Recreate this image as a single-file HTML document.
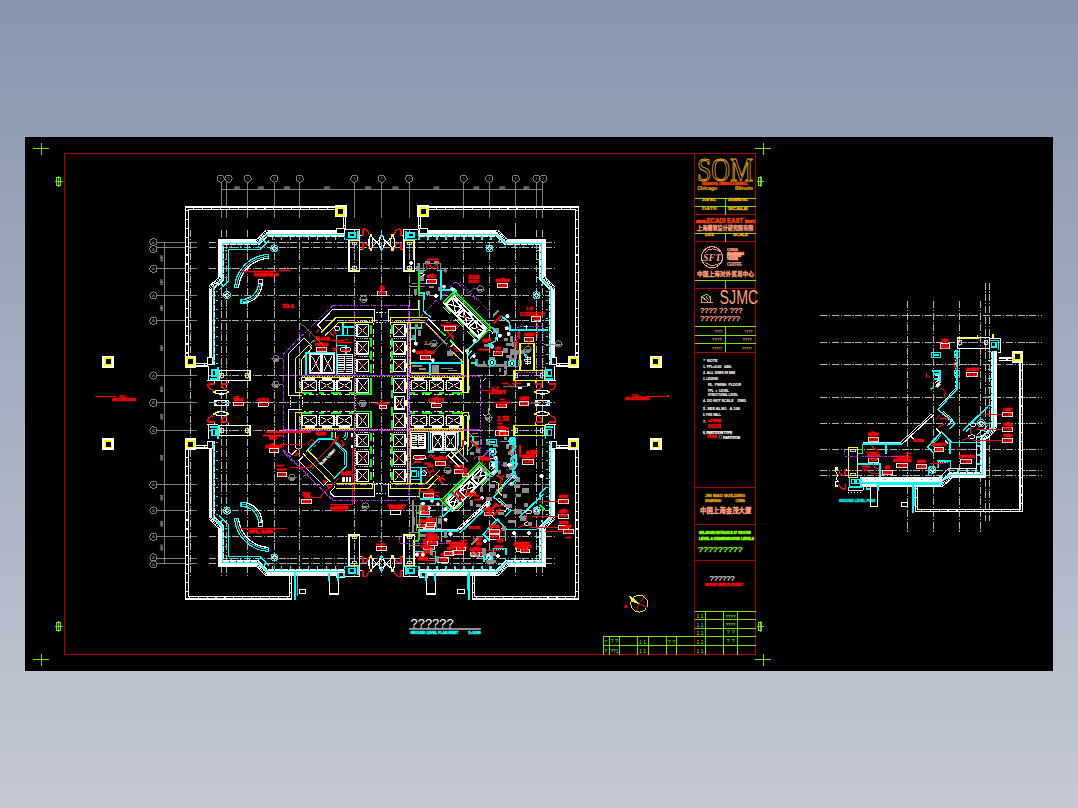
<!DOCTYPE html>
<html lang="zh"><head><meta charset="utf-8"><title>GROUND LEVEL PLAN - JIN MAO BUILDING</title>
<style>
html,body{margin:0;padding:0;width:1078px;height:808px;overflow:hidden}
body{background:linear-gradient(to bottom,#8696ad 0%,#c4c8d4 100%)}
svg{position:absolute;left:0;top:0;display:block}
text{white-space:pre}
</style></head><body>
<svg shape-rendering="crispEdges" width="1078" height="808" viewBox="0 0 1078 808">
<rect x="25" y="137" width="1028" height="534" fill="#000"/>
<polygon points="64.5,153.5 755.7,153.5 755.7,654.6 64.5,654.6" fill="none" stroke="#a80000" stroke-width="1.1"/>
<line x1="694.6" y1="153.5" x2="694.6" y2="654.6" stroke="#a80000" stroke-width="1.1"/>
<line x1="33.4" y1="148.5" x2="49.4" y2="148.5" stroke="#80ff00" stroke-width="0.9"/>
<line x1="41.4" y1="142.5" x2="41.4" y2="154.5" stroke="#80ff00" stroke-width="0.9"/>
<line x1="755.4" y1="148.5" x2="771.4" y2="148.5" stroke="#80ff00" stroke-width="0.9"/>
<line x1="763.4" y1="142.5" x2="763.4" y2="154.5" stroke="#80ff00" stroke-width="0.9"/>
<line x1="33.4" y1="659.5" x2="49.4" y2="659.5" stroke="#80ff00" stroke-width="0.9"/>
<line x1="41.4" y1="653.5" x2="41.4" y2="665.5" stroke="#80ff00" stroke-width="0.9"/>
<line x1="755.4" y1="659.5" x2="771.4" y2="659.5" stroke="#80ff00" stroke-width="0.9"/>
<line x1="763.4" y1="653.5" x2="763.4" y2="665.5" stroke="#80ff00" stroke-width="0.9"/>
<rect x="56.8" y="177.1" width="3.4" height="8.4" fill="none" stroke="#80ff00" stroke-width="0.9"/>
<line x1="58.5" y1="175.8" x2="58.5" y2="186.8" stroke="#80ff00" stroke-width="0.8"/>
<line x1="55.2" y1="181.3" x2="62.5" y2="181.3" stroke="#80ff00" stroke-width="0.8"/>
<rect x="758.5" y="177.1" width="3.4" height="8.4" fill="none" stroke="#80ff00" stroke-width="0.9"/>
<line x1="760.2" y1="175.8" x2="760.2" y2="186.8" stroke="#80ff00" stroke-width="0.8"/>
<line x1="756.9" y1="181.3" x2="764.2" y2="181.3" stroke="#80ff00" stroke-width="0.8"/>
<rect x="56.8" y="622.3" width="3.4" height="8.4" fill="none" stroke="#80ff00" stroke-width="0.9"/>
<line x1="58.5" y1="621" x2="58.5" y2="632" stroke="#80ff00" stroke-width="0.8"/>
<line x1="55.2" y1="626.5" x2="62.5" y2="626.5" stroke="#80ff00" stroke-width="0.8"/>
<rect x="758.5" y="622.3" width="3.4" height="8.4" fill="none" stroke="#80ff00" stroke-width="0.9"/>
<line x1="760.2" y1="621" x2="760.2" y2="632" stroke="#80ff00" stroke-width="0.8"/>
<line x1="756.9" y1="626.5" x2="764.2" y2="626.5" stroke="#80ff00" stroke-width="0.8"/>
<line x1="694.6" y1="214.5" x2="755.7" y2="214.5" stroke="#a80000" stroke-width="1.1"/>
<line x1="694.6" y1="241.6" x2="755.7" y2="241.6" stroke="#a80000" stroke-width="1.1"/>
<line x1="694.6" y1="288.6" x2="755.7" y2="288.6" stroke="#a80000" stroke-width="1.1"/>
<line x1="694.6" y1="352.3" x2="755.7" y2="352.3" stroke="#a80000" stroke-width="1.1"/>
<line x1="694.6" y1="487.3" x2="755.7" y2="487.3" stroke="#a80000" stroke-width="1.1"/>
<line x1="694.6" y1="524.5" x2="755.7" y2="524.5" stroke="#a80000" stroke-width="1.1"/>
<line x1="694.6" y1="560.4" x2="755.7" y2="560.4" stroke="#a80000" stroke-width="1.1"/>
<line x1="694.6" y1="198.6" x2="755.7" y2="198.6" stroke="#80ff00" stroke-width="0.9"/>
<line x1="694.6" y1="206.5" x2="755.7" y2="206.5" stroke="#80ff00" stroke-width="0.9"/>
<line x1="694.6" y1="233.6" x2="755.7" y2="233.6" stroke="#80ff00" stroke-width="0.9"/>
<line x1="694.6" y1="280.5" x2="755.7" y2="280.5" stroke="#80ff00" stroke-width="0.9"/>
<line x1="694.6" y1="326.4" x2="755.7" y2="326.4" stroke="#80ff00" stroke-width="0.9"/>
<line x1="694.6" y1="335.5" x2="755.7" y2="335.5" stroke="#80ff00" stroke-width="0.9"/>
<line x1="694.6" y1="343.6" x2="755.7" y2="343.6" stroke="#80ff00" stroke-width="0.9"/>
<line x1="725.5" y1="198.6" x2="725.5" y2="214.5" stroke="#80ff00" stroke-width="0.9"/>
<line x1="725.5" y1="233.6" x2="725.5" y2="241.6" stroke="#80ff00" stroke-width="0.9"/>
<line x1="725.5" y1="280.5" x2="725.5" y2="288.6" stroke="#80ff00" stroke-width="0.9"/>
<line x1="725.5" y1="326.4" x2="725.5" y2="352.3" stroke="#80ff00" stroke-width="0.9"/>
<text x="697" y="180.8" font-family="'Liberation Serif','Noto Serif CJK SC',serif" font-size="34.5" font-weight="normal" fill="#e8a800" text-anchor="start" textLength="56" lengthAdjust="spacingAndGlyphs" style="fill:none;stroke:#eaaa00;stroke-width:1px">SOM</text>
<text x="702" y="184.6" font-family="'Liberation Sans','Noto Sans CJK SC',sans-serif" font-size="3.1" font-weight="bold" fill="#ff4000" text-anchor="start" textLength="46" lengthAdjust="spacingAndGlyphs" stroke="#ff4000" stroke-width="0.35">SKIDMORE, OWINGS &amp; MERRILL</text>
<text x="697.2" y="190.2" font-family="'Liberation Sans','Noto Sans CJK SC',sans-serif" font-size="5" font-weight="bold" fill="#e8a800" text-anchor="start" textLength="20" lengthAdjust="spacingAndGlyphs" stroke="#e8a800" stroke-width="0.2">Chicago</text>
<text x="735" y="190.2" font-family="'Liberation Sans','Noto Sans CJK SC',sans-serif" font-size="5" font-weight="bold" fill="#e8a800" text-anchor="start" textLength="18" lengthAdjust="spacingAndGlyphs" stroke="#e8a800" stroke-width="0.2">Illinois</text>
<text x="702" y="201.2" font-family="'Liberation Sans','Noto Sans CJK SC',sans-serif" font-size="2.6" font-weight="bold" fill="#e8a800" text-anchor="start" textLength="14" lengthAdjust="spacingAndGlyphs" stroke="#e8a800" stroke-width="0.3">JOB NO.</text>
<text x="728" y="201.2" font-family="'Liberation Sans','Noto Sans CJK SC',sans-serif" font-size="2.6" font-weight="bold" fill="#e8a800" text-anchor="start" textLength="20" lengthAdjust="spacingAndGlyphs" stroke="#e8a800" stroke-width="0.3">DRAWING NO.</text>
<text x="702" y="209.6" font-family="'Liberation Sans','Noto Sans CJK SC',sans-serif" font-size="2.6" font-weight="bold" fill="#e8a800" text-anchor="start" textLength="15" lengthAdjust="spacingAndGlyphs" stroke="#e8a800" stroke-width="0.15">DATE</text>
<text x="728" y="209.6" font-family="'Liberation Sans','Noto Sans CJK SC',sans-serif" font-size="2.6" font-weight="bold" fill="#e8a800" text-anchor="start" textLength="20" lengthAdjust="spacingAndGlyphs" stroke="#e8a800" stroke-width="0.3">SCALE</text>
<text x="706.6" y="222.6" font-family="'Liberation Sans','Noto Sans CJK SC',sans-serif" font-size="7" font-weight="bold" fill="#ff4000" text-anchor="start" textLength="36.5" lengthAdjust="spacingAndGlyphs" stroke="#ff4000" stroke-width="0.5">ECADI EAST</text>
<text x="696" y="222.8" font-family="'Liberation Sans','Noto Sans CJK SC',sans-serif" font-size="2.6" font-weight="bold" fill="#ff4000" text-anchor="start" textLength="10.4" lengthAdjust="spacingAndGlyphs" stroke="#ff4000" stroke-width="0.6">ARCH.</text>
<text x="745" y="222.8" font-family="'Liberation Sans','Noto Sans CJK SC',sans-serif" font-size="3.4" font-weight="bold" fill="#ff4000" text-anchor="start" textLength="10.4" lengthAdjust="spacingAndGlyphs" stroke="#ff4000" stroke-width="0.6">INST.</text>
<text x="697" y="229.8" font-family="'Liberation Sans','Noto Sans CJK SC',sans-serif" font-size="5.4" font-weight="bold" fill="#ff9f80" text-anchor="start" textLength="56.5" lengthAdjust="spacingAndGlyphs" stroke="#ff9f80" stroke-width="0.3">上海建筑设计研究院有限</text>
<text x="705" y="236.4" font-family="'Liberation Sans','Noto Sans CJK SC',sans-serif" font-size="2.6" font-weight="bold" fill="#e8a800" text-anchor="start" textLength="9" lengthAdjust="spacingAndGlyphs" stroke="#e8a800" stroke-width="0.3">DATE</text>
<text x="733" y="236.4" font-family="'Liberation Sans','Noto Sans CJK SC',sans-serif" font-size="2.6" font-weight="bold" fill="#e8a800" text-anchor="start" textLength="15" lengthAdjust="spacingAndGlyphs" stroke="#e8a800" stroke-width="0.3">SCALE</text>
<circle cx="712" cy="257.2" r="10.6" fill="none" stroke="#ff9f80" stroke-width="1.1"/>
<text x="712" y="260.6" font-family="'Liberation Serif','Noto Serif CJK SC',serif" font-size="9.5" font-weight="bold" fill="#ff9f80" text-anchor="middle" textLength="18" lengthAdjust="spacingAndGlyphs" font-style="italic">SFT</text>
<path d="M704.5,252 Q712,246 720,251.5 M704.5,262.5 Q712,268.5 720.5,262.5" fill="none" stroke="#ff9f80" stroke-width="0.9"/>
<text x="727" y="250.6" font-family="'Liberation Sans','Noto Sans CJK SC',sans-serif" font-size="3.2" font-weight="bold" fill="#ff9f80" text-anchor="start" textLength="11" lengthAdjust="spacingAndGlyphs" stroke="#ff9f80" stroke-width="0.25">CHINA</text>
<text x="727" y="254.8" font-family="'Liberation Sans','Noto Sans CJK SC',sans-serif" font-size="3" font-weight="bold" fill="#ff9f80" text-anchor="start" textLength="17" lengthAdjust="spacingAndGlyphs" stroke="#ff9f80" stroke-width="0.5">SHANGHAI</text>
<text x="727" y="257.4" font-family="'Liberation Sans','Noto Sans CJK SC',sans-serif" font-size="3" font-weight="bold" fill="#ff9f80" text-anchor="start" textLength="14" lengthAdjust="spacingAndGlyphs" stroke="#ff9f80" stroke-width="0.5">FOREIGN</text>
<text x="727" y="260" font-family="'Liberation Sans','Noto Sans CJK SC',sans-serif" font-size="3" font-weight="bold" fill="#ff9f80" text-anchor="start" textLength="11" lengthAdjust="spacingAndGlyphs" stroke="#ff9f80" stroke-width="0.5">TRADE</text>
<text x="727" y="266.4" font-family="'Liberation Sans','Noto Sans CJK SC',sans-serif" font-size="4.6" font-weight="bold" fill="#ff9f80" text-anchor="start" textLength="14.5" lengthAdjust="spacingAndGlyphs" stroke="#ff9f80" stroke-width="0.2">CENTRE</text>
<text x="697" y="275.8" font-family="'Liberation Sans','Noto Sans CJK SC',sans-serif" font-size="6" font-weight="bold" fill="#ff9f80" text-anchor="start" textLength="57" lengthAdjust="spacingAndGlyphs" stroke="#ff9f80" stroke-width="0.3">中国上海对外贸易中心</text>
<text x="719.6" y="303.7" font-family="'Liberation Sans','Noto Sans CJK SC',sans-serif" font-size="19.6" font-weight="normal" fill="#ff9f80" text-anchor="start" textLength="38.6" lengthAdjust="spacingAndGlyphs">SJMC</text>
<polyline points="701.2,302.6 701.2,296.6 707,294.3 710,296.4 710,302.6 713,302.6 701.2,302.6" fill="none" stroke="#ff9f80" stroke-width="0.9"/>
<polyline points="703.5,296.5 708.5,302" fill="none" stroke="#ff9f80" stroke-width="0.9"/>
<polyline points="706,295.5 710,300" fill="none" stroke="#ff9f80" stroke-width="0.9"/>
<line x1="702.5" y1="297.3" x2="705" y2="299.8" stroke="#00ff00" stroke-width="1.1"/>
<line x1="708.6" y1="295.2" x2="709.6" y2="298" stroke="#00ff00" stroke-width="1"/>
<text x="700" y="313" font-family="'Liberation Sans','Noto Sans CJK SC',sans-serif" font-size="6.6" font-weight="normal" fill="#ff9f80" text-anchor="start" textLength="42.5" lengthAdjust="spacingAndGlyphs" stroke="#ff9f80" stroke-width="0.3">???? ?? ???</text>
<text x="700" y="320.8" font-family="'Liberation Sans','Noto Sans CJK SC',sans-serif" font-size="6.6" font-weight="normal" fill="#ff9f80" text-anchor="start" textLength="40" lengthAdjust="spacingAndGlyphs" stroke="#ff9f80" stroke-width="0.3">?????????</text>
<text x="714.5" y="333" font-family="'Liberation Sans','Noto Sans CJK SC',sans-serif" font-size="4.2" font-weight="bold" fill="#ff9f80" text-anchor="start" textLength="8" lengthAdjust="spacingAndGlyphs">????</text>
<text x="744.5" y="333" font-family="'Liberation Sans','Noto Sans CJK SC',sans-serif" font-size="4.2" font-weight="bold" fill="#ff9f80" text-anchor="start" textLength="8" lengthAdjust="spacingAndGlyphs">????</text>
<text x="712" y="341.2" font-family="'Liberation Sans','Noto Sans CJK SC',sans-serif" font-size="4.2" font-weight="bold" fill="#ff9f80" text-anchor="start" textLength="10" lengthAdjust="spacingAndGlyphs">????</text>
<text x="742.5" y="341.2" font-family="'Liberation Sans','Noto Sans CJK SC',sans-serif" font-size="4.2" font-weight="bold" fill="#ff9f80" text-anchor="start" textLength="9.5" lengthAdjust="spacingAndGlyphs">????</text>
<text x="712" y="349.8" font-family="'Liberation Sans','Noto Sans CJK SC',sans-serif" font-size="4.2" font-weight="bold" fill="#ff9f80" text-anchor="start" textLength="10" lengthAdjust="spacingAndGlyphs">?????</text>
<text x="742" y="349.8" font-family="'Liberation Sans','Noto Sans CJK SC',sans-serif" font-size="4.2" font-weight="bold" fill="#ff9f80" text-anchor="start" textLength="10" lengthAdjust="spacingAndGlyphs">?????</text>
<text x="703.5" y="361.6" font-family="'Liberation Sans','Noto Sans CJK SC',sans-serif" font-size="3.4" font-weight="bold" fill="#ffffff" text-anchor="start" textLength="14" lengthAdjust="spacingAndGlyphs" stroke="#ffffff" stroke-width="0.1">*  NOTE</text>
<text x="703" y="368" font-family="'Liberation Sans','Noto Sans CJK SC',sans-serif" font-size="3.2" font-weight="bold" fill="#ffffff" text-anchor="start" textLength="29" lengthAdjust="spacingAndGlyphs" stroke="#ffffff" stroke-width="0.1">1. FFL=0.00   ABS.</text>
<text x="703" y="374" font-family="'Liberation Sans','Noto Sans CJK SC',sans-serif" font-size="3.2" font-weight="bold" fill="#ffffff" text-anchor="start" textLength="32" lengthAdjust="spacingAndGlyphs" stroke="#ffffff" stroke-width="0.1">2. ALL DIMS IN MM</text>
<text x="703" y="380" font-family="'Liberation Sans','Noto Sans CJK SC',sans-serif" font-size="3.2" font-weight="bold" fill="#ffffff" text-anchor="start" textLength="15" lengthAdjust="spacingAndGlyphs" stroke="#ffffff" stroke-width="0.1">3. LEGEND</text>
<text x="708" y="386" font-family="'Liberation Sans','Noto Sans CJK SC',sans-serif" font-size="3.2" font-weight="bold" fill="#ffffff" text-anchor="start" textLength="33" lengthAdjust="spacingAndGlyphs" stroke="#ffffff" stroke-width="0.1">RL  FINISH  FLOOR</text>
<text x="708" y="392.2" font-family="'Liberation Sans','Noto Sans CJK SC',sans-serif" font-size="3.2" font-weight="bold" fill="#ffffff" text-anchor="start" textLength="21" lengthAdjust="spacingAndGlyphs" stroke="#ffffff" stroke-width="0.1">FFL  =  LEVEL</text>
<text x="708" y="396" font-family="'Liberation Sans','Noto Sans CJK SC',sans-serif" font-size="2.8" font-weight="bold" fill="#ffffff" text-anchor="start" textLength="30" lengthAdjust="spacingAndGlyphs" stroke="#ffffff" stroke-width="0.1">STRUCTURAL LEVEL</text>
<text x="703" y="402.4" font-family="'Liberation Sans','Noto Sans CJK SC',sans-serif" font-size="3.2" font-weight="bold" fill="#ffffff" text-anchor="start" textLength="43" lengthAdjust="spacingAndGlyphs" stroke="#ffffff" stroke-width="0.1">4. DO NOT SCALE    DWG</text>
<text x="703" y="409.8" font-family="'Liberation Sans','Noto Sans CJK SC',sans-serif" font-size="3.2" font-weight="bold" fill="#ffffff" text-anchor="start" textLength="37" lengthAdjust="spacingAndGlyphs" stroke="#ffffff" stroke-width="0.1">5. SEE ALSO   A-100</text>
<text x="703" y="416" font-family="'Liberation Sans','Noto Sans CJK SC',sans-serif" font-size="3.2" font-weight="bold" fill="#ffffff" text-anchor="start" textLength="18" lengthAdjust="spacingAndGlyphs" stroke="#ffffff" stroke-width="0.1">6. FIRE WALL</text>
<text x="703" y="422.6" font-family="'Liberation Sans','Noto Sans CJK SC',sans-serif" font-size="3.2" font-weight="bold" fill="#ffffff" text-anchor="start" textLength="3" lengthAdjust="spacingAndGlyphs" stroke="#ffffff" stroke-width="0.1">7.</text>
<text x="708" y="421.6" font-family="'Liberation Sans','Noto Sans CJK SC',sans-serif" font-size="3.2" font-weight="bold" fill="#ff0000" text-anchor="start" textLength="13" lengthAdjust="spacingAndGlyphs" stroke="#ff0000" stroke-width="0.4">=FIRE</text>
<text x="708" y="427.6" font-family="'Liberation Sans','Noto Sans CJK SC',sans-serif" font-size="4.6" font-weight="bold" fill="#ff0000" text-anchor="start" textLength="13" lengthAdjust="spacingAndGlyphs" stroke="#ff0000" stroke-width="0.4">DOOR</text>
<text x="703" y="433.6" font-family="'Liberation Sans','Noto Sans CJK SC',sans-serif" font-size="3.2" font-weight="bold" fill="#ffffff" text-anchor="start" textLength="29" lengthAdjust="spacingAndGlyphs" stroke="#ffffff" stroke-width="0.25">8. PARTITION TYPE</text>
<text x="707" y="438.4" font-family="'Liberation Sans','Noto Sans CJK SC',sans-serif" font-size="2.8" font-weight="bold" fill="#ff0000" text-anchor="start" textLength="10" lengthAdjust="spacingAndGlyphs" stroke="#ff0000" stroke-width="0.4">TYPE</text>
<rect x="719" y="435.3" width="2.4" height="3.2" fill="none" stroke="#8c8c8c" stroke-width="0.6"/>
<rect x="719.4" y="435.8" width="1" height="2.2" fill="#ff0000"/>
<text x="723" y="438.6" font-family="'Liberation Sans','Noto Sans CJK SC',sans-serif" font-size="3.4" font-weight="bold" fill="#ffffff" text-anchor="start" textLength="17" lengthAdjust="spacingAndGlyphs" stroke="#ffffff" stroke-width="0.2">PARTITION</text>
<text x="705" y="497.2" font-family="'Liberation Sans','Noto Sans CJK SC',sans-serif" font-size="3.8" font-weight="bold" fill="#e8a800" text-anchor="start" textLength="40" lengthAdjust="spacingAndGlyphs" stroke="#e8a800" stroke-width="0.3">JIN MAO BUILDING</text>
<text x="705" y="501.8" font-family="'Liberation Sans','Noto Sans CJK SC',sans-serif" font-size="3.2" font-weight="bold" fill="#e8a800" text-anchor="start" textLength="16" lengthAdjust="spacingAndGlyphs" stroke="#e8a800" stroke-width="0.3">SHANGHAI</text>
<text x="735.5" y="501.8" font-family="'Liberation Sans','Noto Sans CJK SC',sans-serif" font-size="3.2" font-weight="bold" fill="#e8a800" text-anchor="start" textLength="9.5" lengthAdjust="spacingAndGlyphs" stroke="#e8a800" stroke-width="0.3">CHINA</text>
<text x="700" y="513.4" font-family="'Liberation Sans','Noto Sans CJK SC',sans-serif" font-size="6.6" font-weight="bold" fill="#ff9f80" text-anchor="start" textLength="51.5" lengthAdjust="spacingAndGlyphs" stroke="#ff9f80" stroke-width="0.35">中国上海金茂大厦</text>
<text x="699" y="534.2" font-family="'Liberation Sans','Noto Sans CJK SC',sans-serif" font-size="3.4" font-weight="bold" fill="#80ff00" text-anchor="start" textLength="52" lengthAdjust="spacingAndGlyphs" stroke="#80ff00" stroke-width="0.45">ENLARGED ENTRANCE AT GROUND</text>
<text x="699" y="540.4" font-family="'Liberation Sans','Noto Sans CJK SC',sans-serif" font-size="3.4" font-weight="bold" fill="#80ff00" text-anchor="start" textLength="55" lengthAdjust="spacingAndGlyphs" stroke="#80ff00" stroke-width="0.55">LEVEL &amp; UNDERGROUND LEVELS</text>
<text x="698" y="551.8" font-family="'Liberation Sans','Noto Sans CJK SC',sans-serif" font-size="7.2" font-weight="normal" fill="#80ff00" text-anchor="start" textLength="44.5" lengthAdjust="spacingAndGlyphs" stroke="#80ff00" stroke-width="0.3">?????????</text>
<text x="709.6" y="581.2" font-family="'Liberation Sans','Noto Sans CJK SC',sans-serif" font-size="6.6" font-weight="normal" fill="#ffffff" text-anchor="start" textLength="25" lengthAdjust="spacingAndGlyphs" stroke="#ffffff" stroke-width="0.15">??????</text>
<text x="705" y="586.2" font-family="'Liberation Sans','Noto Sans CJK SC',sans-serif" font-size="2.9" font-weight="bold" fill="#ff0000" text-anchor="start" textLength="38" lengthAdjust="spacingAndGlyphs" stroke="#ff0000" stroke-width="0.45">GROUND LEVEL PLAN-WEST</text>
<line x1="694.6" y1="611.4" x2="755.7" y2="611.4" stroke="#80ff00" stroke-width="0.9"/>
<line x1="694.6" y1="619.4" x2="755.7" y2="619.4" stroke="#80ff00" stroke-width="0.9"/>
<line x1="694.6" y1="628.6" x2="755.7" y2="628.6" stroke="#80ff00" stroke-width="0.9"/>
<line x1="694.6" y1="636.4" x2="755.7" y2="636.4" stroke="#80ff00" stroke-width="0.9"/>
<line x1="694.6" y1="645.3" x2="755.7" y2="645.3" stroke="#80ff00" stroke-width="0.9"/>
<line x1="705.4" y1="611.4" x2="705.4" y2="654.6" stroke="#80ff00" stroke-width="0.9"/>
<line x1="723.2" y1="611.4" x2="723.2" y2="654.6" stroke="#80ff00" stroke-width="0.9"/>
<line x1="737.9" y1="611.4" x2="737.9" y2="654.6" stroke="#80ff00" stroke-width="0.9"/>
<line x1="603.4" y1="636.4" x2="694.6" y2="636.4" stroke="#80ff00" stroke-width="0.9"/>
<line x1="603.4" y1="645.3" x2="694.6" y2="645.3" stroke="#80ff00" stroke-width="0.9"/>
<line x1="603.4" y1="636.4" x2="603.4" y2="654.6" stroke="#80ff00" stroke-width="0.9"/>
<line x1="609.1" y1="636.4" x2="609.1" y2="654.6" stroke="#80ff00" stroke-width="0.9"/>
<line x1="619.3" y1="636.4" x2="619.3" y2="654.6" stroke="#80ff00" stroke-width="0.9"/>
<line x1="637.3" y1="636.4" x2="637.3" y2="654.6" stroke="#80ff00" stroke-width="0.9"/>
<line x1="648.4" y1="636.4" x2="648.4" y2="654.6" stroke="#80ff00" stroke-width="0.9"/>
<line x1="666.4" y1="636.4" x2="666.4" y2="654.6" stroke="#80ff00" stroke-width="0.9"/>
<line x1="676.6" y1="636.4" x2="676.6" y2="654.6" stroke="#80ff00" stroke-width="0.9"/>
<text x="696.6" y="618" font-family="'Liberation Sans','Noto Sans CJK SC',sans-serif" font-size="5" font-weight="normal" fill="#80ff00" text-anchor="start" textLength="7" lengthAdjust="spacingAndGlyphs">1 1</text>
<text x="696.6" y="626.6" font-family="'Liberation Sans','Noto Sans CJK SC',sans-serif" font-size="5" font-weight="normal" fill="#80ff00" text-anchor="start" textLength="7" lengthAdjust="spacingAndGlyphs">1 1</text>
<text x="696.6" y="635" font-family="'Liberation Sans','Noto Sans CJK SC',sans-serif" font-size="5" font-weight="normal" fill="#80ff00" text-anchor="start" textLength="7" lengthAdjust="spacingAndGlyphs">1 1</text>
<text x="696.6" y="643.6" font-family="'Liberation Sans','Noto Sans CJK SC',sans-serif" font-size="5" font-weight="normal" fill="#80ff00" text-anchor="start" textLength="7" lengthAdjust="spacingAndGlyphs">1 1</text>
<text x="696.6" y="652.8" font-family="'Liberation Sans','Noto Sans CJK SC',sans-serif" font-size="5" font-weight="normal" fill="#80ff00" text-anchor="start" textLength="7" lengthAdjust="spacingAndGlyphs">1 1</text>
<text x="725.6" y="617.6" font-family="'Liberation Sans','Noto Sans CJK SC',sans-serif" font-size="4.2" font-weight="bold" fill="#80ff00" text-anchor="start" textLength="10" lengthAdjust="spacingAndGlyphs">????</text>
<text x="725.6" y="626" font-family="'Liberation Sans','Noto Sans CJK SC',sans-serif" font-size="4.2" font-weight="bold" fill="#80ff00" text-anchor="start" textLength="10" lengthAdjust="spacingAndGlyphs">????</text>
<text x="726.6" y="634.2" font-family="'Liberation Sans','Noto Sans CJK SC',sans-serif" font-size="4.6" font-weight="normal" fill="#80ff00" text-anchor="start" textLength="8" lengthAdjust="spacingAndGlyphs">? ?</text>
<text x="726.6" y="642.6" font-family="'Liberation Sans','Noto Sans CJK SC',sans-serif" font-size="4.6" font-weight="normal" fill="#80ff00" text-anchor="start" textLength="8" lengthAdjust="spacingAndGlyphs">? ?</text>
<text x="604.6" y="643.8" font-family="'Liberation Sans','Noto Sans CJK SC',sans-serif" font-size="4.6" font-weight="normal" fill="#80ff00" text-anchor="start">?</text>
<text x="604.6" y="652.8" font-family="'Liberation Sans','Noto Sans CJK SC',sans-serif" font-size="4.6" font-weight="normal" fill="#80ff00" text-anchor="start">?</text>
<text x="610.6" y="643.4" font-family="'Liberation Sans','Noto Sans CJK SC',sans-serif" font-size="4.6" font-weight="normal" fill="#80ff00" text-anchor="start" textLength="7.5" lengthAdjust="spacingAndGlyphs">? ?</text>
<text x="610.4" y="652.8" font-family="'Liberation Sans','Noto Sans CJK SC',sans-serif" font-size="4.6" font-weight="normal" fill="#80ff00" text-anchor="start" textLength="8" lengthAdjust="spacingAndGlyphs">??1</text>
<text x="639" y="643.8" font-family="'Liberation Sans','Noto Sans CJK SC',sans-serif" font-size="5" font-weight="normal" fill="#80ff00" text-anchor="start" textLength="7" lengthAdjust="spacingAndGlyphs">1 1</text>
<text x="639" y="652.8" font-family="'Liberation Sans','Noto Sans CJK SC',sans-serif" font-size="5" font-weight="normal" fill="#80ff00" text-anchor="start" textLength="7" lengthAdjust="spacingAndGlyphs">1 1</text>
<text x="668" y="643.6" font-family="'Liberation Sans','Noto Sans CJK SC',sans-serif" font-size="4.6" font-weight="normal" fill="#80ff00" text-anchor="start" textLength="7" lengthAdjust="spacingAndGlyphs">? ?</text>
<circle cx="639.2" cy="603.6" r="8.5" fill="none" stroke="#ffff00" stroke-width="0.9"/>
<line x1="639.2" y1="603.6" x2="645" y2="595.4" stroke="#ff0000" stroke-width="0.9"/>
<line x1="639.2" y1="603.6" x2="646.5" y2="607.1" stroke="#ff0000" stroke-width="0.9"/>
<line x1="639.2" y1="603.6" x2="635.8" y2="611.4" stroke="#ff0000" stroke-width="0.9"/>
<polyline points="639.2,603.6 629.6,595.6 632,601.2 639.2,603.6" fill="#ffff00" stroke="#ffff00" stroke-width="0.9"/>
<text x="624" y="607.6" font-family="'Liberation Sans','Noto Sans CJK SC',sans-serif" font-size="4" font-weight="bold" fill="#ff0000" text-anchor="start" stroke="#ff0000" stroke-width="0.3">N</text>
<circle cx="220.7" cy="178.7" r="3.6" fill="none" stroke="#8c8c8c" stroke-width="0.9"/>
<text x="220.7" y="180.3" font-family="'Liberation Sans','Noto Sans CJK SC',sans-serif" font-size="4.2" font-weight="normal" fill="#8c8c8c" text-anchor="middle">1</text>
<line x1="221.4" y1="182.4" x2="221.4" y2="217.7" stroke="#8c8c8c" stroke-width="0.9"/>
<circle cx="228.5" cy="178.7" r="3.6" fill="none" stroke="#8c8c8c" stroke-width="0.9"/>
<text x="228.5" y="180.3" font-family="'Liberation Sans','Noto Sans CJK SC',sans-serif" font-size="4.2" font-weight="normal" fill="#8c8c8c" text-anchor="middle">1</text>
<line x1="226.5" y1="182.4" x2="226.5" y2="217.7" stroke="#8c8c8c" stroke-width="0.9"/>
<circle cx="247.7" cy="178.7" r="3.6" fill="none" stroke="#8c8c8c" stroke-width="0.9"/>
<text x="247.7" y="180.3" font-family="'Liberation Sans','Noto Sans CJK SC',sans-serif" font-size="4.2" font-weight="normal" fill="#8c8c8c" text-anchor="middle">1</text>
<line x1="247.7" y1="182.4" x2="247.7" y2="217.7" stroke="#8c8c8c" stroke-width="0.9"/>
<circle cx="274.2" cy="178.7" r="3.6" fill="none" stroke="#8c8c8c" stroke-width="0.9"/>
<text x="274.2" y="180.3" font-family="'Liberation Sans','Noto Sans CJK SC',sans-serif" font-size="4.2" font-weight="normal" fill="#8c8c8c" text-anchor="middle">1</text>
<line x1="274.2" y1="182.4" x2="274.2" y2="217.7" stroke="#8c8c8c" stroke-width="0.9"/>
<circle cx="299.7" cy="178.7" r="3.6" fill="none" stroke="#8c8c8c" stroke-width="0.9"/>
<text x="299.7" y="180.3" font-family="'Liberation Sans','Noto Sans CJK SC',sans-serif" font-size="4.2" font-weight="normal" fill="#8c8c8c" text-anchor="middle">1</text>
<line x1="299.7" y1="182.4" x2="299.7" y2="217.7" stroke="#8c8c8c" stroke-width="0.9"/>
<circle cx="354.3" cy="178.7" r="3.6" fill="none" stroke="#8c8c8c" stroke-width="0.9"/>
<text x="354.3" y="180.3" font-family="'Liberation Sans','Noto Sans CJK SC',sans-serif" font-size="4.2" font-weight="normal" fill="#8c8c8c" text-anchor="middle">1</text>
<line x1="354.3" y1="182.4" x2="354.3" y2="217.7" stroke="#8c8c8c" stroke-width="0.9"/>
<circle cx="381.7" cy="178.7" r="3.6" fill="none" stroke="#8c8c8c" stroke-width="0.9"/>
<text x="381.7" y="180.3" font-family="'Liberation Sans','Noto Sans CJK SC',sans-serif" font-size="4.2" font-weight="normal" fill="#8c8c8c" text-anchor="middle">1</text>
<line x1="381.7" y1="182.4" x2="381.7" y2="217.7" stroke="#8c8c8c" stroke-width="0.9"/>
<circle cx="409.1" cy="178.7" r="3.6" fill="none" stroke="#8c8c8c" stroke-width="0.9"/>
<text x="409.1" y="180.3" font-family="'Liberation Sans','Noto Sans CJK SC',sans-serif" font-size="4.2" font-weight="normal" fill="#8c8c8c" text-anchor="middle">1</text>
<line x1="409.1" y1="182.4" x2="409.1" y2="217.7" stroke="#8c8c8c" stroke-width="0.9"/>
<circle cx="463.7" cy="178.7" r="3.6" fill="none" stroke="#8c8c8c" stroke-width="0.9"/>
<text x="463.7" y="180.3" font-family="'Liberation Sans','Noto Sans CJK SC',sans-serif" font-size="4.2" font-weight="normal" fill="#8c8c8c" text-anchor="middle">1</text>
<line x1="463.7" y1="182.4" x2="463.7" y2="217.7" stroke="#8c8c8c" stroke-width="0.9"/>
<circle cx="489.2" cy="178.7" r="3.6" fill="none" stroke="#8c8c8c" stroke-width="0.9"/>
<text x="489.2" y="180.3" font-family="'Liberation Sans','Noto Sans CJK SC',sans-serif" font-size="4.2" font-weight="normal" fill="#8c8c8c" text-anchor="middle">1</text>
<line x1="489.2" y1="182.4" x2="489.2" y2="217.7" stroke="#8c8c8c" stroke-width="0.9"/>
<circle cx="515.7" cy="178.7" r="3.6" fill="none" stroke="#8c8c8c" stroke-width="0.9"/>
<text x="515.7" y="180.3" font-family="'Liberation Sans','Noto Sans CJK SC',sans-serif" font-size="4.2" font-weight="normal" fill="#8c8c8c" text-anchor="middle">1</text>
<line x1="515.7" y1="182.4" x2="515.7" y2="217.7" stroke="#8c8c8c" stroke-width="0.9"/>
<circle cx="536.5" cy="178.7" r="3.6" fill="none" stroke="#8c8c8c" stroke-width="0.9"/>
<text x="536.5" y="180.3" font-family="'Liberation Sans','Noto Sans CJK SC',sans-serif" font-size="4.2" font-weight="normal" fill="#8c8c8c" text-anchor="middle">1</text>
<line x1="536.9" y1="182.4" x2="536.9" y2="217.7" stroke="#8c8c8c" stroke-width="0.9"/>
<circle cx="543.2" cy="178.7" r="3.6" fill="none" stroke="#8c8c8c" stroke-width="0.9"/>
<text x="543.2" y="180.3" font-family="'Liberation Sans','Noto Sans CJK SC',sans-serif" font-size="4.2" font-weight="normal" fill="#8c8c8c" text-anchor="middle">1</text>
<line x1="542" y1="182.4" x2="542" y2="217.7" stroke="#8c8c8c" stroke-width="0.9"/>
<line x1="221.4" y1="189.2" x2="542" y2="189.2" stroke="#8c8c8c" stroke-width="0.9"/>
<text x="237.1" y="188.5" font-family="'Liberation Sans','Noto Sans CJK SC',sans-serif" font-size="2.6" font-weight="bold" fill="#9a9a9a" text-anchor="middle" stroke="#9a9a9a" stroke-width="0.1">8400</text>
<text x="260.95" y="188.5" font-family="'Liberation Sans','Noto Sans CJK SC',sans-serif" font-size="2.6" font-weight="bold" fill="#9a9a9a" text-anchor="middle" stroke="#9a9a9a" stroke-width="0.1">8400</text>
<text x="286.95" y="188.5" font-family="'Liberation Sans','Noto Sans CJK SC',sans-serif" font-size="2.6" font-weight="bold" fill="#9a9a9a" text-anchor="middle" stroke="#9a9a9a" stroke-width="0.1">8400</text>
<text x="327" y="188.5" font-family="'Liberation Sans','Noto Sans CJK SC',sans-serif" font-size="2.6" font-weight="bold" fill="#9a9a9a" text-anchor="middle" stroke="#9a9a9a" stroke-width="0.1">8400</text>
<text x="368" y="188.5" font-family="'Liberation Sans','Noto Sans CJK SC',sans-serif" font-size="2.6" font-weight="bold" fill="#9a9a9a" text-anchor="middle" stroke="#9a9a9a" stroke-width="0.1">8400</text>
<text x="395.4" y="188.5" font-family="'Liberation Sans','Noto Sans CJK SC',sans-serif" font-size="2.6" font-weight="bold" fill="#9a9a9a" text-anchor="middle" stroke="#9a9a9a" stroke-width="0.1">8400</text>
<text x="436.4" y="188.5" font-family="'Liberation Sans','Noto Sans CJK SC',sans-serif" font-size="2.6" font-weight="bold" fill="#9a9a9a" text-anchor="middle" stroke="#9a9a9a" stroke-width="0.1">8400</text>
<text x="476.45" y="188.5" font-family="'Liberation Sans','Noto Sans CJK SC',sans-serif" font-size="2.6" font-weight="bold" fill="#9a9a9a" text-anchor="middle" stroke="#9a9a9a" stroke-width="0.1">8400</text>
<text x="502.45" y="188.5" font-family="'Liberation Sans','Noto Sans CJK SC',sans-serif" font-size="2.6" font-weight="bold" fill="#9a9a9a" text-anchor="middle" stroke="#9a9a9a" stroke-width="0.1">8400</text>
<text x="526.3" y="188.5" font-family="'Liberation Sans','Noto Sans CJK SC',sans-serif" font-size="2.6" font-weight="bold" fill="#9a9a9a" text-anchor="middle" stroke="#9a9a9a" stroke-width="0.1">8400</text>
<circle cx="153.4" cy="242" r="3.6" fill="none" stroke="#8c8c8c" stroke-width="0.9"/>
<text x="153.4" y="243.5" font-family="'Liberation Sans','Noto Sans CJK SC',sans-serif" font-size="4" font-weight="normal" fill="#8c8c8c" text-anchor="middle">A</text>
<line x1="157.2" y1="242.6" x2="197" y2="242.6" stroke="#8c8c8c" stroke-width="0.9"/>
<circle cx="153.4" cy="249.1" r="3.6" fill="none" stroke="#8c8c8c" stroke-width="0.9"/>
<text x="153.4" y="250.6" font-family="'Liberation Sans','Noto Sans CJK SC',sans-serif" font-size="4" font-weight="normal" fill="#8c8c8c" text-anchor="middle">A</text>
<line x1="157.2" y1="247.7" x2="197" y2="247.7" stroke="#8c8c8c" stroke-width="0.9"/>
<circle cx="153.4" cy="268.9" r="3.6" fill="none" stroke="#8c8c8c" stroke-width="0.9"/>
<text x="153.4" y="270.4" font-family="'Liberation Sans','Noto Sans CJK SC',sans-serif" font-size="4" font-weight="normal" fill="#8c8c8c" text-anchor="middle">A</text>
<line x1="157.2" y1="268.9" x2="197" y2="268.9" stroke="#8c8c8c" stroke-width="0.9"/>
<circle cx="153.4" cy="295.4" r="3.6" fill="none" stroke="#8c8c8c" stroke-width="0.9"/>
<text x="153.4" y="296.9" font-family="'Liberation Sans','Noto Sans CJK SC',sans-serif" font-size="4" font-weight="normal" fill="#8c8c8c" text-anchor="middle">A</text>
<line x1="157.2" y1="295.4" x2="197" y2="295.4" stroke="#8c8c8c" stroke-width="0.9"/>
<circle cx="153.4" cy="320.9" r="3.6" fill="none" stroke="#8c8c8c" stroke-width="0.9"/>
<text x="153.4" y="322.4" font-family="'Liberation Sans','Noto Sans CJK SC',sans-serif" font-size="4" font-weight="normal" fill="#8c8c8c" text-anchor="middle">A</text>
<line x1="157.2" y1="320.9" x2="197" y2="320.9" stroke="#8c8c8c" stroke-width="0.9"/>
<circle cx="153.4" cy="375.5" r="3.6" fill="none" stroke="#8c8c8c" stroke-width="0.9"/>
<text x="153.4" y="377" font-family="'Liberation Sans','Noto Sans CJK SC',sans-serif" font-size="4" font-weight="normal" fill="#8c8c8c" text-anchor="middle">A</text>
<line x1="157.2" y1="375.5" x2="197" y2="375.5" stroke="#8c8c8c" stroke-width="0.9"/>
<circle cx="153.4" cy="402.9" r="3.6" fill="none" stroke="#8c8c8c" stroke-width="0.9"/>
<text x="153.4" y="404.4" font-family="'Liberation Sans','Noto Sans CJK SC',sans-serif" font-size="4" font-weight="normal" fill="#8c8c8c" text-anchor="middle">A</text>
<line x1="157.2" y1="402.9" x2="197" y2="402.9" stroke="#8c8c8c" stroke-width="0.9"/>
<circle cx="153.4" cy="430.3" r="3.6" fill="none" stroke="#8c8c8c" stroke-width="0.9"/>
<text x="153.4" y="431.8" font-family="'Liberation Sans','Noto Sans CJK SC',sans-serif" font-size="4" font-weight="normal" fill="#8c8c8c" text-anchor="middle">A</text>
<line x1="157.2" y1="430.3" x2="197" y2="430.3" stroke="#8c8c8c" stroke-width="0.9"/>
<circle cx="153.4" cy="484.9" r="3.6" fill="none" stroke="#8c8c8c" stroke-width="0.9"/>
<text x="153.4" y="486.4" font-family="'Liberation Sans','Noto Sans CJK SC',sans-serif" font-size="4" font-weight="normal" fill="#8c8c8c" text-anchor="middle">A</text>
<line x1="157.2" y1="484.9" x2="197" y2="484.9" stroke="#8c8c8c" stroke-width="0.9"/>
<circle cx="153.4" cy="510.4" r="3.6" fill="none" stroke="#8c8c8c" stroke-width="0.9"/>
<text x="153.4" y="511.9" font-family="'Liberation Sans','Noto Sans CJK SC',sans-serif" font-size="4" font-weight="normal" fill="#8c8c8c" text-anchor="middle">A</text>
<line x1="157.2" y1="510.4" x2="197" y2="510.4" stroke="#8c8c8c" stroke-width="0.9"/>
<circle cx="153.4" cy="536.9" r="3.6" fill="none" stroke="#8c8c8c" stroke-width="0.9"/>
<text x="153.4" y="538.4" font-family="'Liberation Sans','Noto Sans CJK SC',sans-serif" font-size="4" font-weight="normal" fill="#8c8c8c" text-anchor="middle">A</text>
<line x1="157.2" y1="536.9" x2="197" y2="536.9" stroke="#8c8c8c" stroke-width="0.9"/>
<circle cx="153.4" cy="557.3" r="3.6" fill="none" stroke="#8c8c8c" stroke-width="0.9"/>
<text x="153.4" y="558.8" font-family="'Liberation Sans','Noto Sans CJK SC',sans-serif" font-size="4" font-weight="normal" fill="#8c8c8c" text-anchor="middle">A</text>
<line x1="157.2" y1="558.1" x2="197" y2="558.1" stroke="#8c8c8c" stroke-width="0.9"/>
<circle cx="153.4" cy="564.4" r="3.6" fill="none" stroke="#8c8c8c" stroke-width="0.9"/>
<text x="153.4" y="565.9" font-family="'Liberation Sans','Noto Sans CJK SC',sans-serif" font-size="4" font-weight="normal" fill="#8c8c8c" text-anchor="middle">A</text>
<line x1="157.2" y1="563.2" x2="197" y2="563.2" stroke="#8c8c8c" stroke-width="0.9"/>
<line x1="164.2" y1="242.6" x2="164.2" y2="563.2" stroke="#8c8c8c" stroke-width="0.9"/>
<text x="163.4" y="258.3" font-family="'Liberation Sans','Noto Sans CJK SC',sans-serif" font-size="2.6" font-weight="bold" fill="#9a9a9a" text-anchor="middle" stroke="#9a9a9a" stroke-width="0.1" transform="rotate(-90 163.4 258.3)">8400</text>
<text x="163.4" y="282.15" font-family="'Liberation Sans','Noto Sans CJK SC',sans-serif" font-size="2.6" font-weight="bold" fill="#9a9a9a" text-anchor="middle" stroke="#9a9a9a" stroke-width="0.1" transform="rotate(-90 163.4 282.15)">8400</text>
<text x="163.4" y="308.15" font-family="'Liberation Sans','Noto Sans CJK SC',sans-serif" font-size="2.6" font-weight="bold" fill="#9a9a9a" text-anchor="middle" stroke="#9a9a9a" stroke-width="0.1" transform="rotate(-90 163.4 308.15)">8400</text>
<text x="163.4" y="348.2" font-family="'Liberation Sans','Noto Sans CJK SC',sans-serif" font-size="2.6" font-weight="bold" fill="#9a9a9a" text-anchor="middle" stroke="#9a9a9a" stroke-width="0.1" transform="rotate(-90 163.4 348.2)">8400</text>
<text x="163.4" y="389.2" font-family="'Liberation Sans','Noto Sans CJK SC',sans-serif" font-size="2.6" font-weight="bold" fill="#9a9a9a" text-anchor="middle" stroke="#9a9a9a" stroke-width="0.1" transform="rotate(-90 163.4 389.2)">8400</text>
<text x="163.4" y="416.6" font-family="'Liberation Sans','Noto Sans CJK SC',sans-serif" font-size="2.6" font-weight="bold" fill="#9a9a9a" text-anchor="middle" stroke="#9a9a9a" stroke-width="0.1" transform="rotate(-90 163.4 416.6)">8400</text>
<text x="163.4" y="457.6" font-family="'Liberation Sans','Noto Sans CJK SC',sans-serif" font-size="2.6" font-weight="bold" fill="#9a9a9a" text-anchor="middle" stroke="#9a9a9a" stroke-width="0.1" transform="rotate(-90 163.4 457.6)">8400</text>
<text x="163.4" y="497.65" font-family="'Liberation Sans','Noto Sans CJK SC',sans-serif" font-size="2.6" font-weight="bold" fill="#9a9a9a" text-anchor="middle" stroke="#9a9a9a" stroke-width="0.1" transform="rotate(-90 163.4 497.65)">8400</text>
<text x="163.4" y="523.65" font-family="'Liberation Sans','Noto Sans CJK SC',sans-serif" font-size="2.6" font-weight="bold" fill="#9a9a9a" text-anchor="middle" stroke="#9a9a9a" stroke-width="0.1" transform="rotate(-90 163.4 523.65)">8400</text>
<text x="163.4" y="547.5" font-family="'Liberation Sans','Noto Sans CJK SC',sans-serif" font-size="2.6" font-weight="bold" fill="#9a9a9a" text-anchor="middle" stroke="#9a9a9a" stroke-width="0.1" transform="rotate(-90 163.4 547.5)">8400</text>
<line x1="221.4" y1="230" x2="221.4" y2="575.5" stroke="#c4c4c4" stroke-width="0.9" stroke-dasharray="7 1.7 1.2 1.7"/>
<line x1="226.5" y1="230" x2="226.5" y2="575.5" stroke="#c4c4c4" stroke-width="0.9" stroke-dasharray="7 1.7 1.2 1.7"/>
<line x1="247.7" y1="230" x2="247.7" y2="575.5" stroke="#c4c4c4" stroke-width="0.9" stroke-dasharray="7 1.7 1.2 1.7"/>
<line x1="274.2" y1="230" x2="274.2" y2="575.5" stroke="#c4c4c4" stroke-width="0.9" stroke-dasharray="7 1.7 1.2 1.7"/>
<line x1="299.7" y1="230" x2="299.7" y2="575.5" stroke="#c4c4c4" stroke-width="0.9" stroke-dasharray="7 1.7 1.2 1.7"/>
<line x1="354.3" y1="230" x2="354.3" y2="575.5" stroke="#c4c4c4" stroke-width="0.9" stroke-dasharray="7 1.7 1.2 1.7"/>
<line x1="381.7" y1="230" x2="381.7" y2="575.5" stroke="#c4c4c4" stroke-width="0.9" stroke-dasharray="7 1.7 1.2 1.7"/>
<line x1="409.1" y1="230" x2="409.1" y2="575.5" stroke="#c4c4c4" stroke-width="0.9" stroke-dasharray="7 1.7 1.2 1.7"/>
<line x1="463.7" y1="230" x2="463.7" y2="575.5" stroke="#c4c4c4" stroke-width="0.9" stroke-dasharray="7 1.7 1.2 1.7"/>
<line x1="489.2" y1="230" x2="489.2" y2="575.5" stroke="#c4c4c4" stroke-width="0.9" stroke-dasharray="7 1.7 1.2 1.7"/>
<line x1="515.7" y1="230" x2="515.7" y2="575.5" stroke="#c4c4c4" stroke-width="0.9" stroke-dasharray="7 1.7 1.2 1.7"/>
<line x1="536.9" y1="230" x2="536.9" y2="575.5" stroke="#c4c4c4" stroke-width="0.9" stroke-dasharray="7 1.7 1.2 1.7"/>
<line x1="542" y1="230" x2="542" y2="575.5" stroke="#c4c4c4" stroke-width="0.9" stroke-dasharray="7 1.7 1.2 1.7"/>
<line x1="209" y1="242.6" x2="554.5" y2="242.6" stroke="#c4c4c4" stroke-width="0.9" stroke-dasharray="7 1.7 1.2 1.7"/>
<line x1="209" y1="247.7" x2="554.5" y2="247.7" stroke="#c4c4c4" stroke-width="0.9" stroke-dasharray="7 1.7 1.2 1.7"/>
<line x1="209" y1="268.9" x2="554.5" y2="268.9" stroke="#c4c4c4" stroke-width="0.9" stroke-dasharray="7 1.7 1.2 1.7"/>
<line x1="209" y1="295.4" x2="554.5" y2="295.4" stroke="#c4c4c4" stroke-width="0.9" stroke-dasharray="7 1.7 1.2 1.7"/>
<line x1="209" y1="320.9" x2="554.5" y2="320.9" stroke="#c4c4c4" stroke-width="0.9" stroke-dasharray="7 1.7 1.2 1.7"/>
<line x1="209" y1="375.5" x2="554.5" y2="375.5" stroke="#c4c4c4" stroke-width="0.9" stroke-dasharray="7 1.7 1.2 1.7"/>
<line x1="209" y1="402.9" x2="554.5" y2="402.9" stroke="#c4c4c4" stroke-width="0.9" stroke-dasharray="7 1.7 1.2 1.7"/>
<line x1="209" y1="430.3" x2="554.5" y2="430.3" stroke="#c4c4c4" stroke-width="0.9" stroke-dasharray="7 1.7 1.2 1.7"/>
<line x1="209" y1="484.9" x2="554.5" y2="484.9" stroke="#c4c4c4" stroke-width="0.9" stroke-dasharray="7 1.7 1.2 1.7"/>
<line x1="209" y1="510.4" x2="554.5" y2="510.4" stroke="#c4c4c4" stroke-width="0.9" stroke-dasharray="7 1.7 1.2 1.7"/>
<line x1="209" y1="536.9" x2="554.5" y2="536.9" stroke="#c4c4c4" stroke-width="0.9" stroke-dasharray="7 1.7 1.2 1.7"/>
<line x1="209" y1="558.1" x2="554.5" y2="558.1" stroke="#c4c4c4" stroke-width="0.9" stroke-dasharray="7 1.7 1.2 1.7"/>
<line x1="209" y1="563.2" x2="554.5" y2="563.2" stroke="#c4c4c4" stroke-width="0.9" stroke-dasharray="7 1.7 1.2 1.7"/>
<line x1="515.7" y1="223" x2="515.7" y2="230" stroke="#c4c4c4" stroke-width="0.9" stroke-dasharray="7 1.7 1.2 1.7"/>
<line x1="190.6" y1="230" x2="190.6" y2="575.5" stroke="#c4c4c4" stroke-width="0.9" stroke-dasharray="7 1.7 1.2 1.7"/>
<polyline points="335.5,208.3 187,208.3 187,356.4" fill="none" stroke="#ffffff" stroke-width="3.7"/>
<polyline points="335.5,208.3 187,208.3 187,356.4" fill="none" stroke="#000" stroke-width="1.25" stroke-dasharray="7.7 1.2"/>
<polyline points="344.5,216.9 344.5,229.4" fill="none" stroke="#ffffff" stroke-width="3.7"/>
<polyline points="344.5,216.9 344.5,229.4" fill="none" stroke="#000" stroke-width="1.25" stroke-dasharray="7.7 1.2"/>
<polyline points="196,364.7 208,364.7" fill="none" stroke="#ffffff" stroke-width="3.7"/>
<polyline points="196,364.7 208,364.7" fill="none" stroke="#000" stroke-width="1.25" stroke-dasharray="7.7 1.2"/>
<polyline points="196,446.8 208,446.8" fill="none" stroke="#ffffff" stroke-width="3.7"/>
<polyline points="196,446.8 208,446.8" fill="none" stroke="#000" stroke-width="1.25" stroke-dasharray="7.7 1.2"/>
<polyline points="187,449.4 187,597.8 290.5,597.8 290.5,575.9" fill="none" stroke="#ffffff" stroke-width="3.7"/>
<polyline points="187,449.4 187,597.8 290.5,597.8 290.5,575.9" fill="none" stroke="#000" stroke-width="1.25" stroke-dasharray="7.7 1.2"/>
<rect x="335.7" y="206.3" width="10" height="10" fill="#000" stroke="#ffffff" stroke-width="1.7"/>
<rect x="337.3" y="207.9" width="6.8" height="6.8" fill="none" stroke="#ffff00" stroke-width="1.7"/>
<rect x="185.6" y="356.7" width="10" height="10" fill="#000" stroke="#ffffff" stroke-width="1.7"/>
<rect x="187.2" y="358.3" width="6.8" height="6.8" fill="none" stroke="#ffff00" stroke-width="1.7"/>
<rect x="185.6" y="439.1" width="10" height="10" fill="#000" stroke="#ffffff" stroke-width="1.7"/>
<rect x="187.2" y="440.7" width="6.8" height="6.8" fill="none" stroke="#ffff00" stroke-width="1.7"/>
<rect x="103.2" y="356.7" width="10" height="10" fill="#000" stroke="#ffffff" stroke-width="1.7"/>
<rect x="104.8" y="358.3" width="6.8" height="6.8" fill="none" stroke="#ffff00" stroke-width="1.7"/>
<rect x="103.2" y="439.1" width="10" height="10" fill="#000" stroke="#ffffff" stroke-width="1.7"/>
<rect x="104.8" y="440.7" width="6.8" height="6.8" fill="none" stroke="#ffff00" stroke-width="1.7"/>
<polyline points="428.5,208.3 577,208.3 577,356.4" fill="none" stroke="#ffffff" stroke-width="3.7"/>
<polyline points="428.5,208.3 577,208.3 577,356.4" fill="none" stroke="#000" stroke-width="1.25" stroke-dasharray="7.7 1.2"/>
<polyline points="419.5,216.9 419.5,229.4" fill="none" stroke="#ffffff" stroke-width="3.7"/>
<polyline points="419.5,216.9 419.5,229.4" fill="none" stroke="#000" stroke-width="1.25" stroke-dasharray="7.7 1.2"/>
<polyline points="568,364.7 556,364.7" fill="none" stroke="#ffffff" stroke-width="3.7"/>
<polyline points="568,364.7 556,364.7" fill="none" stroke="#000" stroke-width="1.25" stroke-dasharray="7.7 1.2"/>
<polyline points="568,446.8 556,446.8" fill="none" stroke="#ffffff" stroke-width="3.7"/>
<polyline points="568,446.8 556,446.8" fill="none" stroke="#000" stroke-width="1.25" stroke-dasharray="7.7 1.2"/>
<polyline points="577,449.4 577,597.8 473.5,597.8 473.5,575.9" fill="none" stroke="#ffffff" stroke-width="3.7"/>
<polyline points="577,449.4 577,597.8 473.5,597.8 473.5,575.9" fill="none" stroke="#000" stroke-width="1.25" stroke-dasharray="7.7 1.2"/>
<rect x="418.3" y="206.3" width="10" height="10" fill="#000" stroke="#ffffff" stroke-width="1.7"/>
<rect x="419.9" y="207.9" width="6.8" height="6.8" fill="none" stroke="#ffff00" stroke-width="1.7"/>
<rect x="568.4" y="356.7" width="10" height="10" fill="#000" stroke="#ffffff" stroke-width="1.7"/>
<rect x="570" y="358.3" width="6.8" height="6.8" fill="none" stroke="#ffff00" stroke-width="1.7"/>
<rect x="568.4" y="439.1" width="10" height="10" fill="#000" stroke="#ffffff" stroke-width="1.7"/>
<rect x="570" y="440.7" width="6.8" height="6.8" fill="none" stroke="#ffff00" stroke-width="1.7"/>
<rect x="650.8" y="356.7" width="10" height="10" fill="#000" stroke="#ffffff" stroke-width="1.7"/>
<rect x="652.4" y="358.3" width="6.8" height="6.8" fill="none" stroke="#ffff00" stroke-width="1.7"/>
<rect x="650.8" y="439.1" width="10" height="10" fill="#000" stroke="#ffffff" stroke-width="1.7"/>
<rect x="652.4" y="440.7" width="6.8" height="6.8" fill="none" stroke="#ffff00" stroke-width="1.7"/>
<polyline points="418.4,573.75 498.17,573.75 506.77,565.05 544.05,565.05 544.05,527.75 553.15,519.15 553.15,440.9" fill="none" stroke="#ffffff" stroke-width="3.5" stroke-linejoin="miter"/>
<polyline points="418.4,571.3 497.15,571.3 505.75,562.6 541.6,562.6 541.6,526.69 550.7,518.09 550.7,440.9" fill="none" stroke="#00ffff" stroke-width="1.2"/>
<polyline points="418.4,569.9 496.56,569.9 505.16,561.2 540.2,561.2 540.2,526.09 549.3,517.49 549.3,440.9" fill="none" stroke="#ffffff" stroke-width="1.5"/>
<polyline points="418.4,569.8 496.52,569.8 505.12,561.1 540.1,561.1 540.1,526.04 549.2,517.44 549.2,440.9" fill="none" stroke="#000" stroke-width="0.8" stroke-dasharray="1 6"/>
<polyline points="418.4,567.6 495.6,567.6 504.2,558.9 537.9,558.9 537.9,525.1 547,516.5 547,440.9" fill="none" stroke="#00ffff" stroke-width="2.6" stroke-dasharray="1.4 7.6"/>
<line x1="496.86" y1="574.86" x2="506.84" y2="564.77" stroke="#000" stroke-width="2.2" stroke-dasharray="1 1"/>
<line x1="543.77" y1="527.81" x2="554.32" y2="517.83" stroke="#000" stroke-width="2.2" stroke-dasharray="1 1"/>
<polyline points="418.4,232.05 498.17,232.05 506.77,240.75 544.05,240.75 544.05,278.05 553.15,286.65 553.15,364.9" fill="none" stroke="#ffffff" stroke-width="3.5" stroke-linejoin="miter"/>
<polyline points="418.4,234.5 497.15,234.5 505.75,243.2 541.6,243.2 541.6,279.11 550.7,287.71 550.7,364.9" fill="none" stroke="#00ffff" stroke-width="1.2"/>
<polyline points="418.4,235.9 496.56,235.9 505.16,244.6 540.2,244.6 540.2,279.71 549.3,288.31 549.3,364.9" fill="none" stroke="#ffffff" stroke-width="1.5"/>
<polyline points="418.4,236 496.52,236 505.12,244.7 540.1,244.7 540.1,279.76 549.2,288.36 549.2,364.9" fill="none" stroke="#000" stroke-width="0.8" stroke-dasharray="1 6"/>
<polyline points="418.4,238.2 495.6,238.2 504.2,246.9 537.9,246.9 537.9,280.7 547,289.3 547,364.9" fill="none" stroke="#00ffff" stroke-width="2.6" stroke-dasharray="1.4 7.6"/>
<line x1="496.86" y1="230.94" x2="506.84" y2="241.03" stroke="#000" stroke-width="2.2" stroke-dasharray="1 1"/>
<line x1="543.77" y1="277.99" x2="554.32" y2="287.97" stroke="#000" stroke-width="2.2" stroke-dasharray="1 1"/>
<polyline points="345.4,573.75 265.63,573.75 257.03,565.05 219.75,565.05 219.75,527.75 210.65,519.15 210.65,440.9" fill="none" stroke="#ffffff" stroke-width="3.5" stroke-linejoin="miter"/>
<polyline points="345.4,571.3 266.65,571.3 258.05,562.6 222.2,562.6 222.2,526.69 213.1,518.09 213.1,440.9" fill="none" stroke="#00ffff" stroke-width="1.2"/>
<polyline points="345.4,569.9 267.24,569.9 258.64,561.2 223.6,561.2 223.6,526.09 214.5,517.49 214.5,440.9" fill="none" stroke="#ffffff" stroke-width="1.5"/>
<polyline points="345.4,569.8 267.28,569.8 258.68,561.1 223.7,561.1 223.7,526.04 214.6,517.44 214.6,440.9" fill="none" stroke="#000" stroke-width="0.8" stroke-dasharray="1 6"/>
<polyline points="345.4,567.6 268.2,567.6 259.6,558.9 225.9,558.9 225.9,525.1 216.8,516.5 216.8,440.9" fill="none" stroke="#00ffff" stroke-width="2.6" stroke-dasharray="1.4 7.6"/>
<polyline points="269.08,565.5 260.48,556.8 228,556.8 228,524.19 218.9,515.59" fill="none" stroke="#00ffff" stroke-width="1"/>
<line x1="266.94" y1="574.86" x2="256.96" y2="564.77" stroke="#000" stroke-width="2.2" stroke-dasharray="1 1"/>
<line x1="220.03" y1="527.81" x2="209.48" y2="517.83" stroke="#000" stroke-width="2.2" stroke-dasharray="1 1"/>
<polyline points="345.4,232.05 265.63,232.05 257.03,240.75 219.75,240.75 219.75,278.05 210.65,286.65 210.65,364.9" fill="none" stroke="#ffffff" stroke-width="3.5" stroke-linejoin="miter"/>
<polyline points="345.4,234.5 266.65,234.5 258.05,243.2 222.2,243.2 222.2,279.11 213.1,287.71 213.1,364.9" fill="none" stroke="#00ffff" stroke-width="1.2"/>
<polyline points="345.4,235.9 267.24,235.9 258.64,244.6 223.6,244.6 223.6,279.71 214.5,288.31 214.5,364.9" fill="none" stroke="#ffffff" stroke-width="1.5"/>
<polyline points="345.4,236 267.28,236 258.68,244.7 223.7,244.7 223.7,279.76 214.6,288.36 214.6,364.9" fill="none" stroke="#000" stroke-width="0.8" stroke-dasharray="1 6"/>
<polyline points="345.4,238.2 268.2,238.2 259.6,246.9 225.9,246.9 225.9,280.7 216.8,289.3 216.8,364.9" fill="none" stroke="#00ffff" stroke-width="2.6" stroke-dasharray="1.4 7.6"/>
<polyline points="269.08,240.3 260.48,249 228,249 228,281.61 218.9,290.21" fill="none" stroke="#00ffff" stroke-width="1"/>
<line x1="266.94" y1="230.94" x2="256.96" y2="241.03" stroke="#000" stroke-width="2.2" stroke-dasharray="1 1"/>
<line x1="220.03" y1="277.99" x2="209.48" y2="287.97" stroke="#000" stroke-width="2.2" stroke-dasharray="1 1"/>
<circle cx="274.2" cy="248.3" r="3.4" fill="none" stroke="#00ffff" stroke-width="1"/>
<polygon points="271.6,248.3 274.2,245.9 276.8,248.3 274.2,250.9" fill="#ffffff" stroke="#ffffff" stroke-width="0.8"/>
<line x1="272.7" y1="248.3" x2="275.7" y2="248.3" stroke="#000" stroke-width="0.5"/>
<line x1="274.2" y1="246.8" x2="274.2" y2="249.8" stroke="#000" stroke-width="0.5"/>
<circle cx="227" cy="295.1" r="3.4" fill="none" stroke="#00ffff" stroke-width="1"/>
<polygon points="224.4,295.1 227,292.7 229.6,295.1 227,297.7" fill="#ffffff" stroke="#ffffff" stroke-width="0.8"/>
<line x1="225.5" y1="295.1" x2="228.5" y2="295.1" stroke="#000" stroke-width="0.5"/>
<line x1="227" y1="293.6" x2="227" y2="296.6" stroke="#000" stroke-width="0.5"/>
<circle cx="489.5" cy="248.3" r="3.4" fill="none" stroke="#00ffff" stroke-width="1"/>
<polygon points="486.9,248.3 489.5,245.9 492.1,248.3 489.5,250.9" fill="#ffffff" stroke="#ffffff" stroke-width="0.8"/>
<line x1="488" y1="248.3" x2="491" y2="248.3" stroke="#000" stroke-width="0.5"/>
<line x1="489.5" y1="246.8" x2="489.5" y2="249.8" stroke="#000" stroke-width="0.5"/>
<circle cx="536.6" cy="295.1" r="3.4" fill="none" stroke="#00ffff" stroke-width="1"/>
<polygon points="534,295.1 536.6,292.7 539.2,295.1 536.6,297.7" fill="#ffffff" stroke="#ffffff" stroke-width="0.8"/>
<line x1="535.1" y1="295.1" x2="538.1" y2="295.1" stroke="#000" stroke-width="0.5"/>
<line x1="536.6" y1="293.6" x2="536.6" y2="296.6" stroke="#000" stroke-width="0.5"/>
<circle cx="227" cy="510.7" r="3.4" fill="none" stroke="#00ffff" stroke-width="1"/>
<polygon points="224.4,510.7 227,508.3 229.6,510.7 227,513.3" fill="#ffffff" stroke="#ffffff" stroke-width="0.8"/>
<line x1="225.5" y1="510.7" x2="228.5" y2="510.7" stroke="#000" stroke-width="0.5"/>
<line x1="227" y1="509.2" x2="227" y2="512.2" stroke="#000" stroke-width="0.5"/>
<circle cx="274.4" cy="557.3" r="3.4" fill="none" stroke="#00ffff" stroke-width="1"/>
<polygon points="271.8,557.3 274.4,554.9 277,557.3 274.4,559.9" fill="#ffffff" stroke="#ffffff" stroke-width="0.8"/>
<line x1="272.9" y1="557.3" x2="275.9" y2="557.3" stroke="#000" stroke-width="0.5"/>
<line x1="274.4" y1="555.8" x2="274.4" y2="558.8" stroke="#000" stroke-width="0.5"/>
<circle cx="536.6" cy="510.7" r="3.4" fill="none" stroke="#00ffff" stroke-width="1"/>
<polygon points="534,510.7 536.6,508.3 539.2,510.7 536.6,513.3" fill="#ffffff" stroke="#ffffff" stroke-width="0.8"/>
<line x1="535.1" y1="510.7" x2="538.1" y2="510.7" stroke="#000" stroke-width="0.5"/>
<line x1="536.6" y1="509.2" x2="536.6" y2="512.2" stroke="#000" stroke-width="0.5"/>
<circle cx="489.5" cy="557.3" r="3.4" fill="none" stroke="#00ffff" stroke-width="1"/>
<polygon points="486.9,557.3 489.5,554.9 492.1,557.3 489.5,559.9" fill="#ffffff" stroke="#ffffff" stroke-width="0.8"/>
<line x1="488" y1="557.3" x2="491" y2="557.3" stroke="#000" stroke-width="0.5"/>
<line x1="489.5" y1="555.8" x2="489.5" y2="558.8" stroke="#000" stroke-width="0.5"/>
<path d="M234.49,287.52 A35.6,35.6 0 0 1 268.76,254.42" fill="none" stroke="#00ffff" stroke-width="1.2"/>
<path d="M238.48,287.8 A31.6,31.6 0 0 1 268.9,258.42" fill="none" stroke="#ffffff" stroke-width="1.2"/>
<path d="M236.48,287.66 A33.6,33.6 0 0 1 268.83,256.42" fill="none" stroke="#00ffff" stroke-width="0.9"/>
<line x1="234.49" y1="287.52" x2="238.48" y2="287.8" stroke="#00ffff" stroke-width="1"/>
<line x1="268.76" y1="254.42" x2="268.9" y2="258.42" stroke="#00ffff" stroke-width="1"/>
<path d="M262.19,283.7 A20.2,20.2 0 0 1 241.3,303.19" fill="none" stroke="#ffffff" stroke-width="1.2"/>
<path d="M258.39,283.57 A16.4,16.4 0 0 1 241.43,299.39" fill="none" stroke="#00ffff" stroke-width="1.2"/>
<path d="M260.39,283.64 A18.4,18.4 0 0 1 241.36,301.39" fill="none" stroke="#00ffff" stroke-width="0.7"/>
<line x1="262.19" y1="283.7" x2="258.39" y2="283.57" stroke="#ffffff" stroke-width="1"/>
<line x1="241.3" y1="303.19" x2="241.43" y2="299.39" stroke="#00ffff" stroke-width="1"/>
<rect x="258.6" y="279.4" width="3.6" height="4" fill="none" stroke="#ffffff" stroke-width="0.8"/>
<rect x="240.6" y="299.6" width="5.6" height="3.6" fill="none" stroke="#00ffff" stroke-width="0.9"/>
<path d="M234.49,518.28 A35.6,35.6 0 0 0 268.76,551.38" fill="none" stroke="#00ffff" stroke-width="1.2"/>
<path d="M238.48,518 A31.6,31.6 0 0 0 268.9,547.38" fill="none" stroke="#ffffff" stroke-width="1.2"/>
<path d="M236.48,518.14 A33.6,33.6 0 0 0 268.83,549.38" fill="none" stroke="#00ffff" stroke-width="0.9"/>
<line x1="234.49" y1="518.28" x2="238.48" y2="518" stroke="#00ffff" stroke-width="1"/>
<line x1="268.76" y1="551.38" x2="268.9" y2="547.38" stroke="#00ffff" stroke-width="1"/>
<path d="M262.19,522.1 A20.2,20.2 0 0 0 241.3,502.61" fill="none" stroke="#ffffff" stroke-width="1.2"/>
<path d="M258.39,522.23 A16.4,16.4 0 0 0 241.43,506.41" fill="none" stroke="#00ffff" stroke-width="1.2"/>
<path d="M260.39,522.16 A18.4,18.4 0 0 0 241.36,504.41" fill="none" stroke="#00ffff" stroke-width="0.7"/>
<line x1="262.19" y1="522.1" x2="258.39" y2="522.23" stroke="#ffffff" stroke-width="1"/>
<line x1="241.3" y1="502.61" x2="241.43" y2="506.41" stroke="#00ffff" stroke-width="1"/>
<rect x="258.6" y="522.4" width="3.6" height="4" fill="none" stroke="#ffffff" stroke-width="0.8"/>
<rect x="240.6" y="502.6" width="5.6" height="3.6" fill="none" stroke="#00ffff" stroke-width="0.9"/>
<rect x="349.1" y="239.6" width="10.3" height="31.7" fill="none" stroke="#ffffff" stroke-width="1.3"/>
<polyline points="358.7,240.3 349.7,240.3" fill="none" stroke="#ffff00" stroke-width="1.2"/>
<polyline points="358.7,270.7 349.7,270.7" fill="none" stroke="#ffff00" stroke-width="1.2"/>
<rect x="352.1" y="242.1" width="4" height="2.4" fill="none" stroke="#ffffff" stroke-width="0.8"/>
<rect x="352.1" y="266.9" width="4" height="2.6" fill="none" stroke="#ffffff" stroke-width="0.8"/>
<polyline points="346.1,239.3 357.7,239.3 357.7,231.3" fill="none" stroke="#00ffff" stroke-width="1.6"/>
<rect x="349.1" y="233.1" width="6" height="4.2" fill="#000" stroke="#00ffff" stroke-width="1.8"/>
<polyline points="345.2,229.7 359.3,229.7" fill="none" stroke="#ffffff" stroke-width="1"/>
<polyline points="359.7,228.5 359.7,239.5" fill="none" stroke="#ffffff" stroke-width="1"/>
<rect x="336.3" y="228.3" width="8" height="5" fill="#000" stroke="#ffffff" stroke-width="1"/>
<path d="M363.1,229.3 Q367.3,228.3 369.1,234.5" fill="none" stroke="#ff0000" stroke-width="1.4"/>
<polyline points="362.7,228.9 362.7,235.7" fill="none" stroke="#ff0000" stroke-width="2.4"/>
<path d="M363.1,243.3 Q367.3,242.3 369.1,248.5" fill="none" stroke="#ff0000" stroke-width="1.4"/>
<polyline points="362.7,242.9 362.7,249.5" fill="none" stroke="#ff0000" stroke-width="2.4"/>
<polyline points="361.9,235.7 359.9,235.7" fill="none" stroke="#ffffff" stroke-width="1"/>
<polyline points="361.9,249.5 359.9,249.5" fill="none" stroke="#ffff00" stroke-width="1.2"/>
<ellipse cx="370.9" cy="242.5" rx="1.9" ry="6.4" fill="none" stroke="#ffffff" stroke-width="1.3"/>
<rect x="369.7" y="234.3" width="2.4" height="2.4" fill="#ffff00"/>
<rect x="369.7" y="248.1" width="2.4" height="2.4" fill="#ffff00"/>
<polyline points="372.7,237.9 380.7,246.5" fill="none" stroke="#ffffff" stroke-width="1"/>
<polyline points="372.7,246.5 380.7,237.9" fill="none" stroke="#ffffff" stroke-width="1"/>
<polyline points="372.7,237.9 376.7,242.3 372.7,246.5" fill="none" stroke="#ffffff" stroke-width="0.9"/>
<rect x="404" y="239.6" width="10.3" height="31.7" fill="none" stroke="#ffffff" stroke-width="1.3"/>
<polyline points="404.7,240.3 413.7,240.3" fill="none" stroke="#ffff00" stroke-width="1.2"/>
<polyline points="404.7,270.7 413.7,270.7" fill="none" stroke="#ffff00" stroke-width="1.2"/>
<rect x="407.3" y="242.1" width="4" height="2.4" fill="none" stroke="#ffffff" stroke-width="0.8"/>
<rect x="407.3" y="266.9" width="4" height="2.6" fill="none" stroke="#ffffff" stroke-width="0.8"/>
<polyline points="417.3,239.3 405.7,239.3 405.7,231.3" fill="none" stroke="#00ffff" stroke-width="1.6"/>
<rect x="408.3" y="233.1" width="6" height="4.2" fill="#000" stroke="#00ffff" stroke-width="1.8"/>
<polyline points="418.2,229.7 404.1,229.7" fill="none" stroke="#ffffff" stroke-width="1"/>
<polyline points="403.7,228.5 403.7,239.5" fill="none" stroke="#ffffff" stroke-width="1"/>
<rect x="419.1" y="228.3" width="8" height="5" fill="#000" stroke="#ffffff" stroke-width="1"/>
<path d="M400.3,229.3 Q396.1,228.3 394.3,234.5" fill="none" stroke="#ff0000" stroke-width="1.4"/>
<polyline points="400.7,228.9 400.7,235.7" fill="none" stroke="#ff0000" stroke-width="2.4"/>
<path d="M400.3,243.3 Q396.1,242.3 394.3,248.5" fill="none" stroke="#ff0000" stroke-width="1.4"/>
<polyline points="400.7,242.9 400.7,249.5" fill="none" stroke="#ff0000" stroke-width="2.4"/>
<polyline points="401.5,235.7 403.5,235.7" fill="none" stroke="#ffffff" stroke-width="1"/>
<polyline points="401.5,249.5 403.5,249.5" fill="none" stroke="#ffff00" stroke-width="1.2"/>
<ellipse cx="392.5" cy="242.5" rx="1.9" ry="6.4" fill="none" stroke="#ffffff" stroke-width="1.3"/>
<rect x="391.3" y="234.3" width="2.4" height="2.4" fill="#ffff00"/>
<rect x="391.3" y="248.1" width="2.4" height="2.4" fill="#ffff00"/>
<polyline points="390.7,237.9 382.7,246.5" fill="none" stroke="#ffffff" stroke-width="1"/>
<polyline points="390.7,246.5 382.7,237.9" fill="none" stroke="#ffffff" stroke-width="1"/>
<polyline points="390.7,237.9 386.7,242.3 390.7,246.5" fill="none" stroke="#ffffff" stroke-width="0.9"/>
<ellipse cx="381.7" cy="242.3" rx="2.6" ry="6.2" fill="none" stroke="#ffffff" stroke-width="1.2"/>
<rect x="380.4" y="235.1" width="2.6" height="2" fill="#00ffff"/>
<rect x="380.4" y="247.9" width="2.6" height="2" fill="#00ffff"/>
<rect x="349.1" y="534.5" width="10.3" height="31.7" fill="none" stroke="#ffffff" stroke-width="1.3"/>
<polyline points="358.7,565.5 349.7,565.5" fill="none" stroke="#ffff00" stroke-width="1.2"/>
<polyline points="358.7,535.1 349.7,535.1" fill="none" stroke="#ffff00" stroke-width="1.2"/>
<rect x="352.1" y="561.3" width="4" height="2.4" fill="none" stroke="#ffffff" stroke-width="0.8"/>
<rect x="352.1" y="536.3" width="4" height="2.6" fill="none" stroke="#ffffff" stroke-width="0.8"/>
<polyline points="346.1,566.5 357.7,566.5 357.7,574.5" fill="none" stroke="#00ffff" stroke-width="1.6"/>
<rect x="349.1" y="568.5" width="6" height="4.2" fill="#000" stroke="#00ffff" stroke-width="1.8"/>
<polyline points="345.2,576.1 359.3,576.1" fill="none" stroke="#ffffff" stroke-width="1"/>
<polyline points="359.7,577.3 359.7,566.3" fill="none" stroke="#ffffff" stroke-width="1"/>
<rect x="336.3" y="572.5" width="8" height="5" fill="#000" stroke="#ffffff" stroke-width="1"/>
<path d="M363.1,576.5 Q367.3,577.5 369.1,571.3" fill="none" stroke="#ff0000" stroke-width="1.4"/>
<polyline points="362.7,576.9 362.7,570.1" fill="none" stroke="#ff0000" stroke-width="2.4"/>
<path d="M363.1,562.5 Q367.3,563.5 369.1,557.3" fill="none" stroke="#ff0000" stroke-width="1.4"/>
<polyline points="362.7,562.9 362.7,556.3" fill="none" stroke="#ff0000" stroke-width="2.4"/>
<polyline points="361.9,570.1 359.9,570.1" fill="none" stroke="#ffffff" stroke-width="1"/>
<polyline points="361.9,556.3 359.9,556.3" fill="none" stroke="#ffff00" stroke-width="1.2"/>
<ellipse cx="370.9" cy="563.3" rx="1.9" ry="6.4" fill="none" stroke="#ffffff" stroke-width="1.3"/>
<rect x="369.7" y="569.1" width="2.4" height="2.4" fill="#ffff00"/>
<rect x="369.7" y="555.3" width="2.4" height="2.4" fill="#ffff00"/>
<polyline points="372.7,567.9 380.7,559.3" fill="none" stroke="#ffffff" stroke-width="1"/>
<polyline points="372.7,559.3 380.7,567.9" fill="none" stroke="#ffffff" stroke-width="1"/>
<polyline points="372.7,567.9 376.7,563.5 372.7,559.3" fill="none" stroke="#ffffff" stroke-width="0.9"/>
<rect x="404" y="534.5" width="10.3" height="31.7" fill="none" stroke="#ffffff" stroke-width="1.3"/>
<polyline points="404.7,565.5 413.7,565.5" fill="none" stroke="#ffff00" stroke-width="1.2"/>
<polyline points="404.7,535.1 413.7,535.1" fill="none" stroke="#ffff00" stroke-width="1.2"/>
<rect x="407.3" y="561.3" width="4" height="2.4" fill="none" stroke="#ffffff" stroke-width="0.8"/>
<rect x="407.3" y="536.3" width="4" height="2.6" fill="none" stroke="#ffffff" stroke-width="0.8"/>
<polyline points="417.3,566.5 405.7,566.5 405.7,574.5" fill="none" stroke="#00ffff" stroke-width="1.6"/>
<rect x="408.3" y="568.5" width="6" height="4.2" fill="#000" stroke="#00ffff" stroke-width="1.8"/>
<polyline points="418.2,576.1 404.1,576.1" fill="none" stroke="#ffffff" stroke-width="1"/>
<polyline points="403.7,577.3 403.7,566.3" fill="none" stroke="#ffffff" stroke-width="1"/>
<rect x="419.1" y="572.5" width="8" height="5" fill="#000" stroke="#ffffff" stroke-width="1"/>
<path d="M400.3,576.5 Q396.1,577.5 394.3,571.3" fill="none" stroke="#ff0000" stroke-width="1.4"/>
<polyline points="400.7,576.9 400.7,570.1" fill="none" stroke="#ff0000" stroke-width="2.4"/>
<path d="M400.3,562.5 Q396.1,563.5 394.3,557.3" fill="none" stroke="#ff0000" stroke-width="1.4"/>
<polyline points="400.7,562.9 400.7,556.3" fill="none" stroke="#ff0000" stroke-width="2.4"/>
<polyline points="401.5,570.1 403.5,570.1" fill="none" stroke="#ffffff" stroke-width="1"/>
<polyline points="401.5,556.3 403.5,556.3" fill="none" stroke="#ffff00" stroke-width="1.2"/>
<ellipse cx="392.5" cy="563.3" rx="1.9" ry="6.4" fill="none" stroke="#ffffff" stroke-width="1.3"/>
<rect x="391.3" y="569.1" width="2.4" height="2.4" fill="#ffff00"/>
<rect x="391.3" y="555.3" width="2.4" height="2.4" fill="#ffff00"/>
<polyline points="390.7,567.9 382.7,559.3" fill="none" stroke="#ffffff" stroke-width="1"/>
<polyline points="390.7,559.3 382.7,567.9" fill="none" stroke="#ffffff" stroke-width="1"/>
<polyline points="390.7,567.9 386.7,563.5 390.7,559.3" fill="none" stroke="#ffffff" stroke-width="0.9"/>
<ellipse cx="381.7" cy="563.5" rx="2.6" ry="6.2" fill="none" stroke="#ffffff" stroke-width="1.2"/>
<rect x="380.4" y="568.7" width="2.6" height="2" fill="#00ffff"/>
<rect x="380.4" y="555.9" width="2.6" height="2" fill="#00ffff"/>
<rect x="218.4" y="370.3" width="31.7" height="10.3" fill="none" stroke="#ffffff" stroke-width="1.3"/>
<polyline points="219.1,379.9 219.1,370.9" fill="none" stroke="#ffff00" stroke-width="1.2"/>
<polyline points="249.5,379.9 249.5,370.9" fill="none" stroke="#ffff00" stroke-width="1.2"/>
<rect x="220.9" y="373.3" width="2.4" height="4" fill="none" stroke="#ffffff" stroke-width="0.8"/>
<rect x="245.7" y="373.3" width="2.6" height="4" fill="none" stroke="#ffffff" stroke-width="0.8"/>
<polyline points="218.1,367.3 218.1,378.9 210.1,378.9" fill="none" stroke="#00ffff" stroke-width="1.6"/>
<rect x="211.9" y="370.3" width="4.2" height="6" fill="#000" stroke="#00ffff" stroke-width="1.8"/>
<polyline points="208.5,366.4 208.5,380.5" fill="none" stroke="#ffffff" stroke-width="1"/>
<polyline points="207.3,380.9 218.3,380.9" fill="none" stroke="#ffffff" stroke-width="1"/>
<rect x="207.1" y="357.3" width="5.2" height="7.2" fill="#000" stroke="#ffffff" stroke-width="1"/>
<path d="M208.1,384.3 Q207.1,388.5 213.3,390.3" fill="none" stroke="#ff0000" stroke-width="1.4"/>
<polyline points="207.7,383.9 214.5,383.9" fill="none" stroke="#ff0000" stroke-width="2.4"/>
<path d="M222.1,384.3 Q221.1,388.5 227.3,390.3" fill="none" stroke="#ff0000" stroke-width="1.4"/>
<polyline points="221.7,383.9 228.3,383.9" fill="none" stroke="#ff0000" stroke-width="2.4"/>
<polyline points="214.5,383.1 214.5,381.1" fill="none" stroke="#ffffff" stroke-width="1"/>
<polyline points="228.3,383.1 228.3,381.1" fill="none" stroke="#ffff00" stroke-width="1.2"/>
<ellipse cx="221.3" cy="392.1" rx="6.4" ry="1.9" fill="none" stroke="#ffffff" stroke-width="1.3"/>
<rect x="213.1" y="390.9" width="2.4" height="2.4" fill="#ffff00"/>
<rect x="226.9" y="390.9" width="2.4" height="2.4" fill="#ffff00"/>
<polyline points="214.3,402.7 214.3,400.7 228.3,400.7 228.3,402.7" fill="none" stroke="#ffffff" stroke-width="1"/>
<rect x="218.4" y="425.2" width="31.7" height="10.3" fill="none" stroke="#ffffff" stroke-width="1.3"/>
<polyline points="219.1,425.9 219.1,434.9" fill="none" stroke="#ffff00" stroke-width="1.2"/>
<polyline points="249.5,425.9 249.5,434.9" fill="none" stroke="#ffff00" stroke-width="1.2"/>
<rect x="220.9" y="428.5" width="2.4" height="4" fill="none" stroke="#ffffff" stroke-width="0.8"/>
<rect x="245.7" y="428.5" width="2.6" height="4" fill="none" stroke="#ffffff" stroke-width="0.8"/>
<polyline points="218.1,438.5 218.1,426.9 210.1,426.9" fill="none" stroke="#00ffff" stroke-width="1.6"/>
<rect x="211.9" y="429.5" width="4.2" height="6" fill="#000" stroke="#00ffff" stroke-width="1.8"/>
<polyline points="208.5,439.4 208.5,425.3" fill="none" stroke="#ffffff" stroke-width="1"/>
<polyline points="207.3,424.9 218.3,424.9" fill="none" stroke="#ffffff" stroke-width="1"/>
<rect x="207.1" y="441.5" width="5.2" height="7.2" fill="#000" stroke="#ffffff" stroke-width="1"/>
<path d="M208.1,421.5 Q207.1,417.3 213.3,415.5" fill="none" stroke="#ff0000" stroke-width="1.4"/>
<polyline points="207.7,421.9 214.5,421.9" fill="none" stroke="#ff0000" stroke-width="2.4"/>
<path d="M222.1,421.5 Q221.1,417.3 227.3,415.5" fill="none" stroke="#ff0000" stroke-width="1.4"/>
<polyline points="221.7,421.9 228.3,421.9" fill="none" stroke="#ff0000" stroke-width="2.4"/>
<polyline points="214.5,422.7 214.5,424.7" fill="none" stroke="#ffffff" stroke-width="1"/>
<polyline points="228.3,422.7 228.3,424.7" fill="none" stroke="#ffff00" stroke-width="1.2"/>
<ellipse cx="221.3" cy="413.7" rx="6.4" ry="1.9" fill="none" stroke="#ffffff" stroke-width="1.3"/>
<rect x="213.1" y="412.5" width="2.4" height="2.4" fill="#ffff00"/>
<rect x="226.9" y="412.5" width="2.4" height="2.4" fill="#ffff00"/>
<polyline points="214.3,403.1 214.3,405.1 228.3,405.1 228.3,403.1" fill="none" stroke="#ffffff" stroke-width="1"/>
<ellipse cx="221.1" cy="402.9" rx="6.2" ry="2.6" fill="none" stroke="#ffffff" stroke-width="1.2"/>
<rect x="213.6" y="401.9" width="2.6" height="2" fill="#00ffff"/>
<rect x="226.4" y="401.9" width="2.6" height="2" fill="#00ffff"/>
<rect x="513.3" y="370.3" width="31.7" height="10.3" fill="none" stroke="#ffffff" stroke-width="1.3"/>
<rect x="513.3" y="370.3" width="31.7" height="10.3" fill="none" stroke="#ffff00" stroke-width="1.2"/>
<polyline points="544.3,379.9 544.3,370.9" fill="none" stroke="#ffff00" stroke-width="1.2"/>
<polyline points="513.9,379.9 513.9,370.9" fill="none" stroke="#ffff00" stroke-width="1.2"/>
<rect x="540.1" y="373.3" width="2.4" height="4" fill="none" stroke="#ffffff" stroke-width="0.8"/>
<rect x="515.1" y="373.3" width="2.6" height="4" fill="none" stroke="#ffffff" stroke-width="0.8"/>
<polyline points="545.3,367.3 545.3,378.9 553.3,378.9" fill="none" stroke="#00ffff" stroke-width="1.6"/>
<rect x="547.3" y="370.3" width="4.2" height="6" fill="#000" stroke="#00ffff" stroke-width="1.8"/>
<polyline points="554.9,366.4 554.9,380.5" fill="none" stroke="#ffffff" stroke-width="1"/>
<polyline points="556.1,380.9 545.1,380.9" fill="none" stroke="#ffffff" stroke-width="1"/>
<rect x="551.1" y="357.3" width="5.2" height="7.2" fill="#000" stroke="#ffffff" stroke-width="1"/>
<path d="M555.3,384.3 Q556.3,388.5 550.1,390.3" fill="none" stroke="#ff0000" stroke-width="1.4"/>
<polyline points="555.7,383.9 548.9,383.9" fill="none" stroke="#ff0000" stroke-width="2.4"/>
<path d="M541.3,384.3 Q542.3,388.5 536.1,390.3" fill="none" stroke="#ff0000" stroke-width="1.4"/>
<polyline points="541.7,383.9 535.1,383.9" fill="none" stroke="#ff0000" stroke-width="2.4"/>
<polyline points="548.9,383.1 548.9,381.1" fill="none" stroke="#ffffff" stroke-width="1"/>
<polyline points="535.1,383.1 535.1,381.1" fill="none" stroke="#ffff00" stroke-width="1.2"/>
<ellipse cx="542.1" cy="392.1" rx="6.4" ry="1.9" fill="none" stroke="#ffffff" stroke-width="1.3"/>
<rect x="547.9" y="390.9" width="2.4" height="2.4" fill="#ffff00"/>
<rect x="534.1" y="390.9" width="2.4" height="2.4" fill="#ffff00"/>
<polyline points="549.1,402.7 549.1,400.7 535.1,400.7 535.1,402.7" fill="none" stroke="#ffffff" stroke-width="1"/>
<rect x="513.3" y="425.2" width="31.7" height="10.3" fill="none" stroke="#ffffff" stroke-width="1.3"/>
<rect x="513.3" y="425.2" width="31.7" height="10.3" fill="none" stroke="#ffff00" stroke-width="1.2"/>
<polyline points="544.3,425.9 544.3,434.9" fill="none" stroke="#ffff00" stroke-width="1.2"/>
<polyline points="513.9,425.9 513.9,434.9" fill="none" stroke="#ffff00" stroke-width="1.2"/>
<rect x="540.1" y="428.5" width="2.4" height="4" fill="none" stroke="#ffffff" stroke-width="0.8"/>
<rect x="515.1" y="428.5" width="2.6" height="4" fill="none" stroke="#ffffff" stroke-width="0.8"/>
<polyline points="545.3,438.5 545.3,426.9 553.3,426.9" fill="none" stroke="#00ffff" stroke-width="1.6"/>
<rect x="547.3" y="429.5" width="4.2" height="6" fill="#000" stroke="#00ffff" stroke-width="1.8"/>
<polyline points="554.9,439.4 554.9,425.3" fill="none" stroke="#ffffff" stroke-width="1"/>
<polyline points="556.1,424.9 545.1,424.9" fill="none" stroke="#ffffff" stroke-width="1"/>
<rect x="551.1" y="441.5" width="5.2" height="7.2" fill="#000" stroke="#ffffff" stroke-width="1"/>
<path d="M555.3,421.5 Q556.3,417.3 550.1,415.5" fill="none" stroke="#ff0000" stroke-width="1.4"/>
<polyline points="555.7,421.9 548.9,421.9" fill="none" stroke="#ff0000" stroke-width="2.4"/>
<path d="M541.3,421.5 Q542.3,417.3 536.1,415.5" fill="none" stroke="#ff0000" stroke-width="1.4"/>
<polyline points="541.7,421.9 535.1,421.9" fill="none" stroke="#ff0000" stroke-width="2.4"/>
<polyline points="548.9,422.7 548.9,424.7" fill="none" stroke="#ffffff" stroke-width="1"/>
<polyline points="535.1,422.7 535.1,424.7" fill="none" stroke="#ffff00" stroke-width="1.2"/>
<ellipse cx="542.1" cy="413.7" rx="6.4" ry="1.9" fill="none" stroke="#ffffff" stroke-width="1.3"/>
<rect x="547.9" y="412.5" width="2.4" height="2.4" fill="#ffff00"/>
<rect x="534.1" y="412.5" width="2.4" height="2.4" fill="#ffff00"/>
<polyline points="549.1,403.1 549.1,405.1 535.1,405.1 535.1,403.1" fill="none" stroke="#ffffff" stroke-width="1"/>
<ellipse cx="542.3" cy="402.9" rx="6.2" ry="2.6" fill="none" stroke="#ffffff" stroke-width="1.2"/>
<rect x="547.2" y="401.9" width="2.6" height="2" fill="#00ffff"/>
<rect x="534.4" y="401.9" width="2.6" height="2" fill="#00ffff"/>
<line x1="413.6" y1="240.3" x2="413.6" y2="260.3" stroke="#ffff00" stroke-width="1.3"/>
<circle cx="411.1" cy="263" r="1.7" fill="#ffffff" stroke="#ffffff" stroke-width="0.9"/>
<line x1="413.6" y1="540" x2="413.6" y2="565.4" stroke="#ffff00" stroke-width="1.3"/>
<polyline points="329.2,576.5 329.2,594 338.2,594 338.2,576.5" fill="none" stroke="#ffffff" stroke-width="1.2"/>
<line x1="328.6" y1="572.5" x2="328.6" y2="581" stroke="#00ffff" stroke-width="2.2"/>
<line x1="338.4" y1="572.5" x2="338.4" y2="581" stroke="#00ffff" stroke-width="2"/>
<polyline points="426.2,576.5 426.2,594 435.2,594 435.2,576.5" fill="none" stroke="#ffffff" stroke-width="1.2"/>
<line x1="425.6" y1="572.5" x2="425.6" y2="581" stroke="#00ffff" stroke-width="2.2"/>
<line x1="435.4" y1="572.5" x2="435.4" y2="581" stroke="#00ffff" stroke-width="2"/>
<polyline points="340,576.6 344,576.6 344,572.5" fill="none" stroke="#00ffff" stroke-width="1.4"/>
<polyline points="424,576.6 421,576.6 421,572.5" fill="none" stroke="#00ffff" stroke-width="1.4"/>
<rect x="299.4" y="589.4" width="6.2" height="4.2" fill="none" stroke="#ffffff" stroke-width="1"/>
<rect x="457.2" y="589.2" width="7.6" height="4.6" fill="none" stroke="#ffffff" stroke-width="1" rx="2.2"/>
<line x1="295.3" y1="571" x2="295.3" y2="600" stroke="#00ffff" stroke-width="1.8"/>
<line x1="469" y1="572" x2="469" y2="600" stroke="#00ffff" stroke-width="1.8"/>
<line x1="297.2" y1="574" x2="297.2" y2="596" stroke="#00ffff" stroke-width="0.9"/>
<line x1="467" y1="574" x2="467" y2="590" stroke="#00ffff" stroke-width="0.9"/>
<polyline points="332.7,305.7 408.7,305.7" fill="none" stroke="#bf20ff" stroke-width="1" stroke-dasharray="3.2 1.3 0.9 1.3"/>
<polyline points="332.7,500.1 407.7,500.1" fill="none" stroke="#bf20ff" stroke-width="1" stroke-dasharray="3.2 1.3 0.9 1.3"/>
<path d="M407.7,305.7 Q408.7,305.7 408.7,308.2" fill="none" stroke="#bf20ff" stroke-width="1"/>
<path d="M407.7,500.1 Q408.7,500.1 408.7,497.6" fill="none" stroke="#bf20ff" stroke-width="1"/>
<polyline points="332.7,305.7 283.4,353.9 283.4,372.9" fill="none" stroke="#bf20ff" stroke-width="1" stroke-dasharray="3.2 1.3 0.9 1.3"/>
<polyline points="283.4,428.4 283.4,451.9 332.7,500.1" fill="none" stroke="#bf20ff" stroke-width="1" stroke-dasharray="3.2 1.3 0.9 1.3"/>
<path d="M283.4,377.9 Q283.4,374.9 286.4,374.9" fill="none" stroke="#bf20ff" stroke-width="1"/>
<path d="M283.4,426.9 Q283.4,429.7 286.4,429.7" fill="none" stroke="#bf20ff" stroke-width="1"/>
<line x1="283.4" y1="377.9" x2="283.4" y2="426.9" stroke="#bf20ff" stroke-width="1" stroke-dasharray="3.2 1.3 0.9 1.3"/>
<line x1="354.5" y1="305.7" x2="354.5" y2="500.1" stroke="#bf20ff" stroke-width="1.9" stroke-dasharray="1.6 0.9"/>
<line x1="355.9" y1="322.9" x2="355.9" y2="482.9" stroke="#ffff00" stroke-width="0.9" stroke-dasharray="0.9 1.6"/>
<line x1="408.9" y1="305.7" x2="408.9" y2="500.1" stroke="#bf20ff" stroke-width="1.9" stroke-dasharray="1.6 0.9"/>
<line x1="407.5" y1="322.9" x2="407.5" y2="482.9" stroke="#ffff00" stroke-width="0.9" stroke-dasharray="0.9 1.6"/>
<line x1="286.4" y1="375.5" x2="477" y2="375.5" stroke="#bf20ff" stroke-width="1.7" stroke-dasharray="1.6 0.9"/>
<line x1="301.7" y1="376.7" x2="467.7" y2="376.7" stroke="#ffff00" stroke-width="0.9" stroke-dasharray="0.9 1.6"/>
<line x1="286.4" y1="430.3" x2="477" y2="430.3" stroke="#bf20ff" stroke-width="1.7" stroke-dasharray="1.6 0.9"/>
<line x1="301.7" y1="429.1" x2="467.7" y2="429.1" stroke="#ffff00" stroke-width="0.9" stroke-dasharray="0.9 1.6"/>
<rect x="356.9" y="324.4" width="11.7" height="11.9" fill="none" stroke="#ffffff" stroke-width="1.3"/>
<line x1="358.1" y1="325.6" x2="367.4" y2="335.1" stroke="#ffffff" stroke-width="0.9"/>
<line x1="367.4" y1="325.6" x2="358.1" y2="335.1" stroke="#ffffff" stroke-width="0.9"/>
<rect x="360.95" y="329.55" width="2.6" height="1.6" fill="#ff0000"/>
<rect x="356.2" y="327.6" width="1.8" height="5.5" fill="#ffffff"/>
<line x1="369.7" y1="321.8" x2="357.7" y2="321.8" stroke="#ffffff" stroke-width="0.8" stroke-dasharray="1.2 0.9"/>
<rect x="356.9" y="341.5" width="11.7" height="12.5" fill="none" stroke="#ffffff" stroke-width="1.3"/>
<line x1="358.1" y1="342.7" x2="367.4" y2="352.8" stroke="#ffffff" stroke-width="0.9"/>
<line x1="367.4" y1="342.7" x2="358.1" y2="352.8" stroke="#ffffff" stroke-width="0.9"/>
<rect x="360.95" y="346.95" width="2.6" height="1.6" fill="#ff0000"/>
<rect x="356.2" y="344.7" width="1.8" height="6.1" fill="#ffffff"/>
<line x1="369.7" y1="338.9" x2="357.7" y2="338.9" stroke="#ffffff" stroke-width="0.8" stroke-dasharray="1.2 0.9"/>
<rect x="356.9" y="359.3" width="11.7" height="11.9" fill="none" stroke="#ffffff" stroke-width="1.3"/>
<line x1="358.1" y1="360.5" x2="367.4" y2="370" stroke="#ffffff" stroke-width="0.9"/>
<line x1="367.4" y1="360.5" x2="358.1" y2="370" stroke="#ffffff" stroke-width="0.9"/>
<rect x="360.95" y="364.45" width="2.6" height="1.6" fill="#ff0000"/>
<rect x="356.2" y="362.5" width="1.8" height="5.5" fill="#ffffff"/>
<line x1="369.7" y1="356.7" x2="357.7" y2="356.7" stroke="#ffffff" stroke-width="0.8" stroke-dasharray="1.2 0.9"/>
<rect x="356.9" y="378.3" width="11.7" height="14.1" fill="none" stroke="#ffffff" stroke-width="1.3"/>
<line x1="358.1" y1="379.5" x2="367.4" y2="391.2" stroke="#ffffff" stroke-width="0.9"/>
<line x1="367.4" y1="379.5" x2="358.1" y2="391.2" stroke="#ffffff" stroke-width="0.9"/>
<rect x="360.95" y="384.55" width="2.6" height="1.6" fill="#ff0000"/>
<rect x="356.2" y="381.5" width="1.8" height="7.7" fill="#ffffff"/>
<line x1="371.2" y1="372.9" x2="371.2" y2="322.9" stroke="#00ff00" stroke-width="1.9" stroke-dasharray="8.5 4.5"/>
<polyline points="371.2,377.9 371.2,394.3 355.7,394.3" fill="none" stroke="#00ff00" stroke-width="1.8"/>
<line x1="373.1" y1="372.9" x2="373.1" y2="322.9" stroke="#ffffff" stroke-width="0.9" stroke-dasharray="2.5 1.2 5 3.2"/>
<rect x="337.1" y="380.5" width="14.6" height="9.8" fill="none" stroke="#ffffff" stroke-width="1.3"/>
<line x1="338.3" y1="381.7" x2="350.5" y2="389.1" stroke="#ffffff" stroke-width="0.9"/>
<line x1="350.5" y1="381.7" x2="338.3" y2="389.1" stroke="#ffffff" stroke-width="0.9"/>
<rect x="342.6" y="384.6" width="2.6" height="1.6" fill="#ff0000"/>
<rect x="339.3" y="378" width="10.2" height="2.2" fill="#ffffff"/>
<line x1="335.5" y1="382" x2="335.5" y2="388.8" stroke="#ffffff" stroke-width="0.8" stroke-dasharray="1.2 0.9"/>
<rect x="319.6" y="380.5" width="14.3" height="9.8" fill="none" stroke="#ffffff" stroke-width="1.3"/>
<line x1="320.8" y1="381.7" x2="332.7" y2="389.1" stroke="#ffffff" stroke-width="0.9"/>
<line x1="332.7" y1="381.7" x2="320.8" y2="389.1" stroke="#ffffff" stroke-width="0.9"/>
<rect x="324.95" y="384.6" width="2.6" height="1.6" fill="#ff0000"/>
<rect x="321.8" y="378" width="9.9" height="2.2" fill="#ffffff"/>
<line x1="318" y1="382" x2="318" y2="388.8" stroke="#ffffff" stroke-width="0.8" stroke-dasharray="1.2 0.9"/>
<rect x="302.5" y="380.5" width="14.2" height="9.8" fill="none" stroke="#ffffff" stroke-width="1.3"/>
<line x1="303.7" y1="381.7" x2="315.5" y2="389.1" stroke="#ffffff" stroke-width="0.9"/>
<line x1="315.5" y1="381.7" x2="303.7" y2="389.1" stroke="#ffffff" stroke-width="0.9"/>
<rect x="307.8" y="384.6" width="2.6" height="1.6" fill="#ff0000"/>
<rect x="304.7" y="378" width="9.8" height="2.2" fill="#ffffff"/>
<line x1="300.9" y1="382" x2="300.9" y2="388.8" stroke="#ffffff" stroke-width="0.8" stroke-dasharray="1.2 0.9"/>
<line x1="353.7" y1="392.6" x2="301.7" y2="392.6" stroke="#00ff00" stroke-width="1.8" stroke-dasharray="5 7.5 10 7.2"/>
<line x1="353.7" y1="394.7" x2="301.7" y2="394.7" stroke="#ffffff" stroke-width="0.9" stroke-dasharray="2.5 1.2 5 3.2"/>
<line x1="353.2" y1="377.1" x2="301.2" y2="377.1" stroke="#ffff00" stroke-width="1"/>
<polyline points="301.4,377.1 301.4,392.9 295.3,392.9 295.3,358.9" fill="none" stroke="#ffff00" stroke-width="1"/>
<line x1="301.8" y1="374.9" x2="301.8" y2="358.9" stroke="#ffff00" stroke-width="1"/>
<polyline points="288.4,355.9 288.4,395.9 302.2,395.9" fill="none" stroke="#ffffff" stroke-width="1"/>
<line x1="290.2" y1="397.4" x2="290.2" y2="408.4" stroke="#ffffff" stroke-width="1" stroke-dasharray="1.6 1.2"/>
<line x1="302.3" y1="397.4" x2="302.3" y2="408.4" stroke="#ffffff" stroke-width="1" stroke-dasharray="1.6 1.2"/>
<polyline points="374.7,322.4 374.7,309.4 334.7,309.4" fill="none" stroke="#ffffff" stroke-width="1"/>
<polyline points="372.7,322.3 372.7,317.4 336.7,317.4" fill="none" stroke="#ffff00" stroke-width="1"/>
<line x1="372.7" y1="322.4" x2="338.7" y2="322.4" stroke="#ffff00" stroke-width="1"/>
<line x1="376.2" y1="312.5" x2="387.2" y2="312.5" stroke="#ffffff" stroke-width="1" stroke-dasharray="1.6 1.2"/>
<line x1="376.2" y1="322.7" x2="387.2" y2="322.7" stroke="#ffffff" stroke-width="1" stroke-dasharray="1.6 1.2"/>
<rect x="356.9" y="469.5" width="11.7" height="11.9" fill="none" stroke="#ffffff" stroke-width="1.3"/>
<line x1="358.1" y1="470.7" x2="367.4" y2="480.2" stroke="#ffffff" stroke-width="0.9"/>
<line x1="367.4" y1="470.7" x2="358.1" y2="480.2" stroke="#ffffff" stroke-width="0.9"/>
<rect x="360.95" y="474.65" width="2.6" height="1.6" fill="#ff0000"/>
<rect x="356.2" y="472.7" width="1.8" height="5.5" fill="#ffffff"/>
<line x1="369.7" y1="466.9" x2="357.7" y2="466.9" stroke="#ffffff" stroke-width="0.8" stroke-dasharray="1.2 0.9"/>
<rect x="356.9" y="451.8" width="11.7" height="12.5" fill="none" stroke="#ffffff" stroke-width="1.3"/>
<line x1="358.1" y1="453" x2="367.4" y2="463.1" stroke="#ffffff" stroke-width="0.9"/>
<line x1="367.4" y1="453" x2="358.1" y2="463.1" stroke="#ffffff" stroke-width="0.9"/>
<rect x="360.95" y="457.25" width="2.6" height="1.6" fill="#ff0000"/>
<rect x="356.2" y="455" width="1.8" height="6.1" fill="#ffffff"/>
<line x1="369.7" y1="449.2" x2="357.7" y2="449.2" stroke="#ffffff" stroke-width="0.8" stroke-dasharray="1.2 0.9"/>
<rect x="356.9" y="434.6" width="11.7" height="11.9" fill="none" stroke="#ffffff" stroke-width="1.3"/>
<line x1="358.1" y1="435.8" x2="367.4" y2="445.3" stroke="#ffffff" stroke-width="0.9"/>
<line x1="367.4" y1="435.8" x2="358.1" y2="445.3" stroke="#ffffff" stroke-width="0.9"/>
<rect x="360.95" y="439.75" width="2.6" height="1.6" fill="#ff0000"/>
<rect x="356.2" y="437.8" width="1.8" height="5.5" fill="#ffffff"/>
<line x1="369.7" y1="432" x2="357.7" y2="432" stroke="#ffffff" stroke-width="0.8" stroke-dasharray="1.2 0.9"/>
<rect x="356.9" y="413.4" width="11.7" height="14.1" fill="none" stroke="#ffffff" stroke-width="1.3"/>
<line x1="358.1" y1="414.6" x2="367.4" y2="426.3" stroke="#ffffff" stroke-width="0.9"/>
<line x1="367.4" y1="414.6" x2="358.1" y2="426.3" stroke="#ffffff" stroke-width="0.9"/>
<rect x="360.95" y="419.65" width="2.6" height="1.6" fill="#ff0000"/>
<rect x="356.2" y="416.6" width="1.8" height="7.7" fill="#ffffff"/>
<line x1="371.2" y1="432.9" x2="371.2" y2="482.9" stroke="#00ff00" stroke-width="1.9" stroke-dasharray="8.5 4.5"/>
<polyline points="371.2,427.9 371.2,411.5 355.7,411.5" fill="none" stroke="#00ff00" stroke-width="1.8"/>
<line x1="373.1" y1="432.9" x2="373.1" y2="482.9" stroke="#ffffff" stroke-width="0.9" stroke-dasharray="2.5 1.2 5 3.2"/>
<rect x="337.1" y="415.5" width="14.6" height="9.8" fill="none" stroke="#ffffff" stroke-width="1.3"/>
<line x1="338.3" y1="416.7" x2="350.5" y2="424.1" stroke="#ffffff" stroke-width="0.9"/>
<line x1="350.5" y1="416.7" x2="338.3" y2="424.1" stroke="#ffffff" stroke-width="0.9"/>
<rect x="342.6" y="419.6" width="2.6" height="1.6" fill="#ff0000"/>
<rect x="339.3" y="425.6" width="10.2" height="2.2" fill="#ffffff"/>
<line x1="335.5" y1="417" x2="335.5" y2="423.8" stroke="#ffffff" stroke-width="0.8" stroke-dasharray="1.2 0.9"/>
<rect x="319.6" y="415.5" width="14.3" height="9.8" fill="none" stroke="#ffffff" stroke-width="1.3"/>
<line x1="320.8" y1="416.7" x2="332.7" y2="424.1" stroke="#ffffff" stroke-width="0.9"/>
<line x1="332.7" y1="416.7" x2="320.8" y2="424.1" stroke="#ffffff" stroke-width="0.9"/>
<rect x="324.95" y="419.6" width="2.6" height="1.6" fill="#ff0000"/>
<rect x="321.8" y="425.6" width="9.9" height="2.2" fill="#ffffff"/>
<line x1="318" y1="417" x2="318" y2="423.8" stroke="#ffffff" stroke-width="0.8" stroke-dasharray="1.2 0.9"/>
<rect x="302.5" y="415.5" width="14.2" height="9.8" fill="none" stroke="#ffffff" stroke-width="1.3"/>
<line x1="303.7" y1="416.7" x2="315.5" y2="424.1" stroke="#ffffff" stroke-width="0.9"/>
<line x1="315.5" y1="416.7" x2="303.7" y2="424.1" stroke="#ffffff" stroke-width="0.9"/>
<rect x="307.8" y="419.6" width="2.6" height="1.6" fill="#ff0000"/>
<rect x="304.7" y="425.6" width="9.8" height="2.2" fill="#ffffff"/>
<line x1="300.9" y1="417" x2="300.9" y2="423.8" stroke="#ffffff" stroke-width="0.8" stroke-dasharray="1.2 0.9"/>
<line x1="353.7" y1="413.2" x2="301.7" y2="413.2" stroke="#00ff00" stroke-width="1.8" stroke-dasharray="5 7.5 10 7.2"/>
<line x1="353.7" y1="411.1" x2="301.7" y2="411.1" stroke="#ffffff" stroke-width="0.9" stroke-dasharray="2.5 1.2 5 3.2"/>
<line x1="353.2" y1="428.7" x2="301.2" y2="428.7" stroke="#ffff00" stroke-width="1"/>
<polyline points="301.4,428.7 301.4,412.9 295.3,412.9 295.3,446.9" fill="none" stroke="#ffff00" stroke-width="1"/>
<line x1="301.8" y1="430.9" x2="301.8" y2="446.9" stroke="#ffff00" stroke-width="1"/>
<polyline points="288.4,449.9 288.4,409.9 302.2,409.9" fill="none" stroke="#ffffff" stroke-width="1"/>
<line x1="290.2" y1="397.4" x2="290.2" y2="408.4" stroke="#ffffff" stroke-width="1" stroke-dasharray="1.6 1.2"/>
<line x1="302.3" y1="397.4" x2="302.3" y2="408.4" stroke="#ffffff" stroke-width="1" stroke-dasharray="1.6 1.2"/>
<polyline points="374.7,483.4 374.7,496.4 334.7,496.4" fill="none" stroke="#ffffff" stroke-width="1"/>
<polyline points="372.7,483.5 372.7,488.4 336.7,488.4" fill="none" stroke="#ffff00" stroke-width="1"/>
<line x1="372.7" y1="483.4" x2="338.7" y2="483.4" stroke="#ffff00" stroke-width="1"/>
<line x1="376.2" y1="493.3" x2="387.2" y2="493.3" stroke="#ffffff" stroke-width="1" stroke-dasharray="1.6 1.2"/>
<line x1="376.2" y1="483.1" x2="387.2" y2="483.1" stroke="#ffffff" stroke-width="1" stroke-dasharray="1.6 1.2"/>
<rect x="393.2" y="324.4" width="11.7" height="11.9" fill="none" stroke="#ffffff" stroke-width="1.3"/>
<line x1="394.4" y1="325.6" x2="403.7" y2="335.1" stroke="#ffffff" stroke-width="0.9"/>
<line x1="403.7" y1="325.6" x2="394.4" y2="335.1" stroke="#ffffff" stroke-width="0.9"/>
<rect x="397.25" y="329.55" width="2.6" height="1.6" fill="#ff0000"/>
<rect x="405.4" y="327.6" width="1.8" height="5.5" fill="#ffffff"/>
<line x1="393.7" y1="321.8" x2="405.7" y2="321.8" stroke="#ffffff" stroke-width="0.8" stroke-dasharray="1.2 0.9"/>
<rect x="393.2" y="341.5" width="11.7" height="12.5" fill="none" stroke="#ffffff" stroke-width="1.3"/>
<line x1="394.4" y1="342.7" x2="403.7" y2="352.8" stroke="#ffffff" stroke-width="0.9"/>
<line x1="403.7" y1="342.7" x2="394.4" y2="352.8" stroke="#ffffff" stroke-width="0.9"/>
<rect x="397.25" y="346.95" width="2.6" height="1.6" fill="#ff0000"/>
<rect x="405.4" y="344.7" width="1.8" height="6.1" fill="#ffffff"/>
<line x1="393.7" y1="338.9" x2="405.7" y2="338.9" stroke="#ffffff" stroke-width="0.8" stroke-dasharray="1.2 0.9"/>
<rect x="393.2" y="359.3" width="11.7" height="11.9" fill="none" stroke="#ffffff" stroke-width="1.3"/>
<line x1="394.4" y1="360.5" x2="403.7" y2="370" stroke="#ffffff" stroke-width="0.9"/>
<line x1="403.7" y1="360.5" x2="394.4" y2="370" stroke="#ffffff" stroke-width="0.9"/>
<rect x="397.25" y="364.45" width="2.6" height="1.6" fill="#ff0000"/>
<rect x="405.4" y="362.5" width="1.8" height="5.5" fill="#ffffff"/>
<line x1="393.7" y1="356.7" x2="405.7" y2="356.7" stroke="#ffffff" stroke-width="0.8" stroke-dasharray="1.2 0.9"/>
<rect x="393.2" y="378.3" width="11.7" height="14.1" fill="none" stroke="#ffffff" stroke-width="1.3"/>
<line x1="394.4" y1="379.5" x2="403.7" y2="391.2" stroke="#ffffff" stroke-width="0.9"/>
<line x1="403.7" y1="379.5" x2="394.4" y2="391.2" stroke="#ffffff" stroke-width="0.9"/>
<rect x="397.25" y="384.55" width="2.6" height="1.6" fill="#ff0000"/>
<rect x="405.4" y="381.5" width="1.8" height="7.7" fill="#ffffff"/>
<line x1="392.2" y1="372.9" x2="392.2" y2="322.9" stroke="#00ff00" stroke-width="1.9" stroke-dasharray="8.5 4.5"/>
<line x1="392.2" y1="376.9" x2="392.2" y2="400.9" stroke="#00ff00" stroke-width="1.9" stroke-dasharray="8.5 4.5"/>
<line x1="390.3" y1="372.9" x2="390.3" y2="322.9" stroke="#ffffff" stroke-width="0.9" stroke-dasharray="2.5 1.2 5 3.2"/>
<rect x="411.7" y="380.5" width="14.6" height="9.8" fill="none" stroke="#ffffff" stroke-width="1.3"/>
<line x1="412.9" y1="381.7" x2="425.1" y2="389.1" stroke="#ffffff" stroke-width="0.9"/>
<line x1="425.1" y1="381.7" x2="412.9" y2="389.1" stroke="#ffffff" stroke-width="0.9"/>
<rect x="417.2" y="384.6" width="2.6" height="1.6" fill="#ff0000"/>
<rect x="413.9" y="378" width="10.2" height="2.2" fill="#ffffff"/>
<line x1="410.1" y1="382" x2="410.1" y2="388.8" stroke="#ffffff" stroke-width="0.8" stroke-dasharray="1.2 0.9"/>
<rect x="429.5" y="380.5" width="14.3" height="9.8" fill="none" stroke="#ffffff" stroke-width="1.3"/>
<line x1="430.7" y1="381.7" x2="442.6" y2="389.1" stroke="#ffffff" stroke-width="0.9"/>
<line x1="442.6" y1="381.7" x2="430.7" y2="389.1" stroke="#ffffff" stroke-width="0.9"/>
<rect x="434.85" y="384.6" width="2.6" height="1.6" fill="#ff0000"/>
<rect x="431.7" y="378" width="9.9" height="2.2" fill="#ffffff"/>
<line x1="427.9" y1="382" x2="427.9" y2="388.8" stroke="#ffffff" stroke-width="0.8" stroke-dasharray="1.2 0.9"/>
<rect x="446.7" y="380.5" width="14.2" height="9.8" fill="none" stroke="#ffffff" stroke-width="1.3"/>
<line x1="447.9" y1="381.7" x2="459.7" y2="389.1" stroke="#ffffff" stroke-width="0.9"/>
<line x1="459.7" y1="381.7" x2="447.9" y2="389.1" stroke="#ffffff" stroke-width="0.9"/>
<rect x="452" y="384.6" width="2.6" height="1.6" fill="#ff0000"/>
<rect x="448.9" y="378" width="9.8" height="2.2" fill="#ffffff"/>
<line x1="445.1" y1="382" x2="445.1" y2="388.8" stroke="#ffffff" stroke-width="0.8" stroke-dasharray="1.2 0.9"/>
<line x1="409.7" y1="392.6" x2="461.7" y2="392.6" stroke="#00ff00" stroke-width="1.8" stroke-dasharray="5 7.5 10 7.2"/>
<line x1="409.7" y1="394.7" x2="461.7" y2="394.7" stroke="#ffffff" stroke-width="0.9" stroke-dasharray="2.5 1.2 5 3.2"/>
<line x1="410.2" y1="377.1" x2="462.2" y2="377.1" stroke="#ffff00" stroke-width="1"/>
<polyline points="462,377.1 462,392.9 468.1,392.9 468.1,358.9" fill="none" stroke="#ffff00" stroke-width="1"/>
<line x1="461.6" y1="374.9" x2="461.6" y2="358.9" stroke="#ffff00" stroke-width="1"/>
<polyline points="388.7,322.4 388.7,309.4 418.7,309.4" fill="none" stroke="#ffffff" stroke-width="1"/>
<polyline points="390.7,322.3 390.7,317.4 426.7,317.4" fill="none" stroke="#ffff00" stroke-width="1"/>
<line x1="390.7" y1="322.4" x2="424.7" y2="322.4" stroke="#ffff00" stroke-width="1"/>
<line x1="376.2" y1="312.5" x2="387.2" y2="312.5" stroke="#ffffff" stroke-width="1" stroke-dasharray="1.6 1.2"/>
<line x1="376.2" y1="322.7" x2="387.2" y2="322.7" stroke="#ffffff" stroke-width="1" stroke-dasharray="1.6 1.2"/>
<rect x="393.2" y="469.5" width="11.7" height="11.9" fill="none" stroke="#ffffff" stroke-width="1.3"/>
<line x1="394.4" y1="470.7" x2="403.7" y2="480.2" stroke="#ffffff" stroke-width="0.9"/>
<line x1="403.7" y1="470.7" x2="394.4" y2="480.2" stroke="#ffffff" stroke-width="0.9"/>
<rect x="397.25" y="474.65" width="2.6" height="1.6" fill="#ff0000"/>
<rect x="405.4" y="472.7" width="1.8" height="5.5" fill="#ffffff"/>
<line x1="393.7" y1="466.9" x2="405.7" y2="466.9" stroke="#ffffff" stroke-width="0.8" stroke-dasharray="1.2 0.9"/>
<rect x="393.2" y="451.8" width="11.7" height="12.5" fill="none" stroke="#ffffff" stroke-width="1.3"/>
<line x1="394.4" y1="453" x2="403.7" y2="463.1" stroke="#ffffff" stroke-width="0.9"/>
<line x1="403.7" y1="453" x2="394.4" y2="463.1" stroke="#ffffff" stroke-width="0.9"/>
<rect x="397.25" y="457.25" width="2.6" height="1.6" fill="#ff0000"/>
<rect x="405.4" y="455" width="1.8" height="6.1" fill="#ffffff"/>
<line x1="393.7" y1="449.2" x2="405.7" y2="449.2" stroke="#ffffff" stroke-width="0.8" stroke-dasharray="1.2 0.9"/>
<rect x="393.2" y="434.6" width="11.7" height="11.9" fill="none" stroke="#ffffff" stroke-width="1.3"/>
<line x1="394.4" y1="435.8" x2="403.7" y2="445.3" stroke="#ffffff" stroke-width="0.9"/>
<line x1="403.7" y1="435.8" x2="394.4" y2="445.3" stroke="#ffffff" stroke-width="0.9"/>
<rect x="397.25" y="439.75" width="2.6" height="1.6" fill="#ff0000"/>
<rect x="405.4" y="437.8" width="1.8" height="5.5" fill="#ffffff"/>
<line x1="393.7" y1="432" x2="405.7" y2="432" stroke="#ffffff" stroke-width="0.8" stroke-dasharray="1.2 0.9"/>
<rect x="393.2" y="413.4" width="11.7" height="14.1" fill="none" stroke="#ffffff" stroke-width="1.3"/>
<line x1="394.4" y1="414.6" x2="403.7" y2="426.3" stroke="#ffffff" stroke-width="0.9"/>
<line x1="403.7" y1="414.6" x2="394.4" y2="426.3" stroke="#ffffff" stroke-width="0.9"/>
<rect x="397.25" y="419.65" width="2.6" height="1.6" fill="#ff0000"/>
<rect x="405.4" y="416.6" width="1.8" height="7.7" fill="#ffffff"/>
<line x1="392.2" y1="432.9" x2="392.2" y2="482.9" stroke="#00ff00" stroke-width="1.9" stroke-dasharray="8.5 4.5"/>
<line x1="392.2" y1="428.9" x2="392.2" y2="404.9" stroke="#00ff00" stroke-width="1.9" stroke-dasharray="8.5 4.5"/>
<line x1="390.3" y1="432.9" x2="390.3" y2="482.9" stroke="#ffffff" stroke-width="0.9" stroke-dasharray="2.5 1.2 5 3.2"/>
<rect x="411.7" y="415.5" width="14.6" height="9.8" fill="none" stroke="#ffffff" stroke-width="1.3"/>
<line x1="412.9" y1="416.7" x2="425.1" y2="424.1" stroke="#ffffff" stroke-width="0.9"/>
<line x1="425.1" y1="416.7" x2="412.9" y2="424.1" stroke="#ffffff" stroke-width="0.9"/>
<rect x="417.2" y="419.6" width="2.6" height="1.6" fill="#ff0000"/>
<rect x="413.9" y="425.6" width="10.2" height="2.2" fill="#ffffff"/>
<line x1="410.1" y1="417" x2="410.1" y2="423.8" stroke="#ffffff" stroke-width="0.8" stroke-dasharray="1.2 0.9"/>
<rect x="429.5" y="415.5" width="14.3" height="9.8" fill="none" stroke="#ffffff" stroke-width="1.3"/>
<line x1="430.7" y1="416.7" x2="442.6" y2="424.1" stroke="#ffffff" stroke-width="0.9"/>
<line x1="442.6" y1="416.7" x2="430.7" y2="424.1" stroke="#ffffff" stroke-width="0.9"/>
<rect x="434.85" y="419.6" width="2.6" height="1.6" fill="#ff0000"/>
<rect x="431.7" y="425.6" width="9.9" height="2.2" fill="#ffffff"/>
<line x1="427.9" y1="417" x2="427.9" y2="423.8" stroke="#ffffff" stroke-width="0.8" stroke-dasharray="1.2 0.9"/>
<rect x="446.7" y="415.5" width="14.2" height="9.8" fill="none" stroke="#ffffff" stroke-width="1.3"/>
<line x1="447.9" y1="416.7" x2="459.7" y2="424.1" stroke="#ffffff" stroke-width="0.9"/>
<line x1="459.7" y1="416.7" x2="447.9" y2="424.1" stroke="#ffffff" stroke-width="0.9"/>
<rect x="452" y="419.6" width="2.6" height="1.6" fill="#ff0000"/>
<rect x="448.9" y="425.6" width="9.8" height="2.2" fill="#ffffff"/>
<line x1="445.1" y1="417" x2="445.1" y2="423.8" stroke="#ffffff" stroke-width="0.8" stroke-dasharray="1.2 0.9"/>
<line x1="409.7" y1="413.2" x2="461.7" y2="413.2" stroke="#00ff00" stroke-width="1.8" stroke-dasharray="5 7.5 10 7.2"/>
<line x1="409.7" y1="411.1" x2="461.7" y2="411.1" stroke="#ffffff" stroke-width="0.9" stroke-dasharray="2.5 1.2 5 3.2"/>
<line x1="410.2" y1="428.7" x2="462.2" y2="428.7" stroke="#ffff00" stroke-width="1"/>
<polyline points="462,428.7 462,412.9 468.1,412.9 468.1,446.9" fill="none" stroke="#ffff00" stroke-width="1"/>
<line x1="461.6" y1="430.9" x2="461.6" y2="446.9" stroke="#ffff00" stroke-width="1"/>
<polyline points="388.7,483.4 388.7,496.4 418.7,496.4" fill="none" stroke="#ffffff" stroke-width="1"/>
<polyline points="390.7,483.5 390.7,488.4 426.7,488.4" fill="none" stroke="#ffff00" stroke-width="1"/>
<line x1="390.7" y1="483.4" x2="424.7" y2="483.4" stroke="#ffff00" stroke-width="1"/>
<line x1="376.2" y1="493.3" x2="387.2" y2="493.3" stroke="#ffffff" stroke-width="1" stroke-dasharray="1.6 1.2"/>
<line x1="376.2" y1="483.1" x2="387.2" y2="483.1" stroke="#ffffff" stroke-width="1" stroke-dasharray="1.6 1.2"/>
<line x1="407.9" y1="322.9" x2="407.9" y2="482.9" stroke="#ffff00" stroke-width="0.9"/>
<rect x="394.9" y="396.4" width="9.4" height="12.6" fill="none" stroke="#ffffff" stroke-width="1.3"/>
<line x1="396.1" y1="397.6" x2="403.1" y2="407.8" stroke="#ffffff" stroke-width="0.9"/>
<line x1="403.1" y1="397.6" x2="396.1" y2="407.8" stroke="#ffffff" stroke-width="0.9"/>
<rect x="397.8" y="401.9" width="2.6" height="1.6" fill="#ff0000"/>
<rect x="405" y="399.6" width="1.8" height="6.4" fill="#ffffff"/>
<text x="428.3" y="402.4" font-family="'Liberation Sans','Noto Sans CJK SC',sans-serif" font-size="4.6" font-weight="bold" fill="#ff0000" text-anchor="start" textLength="15.6" lengthAdjust="spacingAndGlyphs" stroke="#ff0000" stroke-width="0.4">LOBBY</text>
<text x="434" y="398" font-family="'Liberation Sans',sans-serif" font-size="2.2" font-weight="bold" fill="#ff0000" stroke="#ff0000" stroke-width="0.64" textLength="4" lengthAdjust="spacingAndGlyphs">LOBBY</text>
<rect x="431" y="403.3" width="10.7" height="4.4" fill="none" stroke="#ffffff" stroke-width="0.9" rx="1.4"/>
<text x="432.6" y="406.2" font-family="'Liberation Sans',sans-serif" font-size="2.21" font-weight="bold" fill="#ff0000" stroke="#ff0000" stroke-width="0.76" textLength="7.4" lengthAdjust="spacingAndGlyphs">TB-1</text>
<text x="376" y="404.1" font-family="'Liberation Sans',sans-serif" font-size="2.35" font-weight="bold" fill="#ff0000" stroke="#ff0000" stroke-width="0.79" textLength="12" lengthAdjust="spacingAndGlyphs">2.55</text>
<rect x="380" y="400" width="3" height="1.2" fill="#ff0000"/>
<rect x="379" y="405" width="7.4" height="3.8" fill="none" stroke="#ffffff" stroke-width="0.9"/>
<text x="380.4" y="407.6" font-family="'Liberation Sans',sans-serif" font-size="2.2" font-weight="bold" fill="#ff0000" stroke="#ff0000" stroke-width="0.7" textLength="4.6" lengthAdjust="spacingAndGlyphs">STAIR</text>
<polyline points="374.7,322.3 374.7,309.3 332.9,309.3 317.6,325.1 321.8,329.6" fill="none" stroke="#ffffff" stroke-width="1"/>
<polyline points="372.6,322.5 372.6,317.3 336.3,317.3 320.9,332.5" fill="none" stroke="#ffff00" stroke-width="1"/>
<polyline points="372.6,322.3 338.5,322.3 325,335.7" fill="none" stroke="#ffff00" stroke-width="1"/>
<polyline points="311.6,345.5 304.1,338.1 288.4,353.4 288.4,375" fill="none" stroke="#ffffff" stroke-width="1"/>
<polyline points="311.9,348.3 309,345.2 295.3,358.5 295.3,375" fill="none" stroke="#ffff00" stroke-width="1"/>
<polyline points="311.9,348.3 301.8,359 301.8,375" fill="none" stroke="#ffff00" stroke-width="1"/>
<polyline points="306,375 306,353 335,353" fill="none" stroke="#00ffff" stroke-width="1.3"/>
<polyline points="336.6,375 336.6,335.5 354,335.5" fill="none" stroke="#00ffff" stroke-width="1.3"/>
<polyline points="343.1,322.5 343.1,335.5" fill="none" stroke="#00ffff" stroke-width="1.3"/>
<polyline points="347.3,327 347.3,335.5" fill="none" stroke="#00ffff" stroke-width="1.3"/>
<line x1="343" y1="327" x2="354" y2="327" stroke="#00ffff" stroke-width="1.3"/>
<polyline points="336.6,345.5 346,345.5 346,354" fill="none" stroke="#00ffff" stroke-width="1.3"/>
<line x1="311" y1="343" x2="313.5" y2="340.5" stroke="#00ffff" stroke-width="1.3"/>
<rect x="310.4" y="354.6" width="10.6" height="17.6" fill="none" stroke="#ffffff" stroke-width="1.3"/>
<line x1="311.6" y1="355.8" x2="319.8" y2="371" stroke="#ffffff" stroke-width="0.9"/>
<line x1="319.8" y1="355.8" x2="311.6" y2="371" stroke="#ffffff" stroke-width="0.9"/>
<rect x="313.9" y="362.6" width="2.6" height="1.6" fill="#ff0000"/>
<rect x="322.6" y="354.6" width="10.6" height="17.6" fill="none" stroke="#ffffff" stroke-width="1.3"/>
<line x1="323.8" y1="355.8" x2="332" y2="371" stroke="#ffffff" stroke-width="0.9"/>
<line x1="332" y1="355.8" x2="323.8" y2="371" stroke="#ffffff" stroke-width="0.9"/>
<rect x="326.1" y="362.6" width="2.6" height="1.6" fill="#ff0000"/>
<rect x="309" y="353.6" width="25.4" height="19.8" fill="none" stroke="#ffffff" stroke-width="0.9"/>
<line x1="321.8" y1="356" x2="321.8" y2="371" stroke="#ffffff" stroke-width="0.8" stroke-dasharray="1 0.8"/>
<rect x="337.6" y="354.6" width="14.6" height="18.8" fill="none" stroke="#ffffff" stroke-width="1.1"/>
<line x1="337.6" y1="356.48" x2="343.73" y2="356.48" stroke="#ffffff" stroke-width="0.9"/>
<line x1="345.63" y1="356.48" x2="352.2" y2="356.48" stroke="#ffffff" stroke-width="0.9"/>
<line x1="337.6" y1="358.36" x2="343.73" y2="358.36" stroke="#ffffff" stroke-width="0.9"/>
<line x1="345.63" y1="358.36" x2="352.2" y2="358.36" stroke="#ffffff" stroke-width="0.9"/>
<line x1="337.6" y1="360.24" x2="343.73" y2="360.24" stroke="#ffffff" stroke-width="0.9"/>
<line x1="345.63" y1="360.24" x2="352.2" y2="360.24" stroke="#ffffff" stroke-width="0.9"/>
<line x1="337.6" y1="362.12" x2="343.73" y2="362.12" stroke="#ffffff" stroke-width="0.9"/>
<line x1="345.63" y1="362.12" x2="352.2" y2="362.12" stroke="#ffffff" stroke-width="0.9"/>
<line x1="337.6" y1="364" x2="343.73" y2="364" stroke="#ffffff" stroke-width="0.9"/>
<line x1="345.63" y1="364" x2="352.2" y2="364" stroke="#ffffff" stroke-width="0.9"/>
<line x1="337.6" y1="365.88" x2="343.73" y2="365.88" stroke="#ffffff" stroke-width="0.9"/>
<line x1="345.63" y1="365.88" x2="352.2" y2="365.88" stroke="#ffffff" stroke-width="0.9"/>
<line x1="337.6" y1="367.76" x2="343.73" y2="367.76" stroke="#ffffff" stroke-width="0.9"/>
<line x1="345.63" y1="367.76" x2="352.2" y2="367.76" stroke="#ffffff" stroke-width="0.9"/>
<line x1="337.6" y1="369.64" x2="343.73" y2="369.64" stroke="#ffffff" stroke-width="0.9"/>
<line x1="345.63" y1="369.64" x2="352.2" y2="369.64" stroke="#ffffff" stroke-width="0.9"/>
<line x1="337.6" y1="371.52" x2="343.73" y2="371.52" stroke="#ffffff" stroke-width="0.9"/>
<line x1="345.63" y1="371.52" x2="352.2" y2="371.52" stroke="#ffffff" stroke-width="0.9"/>
<line x1="344.61" y1="355.6" x2="344.61" y2="370.4" stroke="#ffffff" stroke-width="0.9"/>
<circle cx="337.1" cy="328.3" r="2.4" fill="none" stroke="#ffffff" stroke-width="0.9"/>
<text x="282" y="307.6" font-family="'Liberation Sans','Noto Sans CJK SC',sans-serif" font-size="5.2" font-weight="bold" fill="#ff0000" text-anchor="start" textLength="12" lengthAdjust="spacingAndGlyphs" stroke="#ff0000" stroke-width="0.45">TB-1</text>
<path d="M309.5,337 q-1,-4 2.4,-5.6 M313,341.5 q4.5,-0.6 3.5,-5.5 M315.6,333.4 l3.6,-3.8" fill="none" stroke="#ff0000" stroke-width="1.2"/>
<text x="317" y="340.2" font-family="'Liberation Sans',sans-serif" font-size="3.59" font-weight="bold" fill="#ff0000" stroke="#ff0000" stroke-width="0.9" textLength="12.5" lengthAdjust="spacingAndGlyphs">EL.3 A-12</text>
<text x="318.6" y="343.8" font-family="'Liberation Sans',sans-serif" font-size="2.2" font-weight="bold" fill="#ff0000" stroke="#ff0000" stroke-width="0.7" textLength="5.4" lengthAdjust="spacingAndGlyphs">DUCT</text>
<text x="331.6" y="341" font-family="'Liberation Sans',sans-serif" font-size="2.2" font-weight="bold" fill="#ff0000" stroke="#ff0000" stroke-width="0.7" textLength="12" lengthAdjust="spacingAndGlyphs">RM-2</text>
<text x="337" y="343.4" font-family="'Liberation Sans',sans-serif" font-size="2.2" font-weight="bold" fill="#ff0000" stroke="#ff0000" stroke-width="0.7" textLength="15" lengthAdjust="spacingAndGlyphs">1.75 SHAFT</text>
<rect x="345" y="338.8" width="3" height="1" fill="#ff0000"/>
<path d="M330.4,332.6 l4.6,4.4 M332.8,330.6 l3.6,3.4" fill="none" stroke="#ff0000" stroke-width="1.3"/>
<rect x="316.4" y="347.8" width="10" height="3.8" fill="none" stroke="#ffffff" stroke-width="0.9"/>
<text x="317.6" y="350.7" font-family="'Liberation Sans','Noto Sans CJK SC',sans-serif" font-size="3.61" font-weight="bold" fill="#ff0000" text-anchor="start" textLength="7.6" lengthAdjust="spacingAndGlyphs" stroke="#ff0000" stroke-width="0.55">2.37</text>
<text x="314.9" y="346.4" font-family="'Liberation Sans','Noto Sans CJK SC',sans-serif" font-size="2.6" font-weight="bold" fill="#ff0000" text-anchor="start" textLength="13" lengthAdjust="spacingAndGlyphs" stroke="#ff0000" stroke-width="0.6">CORRIDOR</text>
<text x="319.8" y="343.8" font-family="'Liberation Sans','Noto Sans CJK SC',sans-serif" font-size="2.2" font-weight="bold" fill="#ff0000" text-anchor="start" textLength="3.2" lengthAdjust="spacingAndGlyphs" stroke="#ff0000" stroke-width="0.5">2</text>
<rect x="340.4" y="347.6" width="10.4" height="4.2" fill="none" stroke="#ffffff" stroke-width="0.9" rx="1.6"/>
<text x="342" y="350.6" font-family="'Liberation Sans',sans-serif" font-size="2.48" font-weight="bold" fill="#ff0000" stroke="#ff0000" stroke-width="0.82" textLength="7.2" lengthAdjust="spacingAndGlyphs">ENTRY</text>
<text x="331.4" y="348.9" font-family="'Liberation Sans',sans-serif" font-size="2.2" font-weight="bold" fill="#ff0000" stroke="#ff0000" stroke-width="0.73" textLength="6" lengthAdjust="spacingAndGlyphs">CORE</text>
<text x="332.4" y="351.1" font-family="'Liberation Sans',sans-serif" font-size="2.2" font-weight="bold" fill="#ff0000" stroke="#ff0000" stroke-width="0.67" textLength="4" lengthAdjust="spacingAndGlyphs">SHAFT</text>
<line x1="300" y1="322.6" x2="327" y2="348.6" stroke="#8c8c8c" stroke-width="0.8"/>
<polyline points="306,451.9 318.5,438.9 332,438.9 346.4,451.9 346.4,465.9 333.4,478.9" fill="none" stroke="#00ffff" stroke-width="1.2"/>
<polyline points="333.5,440.8 344.6,452.6 344.6,465.2" fill="none" stroke="#00ffff" stroke-width="1"/>
<polyline points="307.6,453.4 319.6,441" fill="none" stroke="#00ffff" stroke-width="0.9" stroke-dasharray="1 0.8"/>
<line x1="303.2" y1="453.8" x2="330.6" y2="482.1" stroke="#ffff00" stroke-width="1"/>
<line x1="307.8" y1="450.2" x2="335" y2="478.3" stroke="#ffff00" stroke-width="1"/>
<polyline points="303.2,456 299,460.7 323.6,485.4 328,481" fill="none" stroke="#ffffff" stroke-width="1"/>
<polyline points="283.7,450 323.6,491.9 333,500.1" fill="none" stroke="#bf20ff" stroke-width="1" stroke-dasharray="3.2 1.3 0.9 1.3"/>
<line x1="280" y1="432" x2="311" y2="432" stroke="#ff0000" stroke-width="1.1"/>
<line x1="280" y1="444.5" x2="305" y2="444.5" stroke="#ff0000" stroke-width="1"/>
<polyline points="290.2,467.7 309.7,467.7 339,437.5" fill="none" stroke="#ff0000" stroke-width="1"/>
<polyline points="311.6,497 320,497 338.5,478.4" fill="none" stroke="#ff0000" stroke-width="1"/>
<line x1="352.2" y1="448.2" x2="352.2" y2="500" stroke="#ff0000" stroke-width="1"/>
<text x="321" y="465.2" font-family="'Liberation Sans','Noto Sans CJK SC',sans-serif" font-size="3.4" font-weight="bold" fill="#ffffff" text-anchor="start" textLength="21" lengthAdjust="spacingAndGlyphs" stroke="#ffffff" stroke-width="0.3" transform="rotate(-45 321 465.2)">ELEV. LOBBY</text>
<polyline points="300,480 320,462" fill="none" stroke="#8c8c8c" stroke-width="0.8" stroke-dasharray="3 1 1 1"/>
<rect x="342.4" y="477" width="2.2" height="4.6" fill="#ffffff"/>
<rect x="345.6" y="477" width="2.2" height="4.6" fill="#ffffff"/>
<rect x="348.8" y="477" width="2.2" height="4.6" fill="#ffffff"/>
<text x="340.4" y="475.2" font-family="'Liberation Sans',sans-serif" font-size="4.42" font-weight="bold" fill="#ff0000" stroke="#ff0000" stroke-width="0.9" textLength="10.6" lengthAdjust="spacingAndGlyphs">A-12</text>
<text x="315.6" y="435.4" font-family="'Liberation Sans',sans-serif" font-size="3.59" font-weight="bold" fill="#ff0000" stroke="#ff0000" stroke-width="0.9" textLength="10" lengthAdjust="spacingAndGlyphs">GLASS</text>
<path d="M307.6,443.4 l4.2,-4.2 l2.4,2.4 l-4.2,4.2 z" fill="none" stroke="#ff0000" stroke-width="0.9"/>
<path d="M333,441.5 l6,-6.5 M337.6,442 l3.5,3.6 M341,440.6 l4.4,4.8 M344,444.6 l-2.4,2.6" fill="none" stroke="#ff0000" stroke-width="1.1"/>
<path d="M292.6,449.6 l3,3 M296,452.6 l4,2 M294,455.6 l3.6,-1" fill="none" stroke="#ff0000" stroke-width="1.2"/>
<rect x="322.6" y="479.6" width="3" height="3.4" fill="#ff0000"/>
<path d="M326,484.4 l3,3.5 M329.5,488.6 l3.4,-3.6" fill="none" stroke="#ff0000" stroke-width="1.1"/>
<polyline points="372.9,483.5 335.7,483.5" fill="none" stroke="#ffff00" stroke-width="1"/>
<path d="M335.7,488.9 H371 Q372.9,488.9 372.9,487" fill="none" stroke="#ffff00" stroke-width="1"/>
<polyline points="335.2,486.3 330.1,492.3 333.9,496.5 374.7,496.5 374.7,483.5" fill="none" stroke="#ffffff" stroke-width="1"/>
<line x1="301.4" y1="428.7" x2="354" y2="428.7" stroke="#ffff00" stroke-width="1"/>
<path d="M295.3,430 V446 Q295.3,449 298.5,449 Q301.8,449 301.8,446 V430" fill="none" stroke="#ffff00" stroke-width="1"/>
<polyline points="288.4,430 288.4,452 292,454.7 296.7,450" fill="none" stroke="#ffffff" stroke-width="1"/>
<line x1="332" y1="432" x2="332" y2="438" stroke="#00ff00" stroke-width="1.4"/>
<line x1="335.7" y1="432" x2="335.7" y2="438" stroke="#ffffff" stroke-width="0.9"/>
<polyline points="345.5,432 345.5,435 342.5,438.5" fill="none" stroke="#00ffff" stroke-width="1"/>
<polyline points="347.8,432 347.8,436 344.5,440" fill="none" stroke="#00ffff" stroke-width="1"/>
<rect x="350.6" y="433" width="2.2" height="4" fill="#ffffff"/>
<rect x="350.6" y="445" width="2.2" height="3.4" fill="#ffffff"/>
<text x="302" y="496" font-family="'Liberation Sans','Noto Sans CJK SC',sans-serif" font-size="5.6" font-weight="bold" fill="#ff0000" text-anchor="start" textLength="8" lengthAdjust="spacingAndGlyphs" stroke="#ff0000" stroke-width="0.45">30</text>
<polyline points="388.4,322 388.4,309.3 418.5,309.3 418.5,300" fill="none" stroke="#ffffff" stroke-width="1"/>
<line x1="419.4" y1="300" x2="419.4" y2="317.2" stroke="#00ff00" stroke-width="1.3"/>
<polyline points="390.2,317.5 427.8,317.5 440.4,330.2" fill="none" stroke="#ffff00" stroke-width="1"/>
<polyline points="390.2,322.3 424.6,322.3 437.6,334.8" fill="none" stroke="#ffff00" stroke-width="1"/>
<line x1="390.2" y1="317.5" x2="390.2" y2="322.3" stroke="#ffff00" stroke-width="1"/>
<polyline points="449,349 462.6,361.4 462.6,375" fill="none" stroke="#ffff00" stroke-width="1"/>
<path d="M410.2,323 V371 Q410.2,373.8 413,373.8 H460 Q462.6,373.8 462.6,371" fill="none" stroke="#ffff00" stroke-width="1"/>
<polyline points="450.5,347 453.4,344 459.4,349.6" fill="none" stroke="#ffff00" stroke-width="1"/>
<polyline points="423.6,296 423.6,311.1 431,317.6" fill="none" stroke="#00ffff" stroke-width="1.3"/>
<line x1="410.6" y1="363.1" x2="461.7" y2="363.1" stroke="#00ffff" stroke-width="1.4"/>
<line x1="430.1" y1="363" x2="430.1" y2="375" stroke="#00ffff" stroke-width="1.3"/>
<polyline points="411,327.9 421.4,327.9 421.4,323" fill="none" stroke="#00ffff" stroke-width="1.3"/>
<line x1="415.3" y1="327.9" x2="415.3" y2="342" stroke="#00ffff" stroke-width="1.3"/>
<line x1="411" y1="339" x2="415.3" y2="339" stroke="#00ffff" stroke-width="1.2"/>
<polyline points="436.6,300 420.9,316.7" fill="none" stroke="#bf20ff" stroke-width="1" stroke-dasharray="3.2 1.3 0.9 1.3"/>
<polyline points="423,320.5 463.6,364" fill="none" stroke="#bf20ff" stroke-width="1" stroke-dasharray="1.5 1.5"/>
<polyline points="428.3,318.6 440,330.4" fill="none" stroke="#ffffff" stroke-width="1.1"/>
<polyline points="449.6,339.8 463.6,353.9" fill="none" stroke="#ffffff" stroke-width="1.1"/>
<line x1="437.5" y1="334.8" x2="447.4" y2="344.5" stroke="#8c8c8c" stroke-width="1.6"/>
<line x1="440.6" y1="330.8" x2="446" y2="336" stroke="#00ff00" stroke-width="1.5"/>
<line x1="449.6" y1="339.5" x2="454.3" y2="344" stroke="#00ff00" stroke-width="1.5"/>
<line x1="433" y1="352" x2="461.7" y2="323.2" stroke="#8c8c8c" stroke-width="0.8"/>
<text x="440.4" y="325.8" font-family="'Liberation Sans',sans-serif" font-size="2.48" font-weight="bold" fill="#ff0000" stroke="#ff0000" stroke-width="0.82" textLength="17" lengthAdjust="spacingAndGlyphs">WALL ENTRY</text>
<text x="445.4" y="322.7" font-family="'Liberation Sans',sans-serif" font-size="2.2" font-weight="bold" fill="#ff0000" stroke="#ff0000" stroke-width="0.61" textLength="4.6" lengthAdjust="spacingAndGlyphs">DOOR</text>
<rect x="444.4" y="326.6" width="10.6" height="4" fill="none" stroke="#ffffff" stroke-width="0.9"/>
<text x="445.6" y="329.7" font-family="'Liberation Sans','Noto Sans CJK SC',sans-serif" font-size="3.8" font-weight="bold" fill="#ff0000" text-anchor="start" textLength="8.2" lengthAdjust="spacingAndGlyphs" stroke="#ff0000" stroke-width="0.55">3.74</text>
<path d="M447,331.6 l4,4 M449.4,335.6 l4.6,0.6 M451.5,336.6 l2.4,2.6" fill="none" stroke="#ff0000" stroke-width="1.4"/>
<rect x="420.4" y="355.4" width="9.6" height="4.2" fill="none" stroke="#ffffff" stroke-width="0.9"/>
<text x="421.6" y="358.7" font-family="'Liberation Sans','Noto Sans CJK SC',sans-serif" font-size="3.99" font-weight="bold" fill="#ff0000" text-anchor="start" textLength="7.2" lengthAdjust="spacingAndGlyphs" stroke="#ff0000" stroke-width="0.55">4.11</text>
<text x="415.7" y="354" font-family="'Liberation Sans','Noto Sans CJK SC',sans-serif" font-size="2.6" font-weight="bold" fill="#ff0000" text-anchor="start" textLength="19" lengthAdjust="spacingAndGlyphs" stroke="#ff0000" stroke-width="0.6">ELEV</text>
<text x="423.6" y="351.4" font-family="'Liberation Sans','Noto Sans CJK SC',sans-serif" font-size="2.2" font-weight="bold" fill="#ff0000" text-anchor="start" textLength="3.2" lengthAdjust="spacingAndGlyphs" stroke="#ff0000" stroke-width="0.5">4</text>
<rect x="424.6" y="341.2" width="2.8" height="2.6" fill="#ff0000"/>
<path d="M454,347.5 l3,3 M456,351 l3,1" fill="none" stroke="#ff0000" stroke-width="1.2"/>
<circle cx="433.9" cy="343.6" r="3.3" fill="none" stroke="#8c8c8c" stroke-width="0.9"/>
<line x1="429.4" y1="343.6" x2="438.4" y2="343.6" stroke="#8c8c8c" stroke-width="0.8"/>
<rect x="431.9" y="343.6" width="4" height="2.2" fill="#8c8c8c"/>
<line x1="424" y1="344.4" x2="430" y2="344.4" stroke="#8c8c8c" stroke-width="0.8"/>
<circle cx="415.7" cy="343.6" r="1.7" fill="#ffffff" stroke="#ffffff" stroke-width="0.6"/>
<circle cx="413.9" cy="350.9" r="1.7" fill="#ffffff" stroke="#ffffff" stroke-width="0.6"/>
<circle cx="432.9" cy="360.2" r="1.7" fill="#ffffff" stroke="#ffffff" stroke-width="0.6"/>
<circle cx="467.3" cy="350.6" r="1.7" fill="#ffffff" stroke="#ffffff" stroke-width="0.6"/>
<rect x="411.5" y="318.5" width="8" height="2.4" fill="#8c8c8c"/>
<rect x="414.6" y="323.5" width="3.4" height="5" fill="#8c8c8c"/>
<rect x="418" y="330.4" width="3" height="5.4" fill="#8c8c8c"/>
<rect x="412.4" y="334.6" width="3" height="4" fill="#8c8c8c"/>
<rect x="447" y="351" width="6" height="5.4" fill="#8c8c8c"/>
<rect x="411.5" y="365.4" width="10" height="1.4" fill="#8c8c8c"/>
<rect x="419" y="367.6" width="7" height="2.4" fill="#8c8c8c"/>
<rect x="431.6" y="364.8" width="7" height="8" fill="#8c8c8c"/>
<rect x="441" y="367.5" width="12" height="1.2" fill="#8c8c8c"/>
<rect x="411.4" y="371.6" width="18" height="1.2" fill="#8c8c8c"/>
<rect x="448" y="369.6" width="9" height="1.2" fill="#8c8c8c"/>
<rect x="411.6" y="433.4" width="13.4" height="14.6" fill="none" stroke="#ffffff" stroke-width="1.1"/>
<line x1="411.6" y1="435.22" x2="417.23" y2="435.22" stroke="#ffffff" stroke-width="0.9"/>
<line x1="418.97" y1="435.22" x2="425" y2="435.22" stroke="#ffffff" stroke-width="0.9"/>
<line x1="411.6" y1="437.05" x2="417.23" y2="437.05" stroke="#ffffff" stroke-width="0.9"/>
<line x1="418.97" y1="437.05" x2="425" y2="437.05" stroke="#ffffff" stroke-width="0.9"/>
<line x1="411.6" y1="438.88" x2="417.23" y2="438.88" stroke="#ffffff" stroke-width="0.9"/>
<line x1="418.97" y1="438.88" x2="425" y2="438.88" stroke="#ffffff" stroke-width="0.9"/>
<line x1="411.6" y1="440.7" x2="417.23" y2="440.7" stroke="#ffffff" stroke-width="0.9"/>
<line x1="418.97" y1="440.7" x2="425" y2="440.7" stroke="#ffffff" stroke-width="0.9"/>
<line x1="411.6" y1="442.52" x2="417.23" y2="442.52" stroke="#ffffff" stroke-width="0.9"/>
<line x1="418.97" y1="442.52" x2="425" y2="442.52" stroke="#ffffff" stroke-width="0.9"/>
<line x1="411.6" y1="444.35" x2="417.23" y2="444.35" stroke="#ffffff" stroke-width="0.9"/>
<line x1="418.97" y1="444.35" x2="425" y2="444.35" stroke="#ffffff" stroke-width="0.9"/>
<line x1="411.6" y1="446.17" x2="417.23" y2="446.17" stroke="#ffffff" stroke-width="0.9"/>
<line x1="418.97" y1="446.17" x2="425" y2="446.17" stroke="#ffffff" stroke-width="0.9"/>
<line x1="418.03" y1="434.4" x2="418.03" y2="445" stroke="#ffffff" stroke-width="0.9"/>
<path d="M414.5,436.5 h7 v3.4 h-7" fill="none" stroke="#ffffff" stroke-width="0.8"/>
<rect x="432.4" y="434" width="10.6" height="15" fill="none" stroke="#ffffff" stroke-width="1.3"/>
<line x1="433.6" y1="435.2" x2="441.8" y2="447.8" stroke="#ffffff" stroke-width="0.9"/>
<line x1="441.8" y1="435.2" x2="433.6" y2="447.8" stroke="#ffffff" stroke-width="0.9"/>
<rect x="435.9" y="440.7" width="2.6" height="1.6" fill="#ff0000"/>
<rect x="445.2" y="434" width="10.6" height="15" fill="none" stroke="#ffffff" stroke-width="1.3"/>
<line x1="446.4" y1="435.2" x2="454.6" y2="447.8" stroke="#ffffff" stroke-width="0.9"/>
<line x1="454.6" y1="435.2" x2="446.4" y2="447.8" stroke="#ffffff" stroke-width="0.9"/>
<rect x="448.7" y="440.7" width="2.6" height="1.6" fill="#ff0000"/>
<rect x="430.6" y="432.6" width="27" height="17.6" fill="none" stroke="#ffffff" stroke-width="0.9"/>
<line x1="444" y1="435" x2="444" y2="448.5" stroke="#ffffff" stroke-width="0.8" stroke-dasharray="1 0.8"/>
<line x1="428.6" y1="432.4" x2="428.6" y2="451" stroke="#00ffff" stroke-width="1.3"/>
<line x1="458.4" y1="432.4" x2="458.4" y2="446" stroke="#00ffff" stroke-width="1.3"/>
<path d="M428,452 h6 M440,452.6 h6 M451,452.6 h6" fill="none" stroke="#00ffff" stroke-width="1.2"/>
<path d="M410.2,432 V481 Q410.2,483.4 412.6,483.4 H426" fill="none" stroke="#ffff00" stroke-width="1"/>
<line x1="410.2" y1="431.4" x2="462.6" y2="431.4" stroke="#ffff00" stroke-width="1"/>
<line x1="462.6" y1="431.4" x2="462.6" y2="446" stroke="#ffff00" stroke-width="1"/>
<line x1="468" y1="425" x2="468" y2="447" stroke="#ffff00" stroke-width="1"/>
<polyline points="390.2,483.5 390.2,488.6 428,488.6 440,476" fill="none" stroke="#ffff00" stroke-width="1"/>
<polyline points="426,483.4 439.6,470.4" fill="none" stroke="#ffff00" stroke-width="1"/>
<polyline points="451,458.6 461.6,447.6" fill="none" stroke="#ffff00" stroke-width="1"/>
<polyline points="388.4,484 388.4,496.5 416,496.5" fill="none" stroke="#ffffff" stroke-width="1"/>
<polyline points="411,467.6 421,467.6 421,483" fill="none" stroke="#00ffff" stroke-width="1.3"/>
<line x1="411" y1="479.4" x2="421" y2="479.4" stroke="#00ffff" stroke-width="1.3"/>
<rect x="411.6" y="471" width="4.6" height="5.6" fill="none" stroke="#00ffff" stroke-width="1.1"/>
<line x1="418.4" y1="471" x2="418.4" y2="477" stroke="#00ffff" stroke-width="1.1"/>
<line x1="421" y1="467.4" x2="427" y2="467.4" stroke="#00ffff" stroke-width="1.2"/>
<line x1="418.6" y1="458.4" x2="426.6" y2="458.4" stroke="#00ffff" stroke-width="1.4"/>
<circle cx="423.8" cy="473.2" r="2.6" fill="none" stroke="#ffffff" stroke-width="0.9"/>
<circle cx="424.4" cy="472.6" r="0.9" fill="none" stroke="#ffffff" stroke-width="0.6"/>
<rect x="413.4" y="455.4" width="12.4" height="3.6" fill="none" stroke="#ffffff" stroke-width="0.9" rx="1.6"/>
<text x="415" y="458.1" font-family="'Liberation Sans',sans-serif" font-size="2.21" font-weight="bold" fill="#ff0000" stroke="#ff0000" stroke-width="0.76" textLength="9.4" lengthAdjust="spacingAndGlyphs">FFL</text>
<path d="M428.4,457 q2,-3.6 4.6,-1 M434.6,455 l-3,3" fill="none" stroke="#ff0000" stroke-width="1.4"/>
<rect x="435.4" y="461.4" width="10.4" height="4.4" fill="none" stroke="#ffffff" stroke-width="0.9"/>
<text x="436.6" y="464.9" font-family="'Liberation Sans','Noto Sans CJK SC',sans-serif" font-size="4.18" font-weight="bold" fill="#ff0000" text-anchor="start" textLength="8" lengthAdjust="spacingAndGlyphs" stroke="#ff0000" stroke-width="0.55">5.48</text>
<text x="433.6" y="460" font-family="'Liberation Sans','Noto Sans CJK SC',sans-serif" font-size="2.6" font-weight="bold" fill="#ff0000" text-anchor="start" textLength="14" lengthAdjust="spacingAndGlyphs" stroke="#ff0000" stroke-width="0.6">SHAFT</text>
<text x="439" y="457.4" font-family="'Liberation Sans','Noto Sans CJK SC',sans-serif" font-size="2.2" font-weight="bold" fill="#ff0000" text-anchor="start" textLength="3.2" lengthAdjust="spacingAndGlyphs" stroke="#ff0000" stroke-width="0.5">5</text>
<path d="M412,465.2 l3,-3.6 h6 M413.5,462.4 h8" fill="none" stroke="#ff0000" stroke-width="1.1"/>
<text x="424" y="463.6" font-family="'Liberation Sans',sans-serif" font-size="2.21" font-weight="bold" fill="#ff0000" stroke="#ff0000" stroke-width="0.76" textLength="6" lengthAdjust="spacingAndGlyphs">LOBBY</text>
<text x="427" y="467.4" font-family="'Liberation Sans',sans-serif" font-size="3.31" font-weight="bold" fill="#ff0000" stroke="#ff0000" stroke-width="0.9" textLength="6" lengthAdjust="spacingAndGlyphs">TB-1</text>
<path d="M426.6,469 l3,4 l3,-3.4 l2.6,3 M431,474 l-2,3" fill="none" stroke="#ff0000" stroke-width="1.2"/>
<path d="M436,474.6 l4.5,4.4 l3.5,-3.2 M438,478.6 l5.4,5.2 M441.6,477 l3.4,3.6" fill="none" stroke="#ff0000" stroke-width="1.7"/>
<rect x="454" y="469.6" width="9.4" height="4.2" fill="none" stroke="#ffffff" stroke-width="0.9"/>
<text x="455.2" y="472.9" font-family="'Liberation Sans','Noto Sans CJK SC',sans-serif" font-size="3.99" font-weight="bold" fill="#ff0000" text-anchor="start" textLength="7" lengthAdjust="spacingAndGlyphs" stroke="#ff0000" stroke-width="0.55">6.85</text>
<text x="454.2" y="468.2" font-family="'Liberation Sans','Noto Sans CJK SC',sans-serif" font-size="2.6" font-weight="bold" fill="#ff0000" text-anchor="start" textLength="9" lengthAdjust="spacingAndGlyphs" stroke="#ff0000" stroke-width="0.6">ROOM</text>
<text x="457.1" y="465.6" font-family="'Liberation Sans','Noto Sans CJK SC',sans-serif" font-size="2.2" font-weight="bold" fill="#ff0000" text-anchor="start" textLength="3.2" lengthAdjust="spacingAndGlyphs" stroke="#ff0000" stroke-width="0.5">6</text>
<path d="M446.6,463.6 l3,2.8 M449.5,461 l2.8,2.6" fill="none" stroke="#ff0000" stroke-width="1.2"/>
<polyline points="414.6,500 427,478.6" fill="none" stroke="#ff0000" stroke-width="0.9" stroke-dasharray="2.2 1.2"/>
<text x="421" y="491.6" font-family="'Liberation Sans',sans-serif" font-size="2.21" font-weight="bold" fill="#ff0000" stroke="#ff0000" stroke-width="0.76" textLength="12" lengthAdjust="spacingAndGlyphs">2.55</text>
<text x="428.4" y="489.6" font-family="'Liberation Sans',sans-serif" font-size="2.2" font-weight="bold" fill="#ff0000" stroke="#ff0000" stroke-width="0.64" textLength="4.4" lengthAdjust="spacingAndGlyphs">STAIR</text>
<text x="433.6" y="492.6" font-family="'Liberation Sans',sans-serif" font-size="2.2" font-weight="bold" fill="#ff0000" stroke="#ff0000" stroke-width="0.64" textLength="5.4" lengthAdjust="spacingAndGlyphs">EL.3</text>
<rect x="423.6" y="493.6" width="10" height="3.8" fill="none" stroke="#ffffff" stroke-width="0.9"/>
<text x="424.8" y="496.5" font-family="'Liberation Sans','Noto Sans CJK SC',sans-serif" font-size="3.61" font-weight="bold" fill="#ff0000" text-anchor="start" textLength="7.6" lengthAdjust="spacingAndGlyphs" stroke="#ff0000" stroke-width="0.55">7.22</text>
<line x1="419.6" y1="489" x2="419.6" y2="498" stroke="#00ff00" stroke-width="1.4"/>
<circle cx="447.6" cy="470.4" r="3.3" fill="none" stroke="#8c8c8c" stroke-width="0.9"/>
<line x1="443.1" y1="470.4" x2="452.1" y2="470.4" stroke="#8c8c8c" stroke-width="0.8"/>
<rect x="445.6" y="470.4" width="4" height="2.2" fill="#8c8c8c"/>
<circle cx="362.6" cy="403.5" r="3.3" fill="none" stroke="#8c8c8c" stroke-width="0.9"/>
<line x1="358.1" y1="403.5" x2="367.1" y2="403.5" stroke="#8c8c8c" stroke-width="0.8"/>
<rect x="360.6" y="403.5" width="4" height="2.2" fill="#8c8c8c"/>
<circle cx="363.6" cy="299.2" r="3.3" fill="none" stroke="#8c8c8c" stroke-width="0.9"/>
<line x1="359.1" y1="299.2" x2="368.1" y2="299.2" stroke="#8c8c8c" stroke-width="0.8"/>
<rect x="361.6" y="299.2" width="4" height="2.2" fill="#8c8c8c"/>
<circle cx="365.3" cy="506.1" r="3.3" fill="none" stroke="#8c8c8c" stroke-width="0.9"/>
<line x1="360.8" y1="506.1" x2="369.8" y2="506.1" stroke="#8c8c8c" stroke-width="0.8"/>
<rect x="363.3" y="506.1" width="4" height="2.2" fill="#8c8c8c"/>
<circle cx="275.9" cy="358.8" r="3.3" fill="none" stroke="#8c8c8c" stroke-width="0.9"/>
<line x1="271.4" y1="358.8" x2="280.4" y2="358.8" stroke="#8c8c8c" stroke-width="0.8"/>
<rect x="273.9" y="358.8" width="4" height="2.2" fill="#8c8c8c"/>
<circle cx="275.9" cy="384.5" r="3.3" fill="none" stroke="#8c8c8c" stroke-width="0.9"/>
<line x1="271.4" y1="384.5" x2="280.4" y2="384.5" stroke="#8c8c8c" stroke-width="0.8"/>
<rect x="273.9" y="384.5" width="4" height="2.2" fill="#8c8c8c"/>
<polyline points="443.14,302.66 454.6,291.2 491.02,327.62 479.56,339.07" fill="none" stroke="#00ff00" stroke-width="1.5"/>
<polyline points="444.42,303.93 454.6,293.75 488.47,327.62 478.29,337.8" fill="none" stroke="#00ff00" stroke-width="1.1"/>
<polyline points="445.41,304.92 454.46,295.87 486.35,327.76 477.3,336.81" fill="none" stroke="#ffffff" stroke-width="1.3"/>
<polyline points="443.14,302.66 479.56,339.07" fill="none" stroke="#ffffff" stroke-width="1.8"/>
<polyline points="445.2,306.97 450.85,312.63" fill="none" stroke="#00ff00" stroke-width="1.7"/>
<polyline points="443.5,307.25 450.57,314.32" fill="none" stroke="#ffffff" stroke-width="0.9"/>
<polyline points="457.22,318.99 463.23,325" fill="none" stroke="#00ff00" stroke-width="1.7"/>
<polyline points="455.52,319.27 462.94,326.7" fill="none" stroke="#ffffff" stroke-width="0.9"/>
<polyline points="469.24,331.01 475.25,337.02" fill="none" stroke="#00ff00" stroke-width="1.7"/>
<polyline points="467.54,331.29 474.96,338.72" fill="none" stroke="#ffffff" stroke-width="0.9"/>
<polygon points="452.34,297.42 462.24,307.32 455.59,313.97 445.69,304.07" fill="none" stroke="#ffffff" stroke-width="1.5"/>
<polyline points="452.34,298.84 455.59,312.55" fill="none" stroke="#ffffff" stroke-width="1.2"/>
<polyline points="460.82,307.32 447.1,304.07" fill="none" stroke="#ffffff" stroke-width="1.2"/>
<polygon points="455.73,296.86 462.8,303.93 461.11,305.62 454.03,298.55" fill="none" stroke="#ffffff" stroke-width="1" stroke-dasharray="0.9 0.8"/>
<polyline points="455.24,298.06 461.6,304.42" fill="none" stroke="#ffffff" stroke-width="1.2" stroke-dasharray="0.8 0.8"/>
<polygon points="463.93,309.02 473.83,318.92 467.19,325.57 457.29,315.67" fill="none" stroke="#ffffff" stroke-width="1.5"/>
<polyline points="463.93,310.43 467.19,324.15" fill="none" stroke="#ffffff" stroke-width="1.2"/>
<polyline points="472.42,318.92 458.7,315.67" fill="none" stroke="#ffffff" stroke-width="1.2"/>
<polygon points="467.33,308.45 474.4,315.52 472.7,317.22 465.63,310.15" fill="none" stroke="#ffffff" stroke-width="1" stroke-dasharray="0.9 0.8"/>
<polyline points="466.83,309.66 473.2,316.02" fill="none" stroke="#ffffff" stroke-width="1.2" stroke-dasharray="0.8 0.8"/>
<rect x="463.62" y="316.18" width="2.6" height="1.7" fill="#ff0000"/>
<polygon points="475.81,320.9 485.71,330.8 479.07,337.44 469.17,327.55" fill="none" stroke="#ffffff" stroke-width="1.5"/>
<polyline points="475.81,322.31 479.07,336.03" fill="none" stroke="#ffffff" stroke-width="1.2"/>
<polyline points="484.3,330.8 470.58,327.55" fill="none" stroke="#ffffff" stroke-width="1.2"/>
<polygon points="479.21,320.33 486.28,327.4 484.58,329.1 477.51,322.03" fill="none" stroke="#ffffff" stroke-width="1" stroke-dasharray="0.9 0.8"/>
<polyline points="478.71,321.53 485.08,327.9" fill="none" stroke="#ffffff" stroke-width="1.2" stroke-dasharray="0.8 0.8"/>
<rect x="475.5" y="328.06" width="2.6" height="1.7" fill="#ff0000"/>
<polyline points="462.8,308.45 456.86,314.39" fill="none" stroke="#ffffff" stroke-width="0.9" stroke-dasharray="1 0.8"/>
<polyline points="474.54,320.19 468.6,326.13" fill="none" stroke="#ffffff" stroke-width="0.9" stroke-dasharray="1 0.8"/>
<polyline points="452.05,511.35 441.3,500.6 479.48,462.42 490.23,473.16" fill="none" stroke="#00ff00" stroke-width="1.5"/>
<polyline points="453.32,510.08 443.85,500.6 479.48,464.96 488.96,474.44" fill="none" stroke="#00ff00" stroke-width="1.1"/>
<polyline points="454.31,509.09 445.97,500.74 479.63,467.08 487.97,475.43" fill="none" stroke="#ffffff" stroke-width="1.3"/>
<polyline points="452.05,511.35 490.23,473.16" fill="none" stroke="#ffffff" stroke-width="1.8"/>
<polyline points="456.36,509.3 462.02,503.64" fill="none" stroke="#00ff00" stroke-width="1.7"/>
<polyline points="456.64,510.99 463.72,503.92" fill="none" stroke="#ffffff" stroke-width="0.9"/>
<polyline points="468.38,497.28 474.39,491.27" fill="none" stroke="#00ff00" stroke-width="1.7"/>
<polyline points="468.67,498.97 476.09,491.55" fill="none" stroke="#ffffff" stroke-width="0.9"/>
<polyline points="480.4,485.26 486.41,479.25" fill="none" stroke="#00ff00" stroke-width="1.7"/>
<polyline points="480.69,486.95 488.11,479.53" fill="none" stroke="#ffffff" stroke-width="0.9"/>
<polygon points="447.52,502.86 457.42,492.96 463.36,498.9 453.46,508.8" fill="none" stroke="#ffffff" stroke-width="1.5"/>
<polyline points="448.94,502.86 461.95,498.9" fill="none" stroke="#ffffff" stroke-width="1.2"/>
<polyline points="457.42,494.38 453.46,507.39" fill="none" stroke="#ffffff" stroke-width="1.2"/>
<polygon points="446.96,499.47 454.03,492.4 455.72,494.09 448.65,501.17" fill="none" stroke="#ffffff" stroke-width="1" stroke-dasharray="0.9 0.8"/>
<polyline points="448.16,499.96 454.52,493.6" fill="none" stroke="#ffffff" stroke-width="1.2" stroke-dasharray="0.8 0.8"/>
<polygon points="459.54,490.84 469.44,480.94 475.38,486.88 465.48,496.78" fill="none" stroke="#ffffff" stroke-width="1.5"/>
<polyline points="460.96,490.84 473.97,486.88" fill="none" stroke="#ffffff" stroke-width="1.2"/>
<polyline points="469.44,482.36 465.48,495.37" fill="none" stroke="#ffffff" stroke-width="1.2"/>
<polygon points="458.98,487.45 466.05,480.38 467.75,482.07 460.67,489.14" fill="none" stroke="#ffffff" stroke-width="1" stroke-dasharray="0.9 0.8"/>
<polyline points="460.18,487.94 466.54,481.58" fill="none" stroke="#ffffff" stroke-width="1.2" stroke-dasharray="0.8 0.8"/>
<rect x="466.3" y="488.95" width="2.6" height="1.7" fill="#ff0000"/>
<polygon points="471.71,478.68 481.61,468.78 487.54,474.72 477.65,484.62" fill="none" stroke="#ffffff" stroke-width="1.5"/>
<polyline points="473.12,478.68 486.13,474.72" fill="none" stroke="#ffffff" stroke-width="1.2"/>
<polyline points="481.61,470.19 477.65,483.21" fill="none" stroke="#ffffff" stroke-width="1.2"/>
<polygon points="471.14,475.29 478.21,468.21 479.91,469.91 472.84,476.98" fill="none" stroke="#ffffff" stroke-width="1" stroke-dasharray="0.9 0.8"/>
<polyline points="472.34,475.78 478.71,469.42" fill="none" stroke="#ffffff" stroke-width="1.2" stroke-dasharray="0.8 0.8"/>
<rect x="478.47" y="476.79" width="2.6" height="1.7" fill="#ff0000"/>
<polyline points="458.55,492.4 463.79,497.63" fill="none" stroke="#ffffff" stroke-width="0.9" stroke-dasharray="1 0.8"/>
<polyline points="470.29,480.66 475.52,485.89" fill="none" stroke="#ffffff" stroke-width="0.9" stroke-dasharray="1 0.8"/>
<line x1="419" y1="264" x2="419" y2="274.2" stroke="#00ff00" stroke-width="1.6"/>
<polyline points="423.2,270.5 423.2,263 440.9,263 440.9,270.5" fill="none" stroke="#8c8c8c" stroke-width="1"/>
<rect x="424.6" y="261.2" width="5" height="1.8" fill="#8c8c8c"/>
<rect x="434.4" y="261.2" width="5" height="1.8" fill="#8c8c8c"/>
<path d="M426.6,270 v-6 q4,0.6 5.4,5 M437.6,270 v-6 q-4,0.6 -5.4,5" fill="none" stroke="#ff0000" stroke-width="1.1"/>
<text x="427" y="260.2" font-family="'Liberation Sans',sans-serif" font-size="2.48" font-weight="bold" fill="#ff0000" stroke="#ff0000" stroke-width="0.82" textLength="11" lengthAdjust="spacingAndGlyphs">DUCT</text>
<path d="M441,270.4 h6 M443.4,268.4 l3.4,4 M446.8,268.4 l-3.4,4 M445,267.6 v5.6" fill="none" stroke="#8c8c8c" stroke-width="0.8"/>
<polyline points="440.9,300 440.9,270.5 437,270.5" fill="none" stroke="#00ffff" stroke-width="1.5"/>
<line x1="420" y1="270.5" x2="426" y2="270.5" stroke="#00ffff" stroke-width="1.5"/>
<polyline points="419.4,274 419.4,293 424,293 424,300" fill="none" stroke="#00ffff" stroke-width="1.4"/>
<line x1="419" y1="274" x2="419" y2="295" stroke="#00ff00" stroke-width="1.2"/>
<rect x="426.5" y="279.4" width="10.2" height="4.4" fill="none" stroke="#ffffff" stroke-width="0.9"/>
<text x="427.7" y="282.9" font-family="'Liberation Sans','Noto Sans CJK SC',sans-serif" font-size="4.18" font-weight="bold" fill="#ff0000" text-anchor="start" textLength="7.8" lengthAdjust="spacingAndGlyphs" stroke="#ff0000" stroke-width="0.55">8.59</text>
<text x="427.1" y="278" font-family="'Liberation Sans','Noto Sans CJK SC',sans-serif" font-size="2.6" font-weight="bold" fill="#ff0000" text-anchor="start" textLength="9" lengthAdjust="spacingAndGlyphs" stroke="#ff0000" stroke-width="0.6">DUCT</text>
<text x="430" y="275.4" font-family="'Liberation Sans','Noto Sans CJK SC',sans-serif" font-size="2.2" font-weight="bold" fill="#ff0000" text-anchor="start" textLength="3.2" lengthAdjust="spacingAndGlyphs" stroke="#ff0000" stroke-width="0.5">1</text>
<path d="M431,274.6 q1.6,-2.6 3,0" fill="none" stroke="#ff0000" stroke-width="0.9"/>
<rect x="417" y="263.4" width="3" height="1.4" fill="#8c8c8c"/>
<rect x="415.6" y="266" width="4" height="5" fill="#8c8c8c"/>
<rect x="418.6" y="276.4" width="5" height="4.4" fill="#8c8c8c"/>
<rect x="412" y="283" width="5" height="1.2" fill="#8c8c8c"/>
<rect x="418.6" y="282.6" width="7" height="1.4" fill="#8c8c8c"/>
<rect x="409.4" y="286" width="16" height="1" fill="#8c8c8c"/>
<rect x="414" y="289" width="2.6" height="6" fill="#8c8c8c"/>
<rect x="429" y="286.4" width="5.4" height="1.6" fill="#8c8c8c"/>
<rect x="437.6" y="286.6" width="3" height="4" fill="#8c8c8c"/>
<rect x="426" y="290.6" width="4" height="4.6" fill="#8c8c8c"/>
<rect x="420.4" y="271.4" width="4" height="1.2" fill="#8c8c8c"/>
<rect x="421" y="277.6" width="3" height="3" fill="#8c8c8c"/>
<path d="M420.6,273 l3.6,1.6 l-3,2" fill="none" stroke="#ffffff" stroke-width="1"/>
<text x="468.2" y="278.6" font-family="'Liberation Sans','Noto Sans CJK SC',sans-serif" font-size="4.6" font-weight="bold" fill="#ff0000" text-anchor="start" textLength="11" lengthAdjust="spacingAndGlyphs" stroke="#ff0000" stroke-width="0.45">B1M</text>
<text x="468.2" y="282.6" font-family="'Liberation Sans','Noto Sans CJK SC',sans-serif" font-size="4.4" font-weight="bold" fill="#ff0000" text-anchor="start" textLength="11" lengthAdjust="spacingAndGlyphs" stroke="#ff0000" stroke-width="0.45">ROOF</text>
<circle cx="480.3" cy="289" r="3.3" fill="none" stroke="#8c8c8c" stroke-width="0.9"/>
<line x1="475.8" y1="289" x2="484.8" y2="289" stroke="#8c8c8c" stroke-width="0.8"/>
<rect x="478.3" y="289" width="4" height="2.2" fill="#8c8c8c"/>
<polyline points="470,292 473,288.8 476.5,288.8" fill="none" stroke="#8c8c8c" stroke-width="0.8"/>
<path d="M440.9,300 L452,285 Q455.7,280 459.4,285 L477,300" fill="none" stroke="#bf20ff" stroke-width="1" stroke-dasharray="2.2 1.2 0.9 1.2"/>
<path d="M440.5,290 h9 l3,-2.4 l3.6,3.4 l-3,2.6" fill="none" stroke="#00ffff" stroke-width="1.5"/>
<circle cx="444" cy="286.6" r="1.7" fill="#ffffff" stroke="#ffffff" stroke-width="0.6"/>
<circle cx="436" cy="296" r="1.7" fill="#ffffff" stroke="#ffffff" stroke-width="0.6"/>
<circle cx="452.4" cy="289.6" r="1.7" fill="#ffffff" stroke="#ffffff" stroke-width="0.6"/>
<rect x="497.2" y="283.2" width="10.6" height="4.2" fill="none" stroke="#ffffff" stroke-width="0.9"/>
<text x="498.4" y="286.5" font-family="'Liberation Sans','Noto Sans CJK SC',sans-serif" font-size="3.99" font-weight="bold" fill="#ff0000" text-anchor="start" textLength="8.2" lengthAdjust="spacingAndGlyphs" stroke="#ff0000" stroke-width="0.55">9.96</text>
<text x="495.5" y="281.8" font-family="'Liberation Sans','Noto Sans CJK SC',sans-serif" font-size="2.6" font-weight="bold" fill="#ff0000" text-anchor="start" textLength="14" lengthAdjust="spacingAndGlyphs" stroke="#ff0000" stroke-width="0.6">ENTRY</text>
<text x="500.9" y="279.2" font-family="'Liberation Sans','Noto Sans CJK SC',sans-serif" font-size="2.2" font-weight="bold" fill="#ff0000" text-anchor="start" textLength="3.2" lengthAdjust="spacingAndGlyphs" stroke="#ff0000" stroke-width="0.5">2</text>
<text x="242.5" y="271.8" font-family="'Liberation Sans',sans-serif" font-size="2.2" font-weight="bold" fill="#ff0000" stroke="#ff0000" stroke-width="0.58" textLength="22" lengthAdjust="spacingAndGlyphs">RM-2 DUCT</text>
<text x="265" y="271.6" font-family="'Liberation Sans',sans-serif" font-size="2.2" font-weight="bold" fill="#ff0000" stroke="#ff0000" stroke-width="0.7" textLength="10" lengthAdjust="spacingAndGlyphs">1.75</text>
<text x="279" y="271.4" font-family="'Liberation Sans',sans-serif" font-size="2.2" font-weight="bold" fill="#ff0000" stroke="#ff0000" stroke-width="0.7" textLength="11" lengthAdjust="spacingAndGlyphs">ENTRY</text>
<text x="254" y="275.6" font-family="'Liberation Sans',sans-serif" font-size="2.76" font-weight="bold" fill="#ff0000" stroke="#ff0000" stroke-width="0.88" textLength="24" lengthAdjust="spacingAndGlyphs">CORE EL.3</text>
<rect x="377" y="291.4" width="9.4" height="3.6" fill="none" stroke="#ffffff" stroke-width="0.9"/>
<text x="378.2" y="294.1" font-family="'Liberation Sans','Noto Sans CJK SC',sans-serif" font-size="3.42" font-weight="bold" fill="#ff0000" text-anchor="start" textLength="7" lengthAdjust="spacingAndGlyphs" stroke="#ff0000" stroke-width="0.55">1.33</text>
<text x="379.2" y="290" font-family="'Liberation Sans','Noto Sans CJK SC',sans-serif" font-size="2.6" font-weight="bold" fill="#ff0000" text-anchor="start" textLength="5" lengthAdjust="spacingAndGlyphs" stroke="#ff0000" stroke-width="0.6">OFFICE</text>
<text x="380.1" y="287.4" font-family="'Liberation Sans','Noto Sans CJK SC',sans-serif" font-size="2.2" font-weight="bold" fill="#ff0000" text-anchor="start" textLength="3.2" lengthAdjust="spacingAndGlyphs" stroke="#ff0000" stroke-width="0.5">3</text>
<polyline points="460,282 492.5,314.4" fill="none" stroke="#bf20ff" stroke-width="1" stroke-dasharray="1.4 1.8"/>
<line x1="476" y1="310" x2="479.6" y2="306.4" stroke="#8c8c8c" stroke-width="0.8"/>
<path d="M493.8,323.4 l8,-8" fill="none" stroke="#ff0000" stroke-width="2.2"/>
<path d="M496.6,331 l-3.4,-3.4" fill="none" stroke="#ff0000" stroke-width="1.6"/>
<path d="M503,317.4 l4,4.6" fill="none" stroke="#ff0000" stroke-width="1.4"/>
<polyline points="493,316 499,310.4" fill="none" stroke="#8c8c8c" stroke-width="2.2"/>
<rect x="493" y="327.6" width="6" height="5" fill="#8c8c8c"/>
<polyline points="502.4,316.6 509.6,323 510.1,330.1 547.7,330.1" fill="none" stroke="#00ffff" stroke-width="1.6"/>
<polyline points="491.6,327.4 497,332.4 495.6,341 487,345" fill="none" stroke="#00ffff" stroke-width="1.5"/>
<polyline points="500,321 503.6,317.6 509,322.6" fill="none" stroke="#00ffff" stroke-width="1.2"/>
<path d="M489,330 q3,1 4,4 M497,340.6 v-4" fill="none" stroke="#ffffff" stroke-width="1"/>
<circle cx="507.4" cy="316.2" r="1.8" fill="#ffffff" stroke="#ffffff" stroke-width="0.6"/>
<circle cx="506.9" cy="328.3" r="1.8" fill="#ffffff" stroke="#ffffff" stroke-width="0.6"/>
<circle cx="508.7" cy="333.9" r="1.8" fill="#ffffff" stroke="#ffffff" stroke-width="0.6"/>
<circle cx="499.9" cy="335.7" r="1.8" fill="#ffffff" stroke="#ffffff" stroke-width="0.6"/>
<circle cx="492" cy="346.4" r="1.8" fill="#ffffff" stroke="#ffffff" stroke-width="0.6"/>
<circle cx="467" cy="351" r="1.8" fill="#ffffff" stroke="#ffffff" stroke-width="0.6"/>
<circle cx="474.6" cy="340.6" r="1.8" fill="#ffffff" stroke="#ffffff" stroke-width="0.6"/>
<path d="M517.6,355 V329 Q517.6,326.4 520.4,326.4 H540.6 Q543.6,326.4 543.6,329 V372" fill="none" stroke="#bf20ff" stroke-width="1.2" stroke-dasharray="1.4 1.6"/>
<path d="M524.4,326.9 h4 M526.4,324.6 v4.6" fill="none" stroke="#ffffff" stroke-width="1"/>
<text x="526" y="310.4" font-family="'Liberation Sans','Noto Sans CJK SC',sans-serif" font-size="3" font-weight="bold" fill="#ff0000" text-anchor="start" textLength="7" lengthAdjust="spacingAndGlyphs" stroke="#ff0000" stroke-width="0.3">1.75</text>
<text x="519.6" y="315.6" font-family="'Liberation Sans','Noto Sans CJK SC',sans-serif" font-size="5" font-weight="bold" fill="#ff0000" text-anchor="start" textLength="25" lengthAdjust="spacingAndGlyphs" stroke="#ff0000" stroke-width="0.35">CORRIDOR</text>
<rect x="531.5" y="316.8" width="9.4" height="4.2" fill="none" stroke="#ffffff" stroke-width="0.9"/>
<text x="532.7" y="320.1" font-family="'Liberation Sans','Noto Sans CJK SC',sans-serif" font-size="3.99" font-weight="bold" fill="#ff0000" text-anchor="start" textLength="7" lengthAdjust="spacingAndGlyphs" stroke="#ff0000" stroke-width="0.55">2.70</text>
<line x1="537.1" y1="321" x2="537.1" y2="337.6" stroke="#ff0000" stroke-width="1"/>
<rect x="524.5" y="337.6" width="9.4" height="3.8" fill="none" stroke="#ffffff" stroke-width="0.9"/>
<text x="525.7" y="340.5" font-family="'Liberation Sans','Noto Sans CJK SC',sans-serif" font-size="3.61" font-weight="bold" fill="#ff0000" text-anchor="start" textLength="7" lengthAdjust="spacingAndGlyphs" stroke="#ff0000" stroke-width="0.55">3.07</text>
<text x="523.7" y="336.2" font-family="'Liberation Sans','Noto Sans CJK SC',sans-serif" font-size="2.6" font-weight="bold" fill="#ff0000" text-anchor="start" textLength="11" lengthAdjust="spacingAndGlyphs" stroke="#ff0000" stroke-width="0.6">TOILET</text>
<text x="527.6" y="333.6" font-family="'Liberation Sans','Noto Sans CJK SC',sans-serif" font-size="2.2" font-weight="bold" fill="#ff0000" text-anchor="start" textLength="3.2" lengthAdjust="spacingAndGlyphs" stroke="#ff0000" stroke-width="0.5">5</text>
<line x1="528.7" y1="341.4" x2="528.7" y2="346" stroke="#ff0000" stroke-width="1"/>
<line x1="519" y1="330.6" x2="519" y2="339.4" stroke="#ff0000" stroke-width="2"/>
<rect x="520.2" y="343.6" width="13.6" height="27" fill="none" stroke="#ffff00" stroke-width="1.7"/>
<circle cx="527.8" cy="349.6" r="3.3" fill="none" stroke="#8c8c8c" stroke-width="0.9"/>
<line x1="523.3" y1="349.6" x2="532.3" y2="349.6" stroke="#8c8c8c" stroke-width="0.8"/>
<rect x="525.8" y="349.6" width="4" height="2.2" fill="#8c8c8c"/>
<circle cx="558.4" cy="344" r="3.3" fill="none" stroke="#8c8c8c" stroke-width="0.9"/>
<line x1="553.9" y1="344" x2="562.9" y2="344" stroke="#8c8c8c" stroke-width="0.8"/>
<rect x="556.4" y="344" width="4" height="2.2" fill="#8c8c8c"/>
<line x1="543.6" y1="344" x2="554" y2="344" stroke="#8c8c8c" stroke-width="0.9"/>
<path d="M524.6,357 h6 v2 h-6 v2 h6 v2 h-6 M527.6,356 v9" fill="none" stroke="#ffffff" stroke-width="0.9"/>
<circle cx="525.6" cy="355.4" r="1.2" fill="#00ffff" stroke="#00ffff" stroke-width="0.9"/>
<rect x="504" y="338" width="4" height="3" fill="#8c8c8c"/>
<rect x="510" y="336" width="3" height="6" fill="#8c8c8c"/>
<rect x="506" y="343" width="8" height="3" fill="#8c8c8c"/>
<rect x="512" y="342" width="4" height="5" fill="#8c8c8c"/>
<rect x="503" y="348" width="5" height="5" fill="#8c8c8c"/>
<rect x="509.6" y="349" width="6" height="6" fill="#8c8c8c"/>
<rect x="514" y="352" width="3" height="7" fill="#8c8c8c"/>
<rect x="506" y="355" width="6" height="3" fill="#8c8c8c"/>
<rect x="518" y="360" width="4" height="6" fill="#8c8c8c"/>
<path d="M514,337 v12 M516,340 v8" fill="none" stroke="#ff0000" stroke-width="1"/>
<text x="482.3" y="342.2" font-family="'Liberation Sans',sans-serif" font-size="3.59" font-weight="bold" fill="#ff0000" stroke="#ff0000" stroke-width="0.9" textLength="8.4" lengthAdjust="spacingAndGlyphs">SHAFT</text>
<text x="478.6" y="350" font-family="'Liberation Sans',sans-serif" font-size="2.21" font-weight="bold" fill="#ff0000" stroke="#ff0000" stroke-width="0.76" textLength="10" lengthAdjust="spacingAndGlyphs">A-12</text>
<rect x="493.4" y="351.6" width="9.4" height="3.6" fill="none" stroke="#ffffff" stroke-width="0.9"/>
<text x="494.6" y="354.3" font-family="'Liberation Sans','Noto Sans CJK SC',sans-serif" font-size="3.42" font-weight="bold" fill="#ff0000" text-anchor="start" textLength="7" lengthAdjust="spacingAndGlyphs" stroke="#ff0000" stroke-width="0.55">4.44</text>
<text x="495.1" y="350.2" font-family="'Liberation Sans','Noto Sans CJK SC',sans-serif" font-size="2.6" font-weight="bold" fill="#ff0000" text-anchor="start" textLength="6" lengthAdjust="spacingAndGlyphs" stroke="#ff0000" stroke-width="0.6">PANTRY</text>
<text x="496.5" y="347.6" font-family="'Liberation Sans','Noto Sans CJK SC',sans-serif" font-size="2.2" font-weight="bold" fill="#ff0000" text-anchor="start" textLength="3.2" lengthAdjust="spacingAndGlyphs" stroke="#ff0000" stroke-width="0.5">6</text>
<rect x="484.4" y="343.6" width="5" height="3" fill="#8c8c8c"/>
<rect x="489" y="344" width="4" height="2.6" fill="#00ffff"/>
<polyline points="466,351 481,337.6" fill="none" stroke="#00ffff" stroke-width="1.4"/>
<polyline points="468,356 466.6,352" fill="none" stroke="#00ffff" stroke-width="1.3"/>
<path d="M463,350 V390 Q463,392.7 465.4,392.7 Q467.4,392.7 467.4,390 V350" fill="none" stroke="#ffff00" stroke-width="1"/>
<path d="M463,455 V418 Q463,415.5 465.4,415.5 Q467.4,415.5 467.4,418 V455" fill="none" stroke="#ffff00" stroke-width="1"/>
<path d="M468.4,385 q3,3 0,6 M468.4,414.6 q3,3 0,6" fill="none" stroke="#00ffff" stroke-width="1.1"/>
<path d="M460,376.5 H477.6 Q480.6,376.5 480.6,379.5 V426.5 Q480.6,429.5 477.6,429.5 H460" fill="none" stroke="#bf20ff" stroke-width="1.1" stroke-dasharray="1.4 1.6"/>
<line x1="480.6" y1="380" x2="480.6" y2="426" stroke="#ffffff" stroke-width="0.9" stroke-dasharray="0.9 5"/>
<path d="M483.4,381 l2.4,-3" fill="none" stroke="#ffffff" stroke-width="1"/>
<path d="M483,414 l2.6,3" fill="none" stroke="#ffffff" stroke-width="1"/>
<circle cx="492" cy="362.5" r="3.2" fill="none" stroke="#00ffff" stroke-width="1.7"/>
<rect x="490.8" y="361.1" width="2.6" height="2.4" fill="#ffffff"/>
<rect x="489" y="357.1" width="6.4" height="1.6" fill="#8c8c8c"/>
<circle cx="512" cy="363.5" r="3.2" fill="none" stroke="#00ffff" stroke-width="1.7"/>
<rect x="510.8" y="362.1" width="2.6" height="2.4" fill="#ffffff"/>
<rect x="509" y="358.1" width="6.4" height="1.6" fill="#8c8c8c"/>
<rect x="475" y="358.6" width="3" height="7" fill="#8c8c8c"/>
<rect x="478" y="364" width="9" height="2" fill="#8c8c8c"/>
<rect x="483" y="361.4" width="2.4" height="4" fill="#8c8c8c"/>
<rect x="496" y="364.4" width="10" height="1.4" fill="#8c8c8c"/>
<rect x="504" y="361" width="3" height="8" fill="#8c8c8c"/>
<rect x="499" y="368" width="2" height="4" fill="#8c8c8c"/>
<rect x="507" y="355" width="5" height="3" fill="#8c8c8c"/>
<rect x="516" y="350.4" width="9" height="3.4" fill="#8c8c8c"/>
<rect x="503.6" y="370" width="3" height="5" fill="#8c8c8c"/>
<line x1="477" y1="366.6" x2="518" y2="366.6" stroke="#8c8c8c" stroke-width="0.9"/>
<polyline points="506.6,368 506.6,375.4 513.4,375.4" fill="none" stroke="#8c8c8c" stroke-width="0.9"/>
<path d="M468,354.6 l4,-4 M470,358.4 l5,-5" fill="none" stroke="#00ffff" stroke-width="1.5"/>
<path d="M471,363 h5 v3" fill="none" stroke="#00ffff" stroke-width="1.5"/>
<circle cx="474" cy="356.4" r="1.4" fill="#ffffff" stroke="#ffffff" stroke-width="0.6"/>
<line x1="520.4" y1="350" x2="520.4" y2="371" stroke="#ffff00" stroke-width="1.7"/>
<line x1="533.8" y1="350" x2="533.8" y2="371" stroke="#ffff00" stroke-width="1.7"/>
<line x1="518" y1="372.3" x2="543.6" y2="372.3" stroke="#bf20ff" stroke-width="1.2" stroke-dasharray="1.6 1.2"/>
<line x1="503" y1="386.2" x2="528" y2="386.2" stroke="#8c8c8c" stroke-width="0.8"/>
<text x="501.8" y="384.2" font-family="'Liberation Sans',sans-serif" font-size="2.2" font-weight="bold" fill="#ff0000" stroke="#ff0000" stroke-width="0.64" textLength="6" lengthAdjust="spacingAndGlyphs">GLASS</text>
<text x="512" y="384.4" font-family="'Liberation Sans',sans-serif" font-size="2.2" font-weight="bold" fill="#ff0000" stroke="#ff0000" stroke-width="0.58" textLength="9" lengthAdjust="spacingAndGlyphs">WALL</text>
<path d="M508,384 l5,4 M511,388 l4,-4" fill="none" stroke="#ff0000" stroke-width="0.9"/>
<rect x="527" y="383" width="3.4" height="2.6" fill="#ffffff"/>
<rect x="518" y="387.2" width="4" height="2.2" fill="#ffffff"/>
<text x="491" y="390" font-family="'Liberation Sans','Noto Sans CJK SC',sans-serif" font-size="4.4" font-weight="bold" fill="#ff0000" text-anchor="start" textLength="8" lengthAdjust="spacingAndGlyphs" stroke="#ff0000" stroke-width="0.4">1.7</text>
<line x1="481.8" y1="390.6" x2="490" y2="390.6" stroke="#ff0000" stroke-width="1"/>
<text x="488.6" y="394.4" font-family="'Liberation Sans','Noto Sans CJK SC',sans-serif" font-size="5" font-weight="bold" fill="#ff0000" text-anchor="start" textLength="17.4" lengthAdjust="spacingAndGlyphs" stroke="#ff0000" stroke-width="0.6">LOBBY</text>
<text x="494.4" y="402.6" font-family="'Liberation Sans',sans-serif" font-size="2.21" font-weight="bold" fill="#ff0000" stroke="#ff0000" stroke-width="0.76" textLength="15.6" lengthAdjust="spacingAndGlyphs">DOOR WALL</text>
<text x="500" y="399.6" font-family="'Liberation Sans',sans-serif" font-size="2.2" font-weight="bold" fill="#ff0000" stroke="#ff0000" stroke-width="0.64" textLength="4.4" lengthAdjust="spacingAndGlyphs">FFL</text>
<rect x="496.2" y="404.4" width="10.2" height="3.4" fill="none" stroke="#ffffff" stroke-width="0.9"/>
<text x="497.4" y="406.9" font-family="'Liberation Sans','Noto Sans CJK SC',sans-serif" font-size="3.23" font-weight="bold" fill="#ff0000" text-anchor="start" textLength="7.8" lengthAdjust="spacingAndGlyphs" stroke="#ff0000" stroke-width="0.55">5.81</text>
<text x="497.1" y="420.6" font-family="'Liberation Sans','Noto Sans CJK SC',sans-serif" font-size="7" font-weight="bold" fill="#ff0000" text-anchor="start" textLength="11.8" lengthAdjust="spacingAndGlyphs" stroke="#ff0000" stroke-width="0.4">2.55</text>
<text x="519.4" y="400.2" font-family="'Liberation Sans',sans-serif" font-size="3.59" font-weight="bold" fill="#ff0000" stroke="#ff0000" stroke-width="0.9" textLength="9.4" lengthAdjust="spacingAndGlyphs">LOBBY</text>
<path d="M522,395.6 v2 M525,395.6 v2" fill="none" stroke="#ff0000" stroke-width="0.9"/>
<rect x="519.4" y="401.6" width="9.4" height="4" fill="none" stroke="#ffffff" stroke-width="0.9"/>
<text x="520.6" y="404.7" font-family="'Liberation Sans','Noto Sans CJK SC',sans-serif" font-size="3.8" font-weight="bold" fill="#ff0000" text-anchor="start" textLength="7" lengthAdjust="spacingAndGlyphs" stroke="#ff0000" stroke-width="0.55">6.18</text>
<line x1="529" y1="403.3" x2="540" y2="403.3" stroke="#ff0000" stroke-width="1"/>
<circle cx="488.3" cy="417.8" r="3.3" fill="none" stroke="#8c8c8c" stroke-width="0.9"/>
<line x1="483.8" y1="417.8" x2="492.8" y2="417.8" stroke="#8c8c8c" stroke-width="0.8"/>
<rect x="486.3" y="417.8" width="4" height="2.2" fill="#8c8c8c"/>
<line x1="488.3" y1="408" x2="488.3" y2="414" stroke="#c4c4c4" stroke-width="0.8"/>
<circle cx="292" cy="477.6" r="3.3" fill="none" stroke="#8c8c8c" stroke-width="0.9"/>
<line x1="287.5" y1="477.6" x2="296.5" y2="477.6" stroke="#8c8c8c" stroke-width="0.8"/>
<rect x="290" y="477.6" width="4" height="2.2" fill="#8c8c8c"/>
<line x1="279.4" y1="384.5" x2="283" y2="384.5" stroke="#8c8c8c" stroke-width="0.8"/>
<line x1="279.4" y1="358.8" x2="283" y2="358.8" stroke="#8c8c8c" stroke-width="0.8"/>
<text x="232.9" y="401.4" font-family="'Liberation Sans',sans-serif" font-size="3.31" font-weight="bold" fill="#ff0000" stroke="#ff0000" stroke-width="0.9" textLength="10.6" lengthAdjust="spacingAndGlyphs">TB-1</text>
<text x="235" y="397.2" font-family="'Liberation Sans',sans-serif" font-size="2.2" font-weight="bold" fill="#ff0000" stroke="#ff0000" stroke-width="0.58" textLength="4" lengthAdjust="spacingAndGlyphs">2.55</text>
<rect x="233" y="402.3" width="10.5" height="3.3" fill="none" stroke="#ffffff" stroke-width="0.9"/>
<text x="234.4" y="404.6" font-family="'Liberation Sans',sans-serif" font-size="2.2" font-weight="bold" fill="#ff0000" stroke="#ff0000" stroke-width="0.7" textLength="7.6" lengthAdjust="spacingAndGlyphs">STAIR</text>
<text x="256.3" y="401.8" font-family="'Liberation Sans','Noto Sans CJK SC',sans-serif" font-size="5.4" font-weight="bold" fill="#ff0000" text-anchor="start" textLength="13" lengthAdjust="spacingAndGlyphs" stroke="#ff0000" stroke-width="0.4">451</text>
<rect x="258" y="402.8" width="10.6" height="3.9" fill="none" stroke="#ffffff" stroke-width="0.9" rx="1.6"/>
<text x="259.6" y="405.4" font-family="'Liberation Sans',sans-serif" font-size="2.2" font-weight="bold" fill="#ff0000" stroke="#ff0000" stroke-width="0.7" textLength="7.4" lengthAdjust="spacingAndGlyphs">EL.3</text>
<line x1="265.7" y1="432" x2="311.4" y2="432" stroke="#ff0000" stroke-width="1.1"/>
<text x="263" y="436" font-family="'Liberation Sans',sans-serif" font-size="2.21" font-weight="bold" fill="#ff0000" stroke="#ff0000" stroke-width="0.76" textLength="19" lengthAdjust="spacingAndGlyphs">DUCT LOBBY</text>
<text x="269" y="438.8" font-family="'Liberation Sans',sans-serif" font-size="3.04" font-weight="bold" fill="#ff0000" stroke="#ff0000" stroke-width="0.9" textLength="7" lengthAdjust="spacingAndGlyphs">RM-2</text>
<text x="265.2" y="447.6" font-family="'Liberation Sans',sans-serif" font-size="3.59" font-weight="bold" fill="#ff0000" stroke="#ff0000" stroke-width="0.9" textLength="17" lengthAdjust="spacingAndGlyphs">1.75 SHAFT</text>
<rect x="271" y="442.6" width="3" height="2" fill="#ff0000"/>
<rect x="269" y="448.5" width="9.5" height="3.9" fill="none" stroke="#ffffff" stroke-width="0.9"/>
<text x="270.4" y="451.2" font-family="'Liberation Sans',sans-serif" font-size="2.2" font-weight="bold" fill="#ff0000" stroke="#ff0000" stroke-width="0.7" textLength="6.6" lengthAdjust="spacingAndGlyphs">ENTRY</text>
<line x1="280" y1="444.4" x2="305" y2="444.4" stroke="#ff0000" stroke-width="1"/>
<text x="275.8" y="466.4" font-family="'Liberation Sans',sans-serif" font-size="2.2" font-weight="bold" fill="#ff0000" stroke="#ff0000" stroke-width="0.7" textLength="8" lengthAdjust="spacingAndGlyphs">CORE</text>
<text x="276.6" y="469.6" font-family="'Liberation Sans',sans-serif" font-size="2.21" font-weight="bold" fill="#ff0000" stroke="#ff0000" stroke-width="0.76" textLength="9.6" lengthAdjust="spacingAndGlyphs">SHAFT</text>
<rect x="277" y="472.4" width="9.6" height="4" fill="none" stroke="#ffffff" stroke-width="0.9"/>
<text x="278.2" y="475.5" font-family="'Liberation Sans','Noto Sans CJK SC',sans-serif" font-size="3.8" font-weight="bold" fill="#ff0000" text-anchor="start" textLength="7.2" lengthAdjust="spacingAndGlyphs" stroke="#ff0000" stroke-width="0.55">7.55</text>
<rect x="301.4" y="499.6" width="10" height="3.8" fill="none" stroke="#ffffff" stroke-width="0.9"/>
<text x="302.6" y="502.5" font-family="'Liberation Sans','Noto Sans CJK SC',sans-serif" font-size="3.61" font-weight="bold" fill="#ff0000" text-anchor="start" textLength="7.6" lengthAdjust="spacingAndGlyphs" stroke="#ff0000" stroke-width="0.55">8.92</text>
<text x="303.4" y="498.2" font-family="'Liberation Sans','Noto Sans CJK SC',sans-serif" font-size="2.6" font-weight="bold" fill="#ff0000" text-anchor="start" textLength="6" lengthAdjust="spacingAndGlyphs" stroke="#ff0000" stroke-width="0.6">STAIR</text>
<text x="304.8" y="495.6" font-family="'Liberation Sans','Noto Sans CJK SC',sans-serif" font-size="2.2" font-weight="bold" fill="#ff0000" text-anchor="start" textLength="3.2" lengthAdjust="spacingAndGlyphs" stroke="#ff0000" stroke-width="0.5">3</text>
<line x1="311" y1="497" x2="322" y2="497" stroke="#ff0000" stroke-width="1"/>
<polyline points="330,504 352,504 352,497" fill="none" stroke="#ff0000" stroke-width="1"/>
<text x="330" y="509" font-family="'Liberation Sans',sans-serif" font-size="3.31" font-weight="bold" fill="#ff0000" stroke="#ff0000" stroke-width="0.9" textLength="18" lengthAdjust="spacingAndGlyphs">A-12 DOOR</text>
<text x="333" y="510.8" font-family="'Liberation Sans',sans-serif" font-size="2.2" font-weight="bold" fill="#ff0000" stroke="#ff0000" stroke-width="0.7" textLength="11" lengthAdjust="spacingAndGlyphs">GLASS</text>
<text x="387.5" y="506" font-family="'Liberation Sans',sans-serif" font-size="2.21" font-weight="bold" fill="#ff0000" stroke="#ff0000" stroke-width="0.76" textLength="18" lengthAdjust="spacingAndGlyphs">WALL ENTRY</text>
<text x="389" y="509.2" font-family="'Liberation Sans',sans-serif" font-size="3.04" font-weight="bold" fill="#ff0000" stroke="#ff0000" stroke-width="0.9" textLength="14" lengthAdjust="spacingAndGlyphs">DOOR WALL</text>
<rect x="390.6" y="510" width="9.6" height="4" fill="none" stroke="#ffffff" stroke-width="0.9"/>
<line x1="239" y1="528" x2="287.4" y2="528" stroke="#ff0000" stroke-width="1"/>
<text x="249" y="532.6" font-family="'Liberation Sans',sans-serif" font-size="3.59" font-weight="bold" fill="#ff0000" stroke="#ff0000" stroke-width="0.9" textLength="23.5" lengthAdjust="spacingAndGlyphs">FFL 2.55</text>
<text x="376" y="545.2" font-family="'Liberation Sans',sans-serif" font-size="2.21" font-weight="bold" fill="#ff0000" stroke="#ff0000" stroke-width="0.76" textLength="9" lengthAdjust="spacingAndGlyphs">LOBBY</text>
<rect x="379.4" y="540.8" width="2.6" height="1.6" fill="#ff0000"/>
<rect x="376.4" y="546.6" width="10.2" height="4" fill="none" stroke="#ffffff" stroke-width="0.9"/>
<text x="378" y="549.4" font-family="'Liberation Sans',sans-serif" font-size="2.21" font-weight="bold" fill="#ff0000" stroke="#ff0000" stroke-width="0.76" textLength="7" lengthAdjust="spacingAndGlyphs">TB-1</text>
<g transform="translate(-444.3 87.3)">
<line x1="957.2" y1="350.2" x2="957.2" y2="389" stroke="#00ffff" stroke-width="1.6"/>
<line x1="955.4" y1="350" x2="955.4" y2="389" stroke="#ffffff" stroke-width="0.9" stroke-dasharray="2 2.4"/>
<rect x="954.4" y="351.8" width="5" height="5.6" fill="none" stroke="#00ffff" stroke-width="1.2"/>
<rect x="954.4" y="370.6" width="5" height="5" fill="none" stroke="#00ffff" stroke-width="1.2"/>
<path d="M954.6,359 q3.6,1.6 0,3.6 q-3,2 0.6,4 q3,1.4 -0.4,3.6" fill="none" stroke="#ff0000" stroke-width="1.3"/>
<polyline points="957.2,389 937.9,409.7 955,423.1 949.6,429.2" fill="none" stroke="#00ffff" stroke-width="1.5"/>
<polyline points="956,388 939.6,405.6" fill="none" stroke="#ffffff" stroke-width="0.9"/>
<polyline points="940.6,412.4 951,421.6 947.6,425.6" fill="none" stroke="#ffffff" stroke-width="0.9" stroke-dasharray="1.2 0.9"/>
<polyline points="942.6,410.6 953,420 949,424.6" fill="none" stroke="#ffffff" stroke-width="0.9"/>
<polyline points="934,414.4 902,444" fill="none" stroke="#ffffff" stroke-width="1.2"/>
<polyline points="932.4,413.2 900.6,442.4" fill="none" stroke="#ffffff" stroke-width="0.9"/>
<polyline points="935.6,416 904,445.6" fill="none" stroke="#00ffff" stroke-width="1.7"/>
<polyline points="933.2,414 901.4,443.4" fill="none" stroke="#ffffff" stroke-width="1.6" stroke-dasharray="1 1"/>
<line x1="862.7" y1="443.9" x2="902" y2="443.9" stroke="#00ffff" stroke-width="1.6"/>
<line x1="862.7" y1="442.4" x2="901" y2="442.4" stroke="#ffffff" stroke-width="0.9"/>
<line x1="910" y1="435.4" x2="914" y2="439.5" stroke="#ffffff" stroke-width="1"/>
<polyline points="933.4,452.8 927.5,446.9 941.6,432 951.3,442.4 980.2,442.4" fill="none" stroke="#00ffff" stroke-width="1.6"/>
<polyline points="941.6,434.6 931,446.4" fill="none" stroke="#00ffff" stroke-width="0.9"/>
<line x1="949.8" y1="442.4" x2="949.8" y2="453.5" stroke="#00ffff" stroke-width="1.6"/>
<line x1="945" y1="440.5" x2="948" y2="443.4" stroke="#ffffff" stroke-width="1.2"/>
<line x1="936" y1="428.6" x2="941" y2="433.6" stroke="#ffffff" stroke-width="1"/>
<polyline points="987.7,406.7 963.2,430.5" fill="none" stroke="#00ffff" stroke-width="1.6"/>
<polyline points="966,431.6 969.4,428" fill="none" stroke="#00ffff" stroke-width="1.2"/>
<circle cx="981" cy="423" r="3.4" fill="none" stroke="#00ffff" stroke-width="1"/>
<polygon points="978.4,423 981,420.6 983.6,423 981,425.6" fill="#ffffff" stroke="#ffffff" stroke-width="0.8"/>
<line x1="979.5" y1="423" x2="982.5" y2="423" stroke="#000" stroke-width="0.5"/>
<line x1="981" y1="421.5" x2="981" y2="424.5" stroke="#000" stroke-width="0.5"/>
<path d="M969.5,424 q3.4,-3 6.6,0 q-0.6,2.6 -3.4,2.6 q-2.6,0 -3.2,-2.6z" fill="none" stroke="#ffffff" stroke-width="0.9"/>
<path d="M968.4,436 q3.4,-3 6.6,0 q-0.6,2.6 -3.4,2.6 q-2.6,0 -3.2,-2.6z" fill="none" stroke="#ffffff" stroke-width="0.9"/>
<line x1="970.6" y1="427" x2="970.6" y2="434" stroke="#ff0000" stroke-width="1"/>
<line x1="962" y1="440.4" x2="970" y2="437.6" stroke="#ff0000" stroke-width="1"/>
<line x1="983.2" y1="414.5" x2="1002.5" y2="414.5" stroke="#ff0000" stroke-width="1"/>
<rect x="1002.6" y="412.5" width="10.2" height="4" fill="none" stroke="#ffffff" stroke-width="0.9"/>
<text x="1003.8" y="415.6" font-family="'Liberation Sans','Noto Sans CJK SC',sans-serif" font-size="3.8" font-weight="bold" fill="#ff0000" text-anchor="start" textLength="7.8" lengthAdjust="spacingAndGlyphs" stroke="#ff0000" stroke-width="0.55">9.29</text>
<text x="1003.2" y="411.1" font-family="'Liberation Sans','Noto Sans CJK SC',sans-serif" font-size="2.6" font-weight="bold" fill="#ff0000" text-anchor="start" textLength="9" lengthAdjust="spacingAndGlyphs" stroke="#ff0000" stroke-width="0.6">ELEV</text>
<text x="1006.1" y="408.5" font-family="'Liberation Sans','Noto Sans CJK SC',sans-serif" font-size="2.2" font-weight="bold" fill="#ff0000" text-anchor="start" textLength="3.2" lengthAdjust="spacingAndGlyphs" stroke="#ff0000" stroke-width="0.5">4</text>
<line x1="975.8" y1="429" x2="1002.5" y2="429" stroke="#ff0000" stroke-width="1"/>
<rect x="1002.6" y="427" width="10.2" height="4" fill="none" stroke="#ffffff" stroke-width="0.9"/>
<text x="1003.8" y="430.1" font-family="'Liberation Sans','Noto Sans CJK SC',sans-serif" font-size="3.8" font-weight="bold" fill="#ff0000" text-anchor="start" textLength="7.8" lengthAdjust="spacingAndGlyphs" stroke="#ff0000" stroke-width="0.55">1.66</text>
<text x="1003.2" y="425.6" font-family="'Liberation Sans','Noto Sans CJK SC',sans-serif" font-size="2.6" font-weight="bold" fill="#ff0000" text-anchor="start" textLength="9" lengthAdjust="spacingAndGlyphs" stroke="#ff0000" stroke-width="0.6">SHAFT</text>
<text x="1006.1" y="423" font-family="'Liberation Sans','Noto Sans CJK SC',sans-serif" font-size="2.2" font-weight="bold" fill="#ff0000" text-anchor="start" textLength="3.2" lengthAdjust="spacingAndGlyphs" stroke="#ff0000" stroke-width="0.5">5</text>
<line x1="972.8" y1="440.5" x2="1002.5" y2="440.5" stroke="#ff0000" stroke-width="1"/>
<rect x="1002.6" y="438.5" width="10.2" height="4" fill="none" stroke="#ffffff" stroke-width="0.9"/>
<text x="1003.8" y="441.6" font-family="'Liberation Sans','Noto Sans CJK SC',sans-serif" font-size="3.8" font-weight="bold" fill="#ff0000" text-anchor="start" textLength="7.8" lengthAdjust="spacingAndGlyphs" stroke="#ff0000" stroke-width="0.55">2.03</text>
<text x="1003.2" y="437.1" font-family="'Liberation Sans','Noto Sans CJK SC',sans-serif" font-size="2.6" font-weight="bold" fill="#ff0000" text-anchor="start" textLength="9" lengthAdjust="spacingAndGlyphs" stroke="#ff0000" stroke-width="0.6">ROOM</text>
<text x="1006.1" y="434.5" font-family="'Liberation Sans','Noto Sans CJK SC',sans-serif" font-size="2.2" font-weight="bold" fill="#ff0000" text-anchor="start" textLength="3.2" lengthAdjust="spacingAndGlyphs" stroke="#ff0000" stroke-width="0.5">6</text>
<polyline points="937.8,467.7 937.8,461 950.4,461 950.4,467.7" fill="none" stroke="#00ffff" stroke-width="1.5"/>
<line x1="940" y1="462.6" x2="948" y2="462.6" stroke="#ffffff" stroke-width="0.8" stroke-dasharray="1.2 1"/>
<circle cx="932.6" cy="469.9" r="3.4" fill="none" stroke="#00ffff" stroke-width="1"/>
<polygon points="930,469.9 932.6,467.5 935.2,469.9 932.6,472.5" fill="#ffffff" stroke="#ffffff" stroke-width="0.8"/>
<line x1="931.1" y1="469.9" x2="934.1" y2="469.9" stroke="#000" stroke-width="0.5"/>
<line x1="932.6" y1="468.4" x2="932.6" y2="471.4" stroke="#000" stroke-width="0.5"/>
<polyline points="928.4,475 928.4,468.6 930,467" fill="none" stroke="#00ffff" stroke-width="1.5"/>
<path d="M930,463.4 h14 M937,461 v6" fill="none" stroke="#ff0000" stroke-width="0.9"/>
<rect x="868" y="437.4" width="10.6" height="4.2" fill="none" stroke="#ffffff" stroke-width="0.9"/>
<text x="869.2" y="440.7" font-family="'Liberation Sans','Noto Sans CJK SC',sans-serif" font-size="3.99" font-weight="bold" fill="#ff0000" text-anchor="start" textLength="8.2" lengthAdjust="spacingAndGlyphs" stroke="#ff0000" stroke-width="0.55">3.40</text>
<text x="868.3" y="436" font-family="'Liberation Sans','Noto Sans CJK SC',sans-serif" font-size="2.6" font-weight="bold" fill="#ff0000" text-anchor="start" textLength="10" lengthAdjust="spacingAndGlyphs" stroke="#ff0000" stroke-width="0.6">STORE</text>
<text x="871.7" y="433.4" font-family="'Liberation Sans','Noto Sans CJK SC',sans-serif" font-size="2.2" font-weight="bold" fill="#ff0000" text-anchor="start" textLength="3.2" lengthAdjust="spacingAndGlyphs" stroke="#ff0000" stroke-width="0.5">7</text>
<rect x="934" y="447.6" width="9.8" height="4.2" fill="none" stroke="#ffffff" stroke-width="0.9"/>
<text x="935.2" y="450.9" font-family="'Liberation Sans','Noto Sans CJK SC',sans-serif" font-size="3.99" font-weight="bold" fill="#ff0000" text-anchor="start" textLength="7.4" lengthAdjust="spacingAndGlyphs" stroke="#ff0000" stroke-width="0.55">4.77</text>
<text x="931.9" y="446.2" font-family="'Liberation Sans','Noto Sans CJK SC',sans-serif" font-size="2.6" font-weight="bold" fill="#ff0000" text-anchor="start" textLength="14" lengthAdjust="spacingAndGlyphs" stroke="#ff0000" stroke-width="0.6">DUCT</text>
<text x="937.3" y="443.6" font-family="'Liberation Sans','Noto Sans CJK SC',sans-serif" font-size="2.2" font-weight="bold" fill="#ff0000" text-anchor="start" textLength="3.2" lengthAdjust="spacingAndGlyphs" stroke="#ff0000" stroke-width="0.5">1</text>
<rect x="868" y="458" width="10.4" height="4.2" fill="none" stroke="#ffffff" stroke-width="0.9"/>
<text x="869.2" y="461.3" font-family="'Liberation Sans','Noto Sans CJK SC',sans-serif" font-size="3.99" font-weight="bold" fill="#ff0000" text-anchor="start" textLength="8" lengthAdjust="spacingAndGlyphs" stroke="#ff0000" stroke-width="0.55">5.14</text>
<text x="867.2" y="456.6" font-family="'Liberation Sans','Noto Sans CJK SC',sans-serif" font-size="2.6" font-weight="bold" fill="#ff0000" text-anchor="start" textLength="12" lengthAdjust="spacingAndGlyphs" stroke="#ff0000" stroke-width="0.6">ENTRY</text>
<text x="871.6" y="454" font-family="'Liberation Sans','Noto Sans CJK SC',sans-serif" font-size="2.2" font-weight="bold" fill="#ff0000" text-anchor="start" textLength="3.2" lengthAdjust="spacingAndGlyphs" stroke="#ff0000" stroke-width="0.5">2</text>
<rect x="896.9" y="463.2" width="10.4" height="4.2" fill="none" stroke="#ffffff" stroke-width="0.9"/>
<text x="898.1" y="466.5" font-family="'Liberation Sans','Noto Sans CJK SC',sans-serif" font-size="3.99" font-weight="bold" fill="#ff0000" text-anchor="start" textLength="8" lengthAdjust="spacingAndGlyphs" stroke="#ff0000" stroke-width="0.55">6.51</text>
<text x="893.1" y="461.8" font-family="'Liberation Sans','Noto Sans CJK SC',sans-serif" font-size="2.6" font-weight="bold" fill="#ff0000" text-anchor="start" textLength="18" lengthAdjust="spacingAndGlyphs" stroke="#ff0000" stroke-width="0.6">OFFICE</text>
<text x="900.5" y="459.2" font-family="'Liberation Sans','Noto Sans CJK SC',sans-serif" font-size="2.2" font-weight="bold" fill="#ff0000" text-anchor="start" textLength="3.2" lengthAdjust="spacingAndGlyphs" stroke="#ff0000" stroke-width="0.5">3</text>
<rect x="882" y="470.6" width="10.4" height="4.2" fill="none" stroke="#ffffff" stroke-width="0.9"/>
<text x="883.2" y="473.9" font-family="'Liberation Sans','Noto Sans CJK SC',sans-serif" font-size="3.99" font-weight="bold" fill="#ff0000" text-anchor="start" textLength="8" lengthAdjust="spacingAndGlyphs" stroke="#ff0000" stroke-width="0.55">7.88</text>
<text x="884.7" y="469.2" font-family="'Liberation Sans','Noto Sans CJK SC',sans-serif" font-size="2.6" font-weight="bold" fill="#ff0000" text-anchor="start" textLength="5" lengthAdjust="spacingAndGlyphs" stroke="#ff0000" stroke-width="0.6">SECURITY</text>
<text x="885.6" y="466.6" font-family="'Liberation Sans','Noto Sans CJK SC',sans-serif" font-size="2.2" font-weight="bold" fill="#ff0000" text-anchor="start" textLength="3.2" lengthAdjust="spacingAndGlyphs" stroke="#ff0000" stroke-width="0.5">4</text>
<rect x="916.2" y="464.7" width="10.4" height="4.2" fill="none" stroke="#ffffff" stroke-width="0.9"/>
<text x="917.4" y="468" font-family="'Liberation Sans','Noto Sans CJK SC',sans-serif" font-size="3.99" font-weight="bold" fill="#ff0000" text-anchor="start" textLength="8" lengthAdjust="spacingAndGlyphs" stroke="#ff0000" stroke-width="0.55">8.25</text>
<text x="916.9" y="463.3" font-family="'Liberation Sans','Noto Sans CJK SC',sans-serif" font-size="2.6" font-weight="bold" fill="#ff0000" text-anchor="start" textLength="9" lengthAdjust="spacingAndGlyphs" stroke="#ff0000" stroke-width="0.6">TOILET</text>
<text x="919.8" y="460.7" font-family="'Liberation Sans','Noto Sans CJK SC',sans-serif" font-size="2.2" font-weight="bold" fill="#ff0000" text-anchor="start" textLength="3.2" lengthAdjust="spacingAndGlyphs" stroke="#ff0000" stroke-width="0.5">5</text>
<rect x="960.9" y="459.5" width="11" height="4.2" fill="none" stroke="#ffffff" stroke-width="0.9"/>
<text x="962.1" y="462.8" font-family="'Liberation Sans','Noto Sans CJK SC',sans-serif" font-size="3.99" font-weight="bold" fill="#ff0000" text-anchor="start" textLength="8.6" lengthAdjust="spacingAndGlyphs" stroke="#ff0000" stroke-width="0.55">9.62</text>
<text x="958.9" y="458.1" font-family="'Liberation Sans','Noto Sans CJK SC',sans-serif" font-size="2.6" font-weight="bold" fill="#ff0000" text-anchor="start" textLength="15" lengthAdjust="spacingAndGlyphs" stroke="#ff0000" stroke-width="0.6">PANTRY</text>
<text x="964.8" y="455.5" font-family="'Liberation Sans','Noto Sans CJK SC',sans-serif" font-size="2.2" font-weight="bold" fill="#ff0000" text-anchor="start" textLength="3.2" lengthAdjust="spacingAndGlyphs" stroke="#ff0000" stroke-width="0.5">6</text>
<rect x="966.9" y="372.5" width="11" height="4.2" fill="none" stroke="#ffffff" stroke-width="0.9"/>
<text x="968.1" y="375.8" font-family="'Liberation Sans','Noto Sans CJK SC',sans-serif" font-size="3.99" font-weight="bold" fill="#ff0000" text-anchor="start" textLength="8.6" lengthAdjust="spacingAndGlyphs" stroke="#ff0000" stroke-width="0.55">1.99</text>
<text x="965.9" y="371.1" font-family="'Liberation Sans','Noto Sans CJK SC',sans-serif" font-size="2.6" font-weight="bold" fill="#ff0000" text-anchor="start" textLength="13" lengthAdjust="spacingAndGlyphs" stroke="#ff0000" stroke-width="0.6">RISER</text>
<text x="970.8" y="368.5" font-family="'Liberation Sans','Noto Sans CJK SC',sans-serif" font-size="2.2" font-weight="bold" fill="#ff0000" text-anchor="start" textLength="3.2" lengthAdjust="spacingAndGlyphs" stroke="#ff0000" stroke-width="0.5">7</text>
<rect x="940" y="343.6" width="9.6" height="4.6" fill="none" stroke="#ffffff" stroke-width="0.9"/>
<text x="941.2" y="347.3" font-family="'Liberation Sans','Noto Sans CJK SC',sans-serif" font-size="4.37" font-weight="bold" fill="#ff0000" text-anchor="start" textLength="7.2" lengthAdjust="spacingAndGlyphs" stroke="#ff0000" stroke-width="0.55">2.36</text>
<text x="941.3" y="342.2" font-family="'Liberation Sans','Noto Sans CJK SC',sans-serif" font-size="2.6" font-weight="bold" fill="#ff0000" text-anchor="start" textLength="7" lengthAdjust="spacingAndGlyphs" stroke="#ff0000" stroke-width="0.6">LOBBY</text>
<text x="943.2" y="339.6" font-family="'Liberation Sans','Noto Sans CJK SC',sans-serif" font-size="2.2" font-weight="bold" fill="#ff0000" text-anchor="start" textLength="3.2" lengthAdjust="spacingAndGlyphs" stroke="#ff0000" stroke-width="0.5">1</text>
<text x="941.4" y="347.6" font-family="'Liberation Sans',sans-serif" font-size="4.14" font-weight="bold" fill="#ff0000" stroke="#ff0000" stroke-width="0.9" textLength="7" lengthAdjust="spacingAndGlyphs">2.55</text>
<rect x="931.2" y="352.4" width="9.6" height="5" fill="none" stroke="#00ffff" stroke-width="1.2"/>
<rect x="933" y="354" width="6" height="1.8" fill="#00ffff"/>
<text x="913" y="442.2" font-family="'Liberation Sans','Noto Sans CJK SC',sans-serif" font-size="4.4" font-weight="bold" fill="#ff0000" text-anchor="start" textLength="11" lengthAdjust="spacingAndGlyphs" stroke="#ff0000" stroke-width="0.45">ROOM</text>
<text x="893" y="457.2" font-family="'Liberation Sans',sans-serif" font-size="2.21" font-weight="bold" fill="#ff0000" stroke="#ff0000" stroke-width="0.76" textLength="18" lengthAdjust="spacingAndGlyphs">STAIR RM-2</text>
<text x="897" y="461" font-family="'Liberation Sans',sans-serif" font-size="3.59" font-weight="bold" fill="#ff0000" stroke="#ff0000" stroke-width="0.9" textLength="11" lengthAdjust="spacingAndGlyphs">EL.3</text>
<text x="866" y="452.7" font-family="'Liberation Sans',sans-serif" font-size="2.2" font-weight="bold" fill="#ff0000" stroke="#ff0000" stroke-width="0.67" textLength="12" lengthAdjust="spacingAndGlyphs">DUCT</text>
<text x="868" y="433.7" font-family="'Liberation Sans',sans-serif" font-size="2.2" font-weight="bold" fill="#ff0000" stroke="#ff0000" stroke-width="0.67" textLength="9" lengthAdjust="spacingAndGlyphs">RM-2</text>
<path d="M871,430 l3,3" fill="none" stroke="#ff0000" stroke-width="1"/>
<text x="940" y="418.9" font-family="'Liberation Sans',sans-serif" font-size="2.2" font-weight="bold" fill="#ff0000" stroke="#ff0000" stroke-width="0.67" textLength="8" lengthAdjust="spacingAndGlyphs">1.75</text>
<path d="M936,419 l4,-4" fill="none" stroke="#ff0000" stroke-width="1"/>
<path d="M944,424 q-4,2 -6.6,4.6" fill="none" stroke="#ff0000" stroke-width="1"/>
<path d="M940.8,388 l5,3.4 l-1.6,5 l2,3" fill="none" stroke="#ff0000" stroke-width="1"/>
<rect x="926" y="373" width="1.2" height="5" fill="#ff0000"/>
<path d="M928.4,377.6 l1.4,-2" fill="none" stroke="#ff0000" stroke-width="0.9"/>
<path d="M932,371 h8 v12 l-5,4 M934.4,374 h4 v5 h-4" fill="none" stroke="#00ffff" stroke-width="1.4"/>
<path d="M935,375.6 h3.4 v4.4 l-3.4,3.2" fill="none" stroke="#ffffff" stroke-width="1"/>
<path d="M936,384.6 l3,-2.2 l1.6,2 l-3.4,3 z" fill="#ffffff" stroke="#ffffff" stroke-width="0.8"/>
<line x1="930.6" y1="389.4" x2="934" y2="386.4" stroke="#00ff00" stroke-width="1.5"/>
<polyline points="862.7,443.9 862.7,453.5 858,453.5" fill="none" stroke="#00ff00" stroke-width="1.5"/>
<path d="M844.2,450 V454 Q844.2,456.5 847,456.5 H905" fill="none" stroke="#bf20ff" stroke-width="1" stroke-dasharray="2.4 1.2 0.9 1.2"/>
<polyline points="858,464 879.8,464 879.8,477" fill="none" stroke="#00ffff" stroke-width="1.6"/>
<line x1="885.8" y1="444" x2="885.8" y2="454.3" stroke="#00ffff" stroke-width="1.5"/>
<path d="M871.6,444.6 q1,5 6,5.4" fill="none" stroke="#ff0000" stroke-width="1.1"/>
<path d="M873,463 q1.6,6.4 6,6" fill="none" stroke="#ff0000" stroke-width="1.1"/>
<text x="861.6" y="467.2" font-family="'Liberation Sans',sans-serif" font-size="2.21" font-weight="bold" fill="#ff0000" stroke="#ff0000" stroke-width="0.76" textLength="8" lengthAdjust="spacingAndGlyphs">ENTRY</text>
<text x="862.4" y="469.8" font-family="'Liberation Sans',sans-serif" font-size="2.2" font-weight="bold" fill="#ff0000" stroke="#ff0000" stroke-width="0.7" textLength="5" lengthAdjust="spacingAndGlyphs">CORE</text>
<path d="M866,470 l6,3.4 h7" fill="none" stroke="#ff0000" stroke-width="1"/>
<text x="905" y="454" font-family="'Liberation Sans',sans-serif" font-size="2.2" font-weight="bold" fill="#ff0000" stroke="#ff0000" stroke-width="0.7" textLength="6" lengthAdjust="spacingAndGlyphs">SHAFT</text>
</g>
<rect x="472" y="433" width="6" height="1.4" fill="#8c8c8c"/>
<rect x="469" y="436" width="10" height="1.2" fill="#8c8c8c"/>
<rect x="474" y="441" width="5" height="4" fill="#8c8c8c"/>
<rect x="480" y="439" width="2" height="6" fill="#8c8c8c"/>
<rect x="486" y="441" width="4" height="4" fill="#8c8c8c"/>
<rect x="493" y="445" width="5" height="2" fill="#8c8c8c"/>
<rect x="504" y="437" width="3" height="3" fill="#8c8c8c"/>
<rect x="500" y="440.6" width="9" height="1.2" fill="#8c8c8c"/>
<rect x="506" y="444" width="3" height="5" fill="#8c8c8c"/>
<rect x="512" y="441" width="3" height="10" fill="#8c8c8c"/>
<rect x="508" y="452" width="6" height="3" fill="#8c8c8c"/>
<rect x="510" y="458" width="4" height="3" fill="#8c8c8c"/>
<rect x="503" y="462" width="4" height="5" fill="#8c8c8c"/>
<rect x="509" y="466" width="6" height="4" fill="#8c8c8c"/>
<rect x="513" y="471" width="3" height="6" fill="#8c8c8c"/>
<rect x="506" y="474" width="5" height="4" fill="#8c8c8c"/>
<rect x="516" y="477" width="4" height="5" fill="#8c8c8c"/>
<rect x="498" y="470" width="3" height="4" fill="#8c8c8c"/>
<rect x="476" y="448" width="4" height="5" fill="#8c8c8c"/>
<rect x="478" y="456" width="5" height="4" fill="#8c8c8c"/>
<rect x="470" y="452" width="4" height="3" fill="#8c8c8c"/>
<rect x="482" y="468" width="5" height="4" fill="#8c8c8c"/>
<rect x="474" y="476" width="6" height="3" fill="#8c8c8c"/>
<rect x="486" y="478" width="4" height="3" fill="#8c8c8c"/>
<rect x="490" y="484" width="5" height="4" fill="#8c8c8c"/>
<rect x="496" y="489" width="6" height="3" fill="#8c8c8c"/>
<rect x="503" y="494" width="4" height="4" fill="#8c8c8c"/>
<rect x="480" y="487" width="3" height="5" fill="#8c8c8c"/>
<rect x="514" y="484" width="6" height="4" fill="#8c8c8c"/>
<rect x="522" y="488" width="7" height="5" fill="#8c8c8c"/>
<rect x="516" y="494" width="5" height="3" fill="#8c8c8c"/>
<rect x="486" y="497" width="6" height="4" fill="#8c8c8c"/>
<rect x="470" y="500" width="3" height="6" fill="#8c8c8c"/>
<rect x="476" y="504" width="5" height="3" fill="#8c8c8c"/>
<rect x="506" y="504" width="6" height="4" fill="#8c8c8c"/>
<rect x="514" y="509" width="8" height="5" fill="#8c8c8c"/>
<rect x="524" y="503" width="4" height="4" fill="#8c8c8c"/>
<rect x="498" y="512" width="6" height="3" fill="#8c8c8c"/>
<rect x="420" y="503" width="4" height="8" fill="#8c8c8c"/>
<rect x="416" y="512" width="10" height="2" fill="#8c8c8c"/>
<rect x="412" y="517" width="3" height="8" fill="#8c8c8c"/>
<rect x="438" y="518" width="3" height="6" fill="#8c8c8c"/>
<rect x="444" y="530" width="3" height="8" fill="#8c8c8c"/>
<rect x="418" y="534" width="8" height="3" fill="#8c8c8c"/>
<rect x="430" y="548" width="3" height="7" fill="#8c8c8c"/>
<rect x="436" y="556" width="3" height="6" fill="#8c8c8c"/>
<rect x="446" y="540" width="5" height="3" fill="#8c8c8c"/>
<rect x="410" y="545" width="10" height="1.4" fill="#8c8c8c"/>
<rect x="482" y="548" width="4" height="8" fill="#8c8c8c"/>
<rect x="490" y="552" width="6" height="4" fill="#8c8c8c"/>
<rect x="486" y="560" width="10" height="3" fill="#8c8c8c"/>
<rect x="520" y="516" width="6" height="5" fill="#8c8c8c"/>
<rect x="528" y="522" width="4" height="4" fill="#8c8c8c"/>
<rect x="534" y="512" width="5" height="3" fill="#8c8c8c"/>
<rect x="508" y="520" width="7" height="3" fill="#8c8c8c"/>
<rect x="502" y="526" width="4" height="5" fill="#8c8c8c"/>
<circle cx="492.6" cy="451.6" r="3.2" fill="none" stroke="#00ffff" stroke-width="1.7"/>
<rect x="491.4" y="450.2" width="2.6" height="2.4" fill="#ffffff"/>
<circle cx="512.4" cy="441" r="3.2" fill="none" stroke="#00ffff" stroke-width="1.7"/>
<rect x="511.2" y="439.6" width="2.6" height="2.4" fill="#ffffff"/>
<circle cx="465" cy="443" r="1.8" fill="#ffffff" stroke="#ffffff" stroke-width="0.6"/>
<circle cx="495.6" cy="458" r="1.8" fill="#ffffff" stroke="#ffffff" stroke-width="0.6"/>
<circle cx="493" cy="465" r="1.8" fill="#ffffff" stroke="#ffffff" stroke-width="0.6"/>
<circle cx="509" cy="465" r="1.8" fill="#ffffff" stroke="#ffffff" stroke-width="0.6"/>
<circle cx="514.6" cy="477" r="1.8" fill="#ffffff" stroke="#ffffff" stroke-width="0.6"/>
<circle cx="511.6" cy="484" r="1.8" fill="#ffffff" stroke="#ffffff" stroke-width="0.6"/>
<circle cx="541.6" cy="476" r="1.8" fill="#ffffff" stroke="#ffffff" stroke-width="0.6"/>
<circle cx="482" cy="498" r="1.8" fill="#ffffff" stroke="#ffffff" stroke-width="0.6"/>
<circle cx="487" cy="505" r="1.8" fill="#ffffff" stroke="#ffffff" stroke-width="0.6"/>
<circle cx="429" cy="508" r="1.8" fill="#ffffff" stroke="#ffffff" stroke-width="0.6"/>
<circle cx="445.6" cy="509" r="1.8" fill="#ffffff" stroke="#ffffff" stroke-width="0.6"/>
<circle cx="450.4" cy="534" r="1.8" fill="#ffffff" stroke="#ffffff" stroke-width="0.6"/>
<circle cx="485" cy="541" r="1.8" fill="#ffffff" stroke="#ffffff" stroke-width="0.6"/>
<circle cx="514" cy="533" r="1.8" fill="#ffffff" stroke="#ffffff" stroke-width="0.6"/>
<circle cx="529" cy="533" r="1.8" fill="#ffffff" stroke="#ffffff" stroke-width="0.6"/>
<circle cx="498" cy="556" r="1.8" fill="#ffffff" stroke="#ffffff" stroke-width="0.6"/>
<circle cx="417" cy="554.6" r="1.8" fill="#ffffff" stroke="#ffffff" stroke-width="0.6"/>
<circle cx="423" cy="554.6" r="1.8" fill="#ffffff" stroke="#ffffff" stroke-width="0.6"/>
<polyline points="469,433 473,437 473,446 467,452" fill="none" stroke="#00ffff" stroke-width="1.3"/>
<polyline points="507,446 514,440.6 516,447 510,452" fill="none" stroke="#00ffff" stroke-width="1.4"/>
<polyline points="510,459 516,455 517,465 513,470 517,478 511,486" fill="none" stroke="#00ffff" stroke-width="1.4"/>
<polyline points="497,459 497,472 492,477 486,472.6" fill="none" stroke="#00ffff" stroke-width="1.4"/>
<polyline points="546,487 540,494 540,500" fill="none" stroke="#00ffff" stroke-width="1.4"/>
<polyline points="448,495 458,495 458,503" fill="none" stroke="#00ffff" stroke-width="1.2"/>
<line x1="419.8" y1="499" x2="441.6" y2="499" stroke="#00ffff" stroke-width="1.5"/>
<polyline points="419.8,516.3 432,516.3" fill="none" stroke="#00ffff" stroke-width="1.5"/>
<polyline points="438.6,516.3 443.6,516.3 452,508" fill="none" stroke="#00ffff" stroke-width="1.5"/>
<line x1="442.6" y1="502" x2="442.6" y2="516" stroke="#00ffff" stroke-width="1.4"/>
<line x1="413" y1="500" x2="413" y2="533" stroke="#8c8c8c" stroke-width="1.8"/>
<line x1="416.5" y1="505" x2="416.5" y2="531" stroke="#8c8c8c" stroke-width="1"/>
<line x1="410" y1="532.6" x2="420" y2="532.6" stroke="#8c8c8c" stroke-width="1.6"/>
<line x1="410" y1="505.6" x2="447" y2="505.6" stroke="#8c8c8c" stroke-width="0.9"/>
<polyline points="436,517 436,528 441.6,528 441.6,517" fill="none" stroke="#8c8c8c" stroke-width="1"/>
<circle cx="423" cy="503.5" r="1.6" fill="#ffffff" stroke="#ffffff" stroke-width="0.6"/>
<circle cx="432" cy="501" r="1.6" fill="#ffffff" stroke="#ffffff" stroke-width="0.6"/>
<circle cx="438" cy="504" r="1.6" fill="#ffffff" stroke="#ffffff" stroke-width="0.6"/>
<circle cx="429" cy="519" r="1.6" fill="#ffffff" stroke="#ffffff" stroke-width="0.6"/>
<circle cx="445.5" cy="519.6" r="1.6" fill="#ffffff" stroke="#ffffff" stroke-width="0.6"/>
<polyline points="447.6,455 459.6,467" fill="none" stroke="#ffffff" stroke-width="1.4"/>
<polyline points="451,451.6 463.5,464" fill="none" stroke="#ffffff" stroke-width="1.2"/>
<polyline points="455.6,449 468,461.6" fill="none" stroke="#8c8c8c" stroke-width="2"/>
<polyline points="459,452 464,447" fill="none" stroke="#ffffff" stroke-width="1.2"/>
<polyline points="446,457 450,453" fill="none" stroke="#ffffff" stroke-width="1.2"/>
<polyline points="480.6,430 480.6,452 473,460" fill="none" stroke="#bf20ff" stroke-width="1" stroke-dasharray="2.2 1.2 0.9 1.2"/>
<polyline points="486.6,450 507,470 518,481" fill="none" stroke="#bf20ff" stroke-width="1" stroke-dasharray="2.2 1.2 0.9 1.2"/>
<polyline points="489,450.4 478,462" fill="none" stroke="#bf20ff" stroke-width="1"/>
<path d="M492,482 q5,-1 7,2 q-2,4 0,8 l3,4" fill="none" stroke="#ffff00" stroke-width="1"/>
<rect x="499" y="431.6" width="9.6" height="3.9" fill="none" stroke="#ffffff" stroke-width="0.9"/>
<text x="500.2" y="434.6" font-family="'Liberation Sans','Noto Sans CJK SC',sans-serif" font-size="3.7" font-weight="bold" fill="#ff0000" text-anchor="start" textLength="7.2" lengthAdjust="spacingAndGlyphs" stroke="#ff0000" stroke-width="0.55">3.73</text>
<text x="499.3" y="430.2" font-family="'Liberation Sans','Noto Sans CJK SC',sans-serif" font-size="2.6" font-weight="bold" fill="#ff0000" text-anchor="start" textLength="9" lengthAdjust="spacingAndGlyphs" stroke="#ff0000" stroke-width="0.6">CORRIDOR</text>
<text x="502.2" y="427.6" font-family="'Liberation Sans','Noto Sans CJK SC',sans-serif" font-size="2.2" font-weight="bold" fill="#ff0000" text-anchor="start" textLength="3.2" lengthAdjust="spacingAndGlyphs" stroke="#ff0000" stroke-width="0.5">2</text>
<rect x="462" y="473" width="6" height="3.9" fill="none" stroke="#ffffff" stroke-width="0.9"/>
<text x="463.2" y="476" font-family="'Liberation Sans','Noto Sans CJK SC',sans-serif" font-size="3.7" font-weight="bold" fill="#ff0000" text-anchor="start" textLength="3.6" lengthAdjust="spacingAndGlyphs" stroke="#ff0000" stroke-width="0.55">4.10</text>
<text x="463" y="471.6" font-family="'Liberation Sans','Noto Sans CJK SC',sans-serif" font-size="2.6" font-weight="bold" fill="#ff0000" text-anchor="start" textLength="4" lengthAdjust="spacingAndGlyphs" stroke="#ff0000" stroke-width="0.6">STAIR</text>
<text x="463.4" y="469" font-family="'Liberation Sans','Noto Sans CJK SC',sans-serif" font-size="2.2" font-weight="bold" fill="#ff0000" text-anchor="start" textLength="3.2" lengthAdjust="spacingAndGlyphs" stroke="#ff0000" stroke-width="0.5">3</text>
<rect x="484" y="512" width="9" height="3.9" fill="none" stroke="#ffffff" stroke-width="0.9"/>
<text x="485.2" y="515" font-family="'Liberation Sans','Noto Sans CJK SC',sans-serif" font-size="3.7" font-weight="bold" fill="#ff0000" text-anchor="start" textLength="6.6" lengthAdjust="spacingAndGlyphs" stroke="#ff0000" stroke-width="0.55">5.47</text>
<text x="484" y="510.6" font-family="'Liberation Sans','Noto Sans CJK SC',sans-serif" font-size="2.6" font-weight="bold" fill="#ff0000" text-anchor="start" textLength="9" lengthAdjust="spacingAndGlyphs" stroke="#ff0000" stroke-width="0.6">ELEV</text>
<text x="486.9" y="508" font-family="'Liberation Sans','Noto Sans CJK SC',sans-serif" font-size="2.2" font-weight="bold" fill="#ff0000" text-anchor="start" textLength="3.2" lengthAdjust="spacingAndGlyphs" stroke="#ff0000" stroke-width="0.5">4</text>
<rect x="420.6" y="511" width="9" height="3.9" fill="none" stroke="#ffffff" stroke-width="0.9"/>
<text x="421.8" y="514" font-family="'Liberation Sans','Noto Sans CJK SC',sans-serif" font-size="3.7" font-weight="bold" fill="#ff0000" text-anchor="start" textLength="6.6" lengthAdjust="spacingAndGlyphs" stroke="#ff0000" stroke-width="0.55">6.84</text>
<text x="422.1" y="509.6" font-family="'Liberation Sans','Noto Sans CJK SC',sans-serif" font-size="2.6" font-weight="bold" fill="#ff0000" text-anchor="start" textLength="6" lengthAdjust="spacingAndGlyphs" stroke="#ff0000" stroke-width="0.6">SHAFT</text>
<text x="423.5" y="507" font-family="'Liberation Sans','Noto Sans CJK SC',sans-serif" font-size="2.2" font-weight="bold" fill="#ff0000" text-anchor="start" textLength="3.2" lengthAdjust="spacingAndGlyphs" stroke="#ff0000" stroke-width="0.5">5</text>
<rect x="427.6" y="541.4" width="10" height="3.9" fill="none" stroke="#ffffff" stroke-width="0.9"/>
<text x="428.8" y="544.4" font-family="'Liberation Sans','Noto Sans CJK SC',sans-serif" font-size="3.7" font-weight="bold" fill="#ff0000" text-anchor="start" textLength="7.6" lengthAdjust="spacingAndGlyphs" stroke="#ff0000" stroke-width="0.55">7.21</text>
<text x="426.6" y="540" font-family="'Liberation Sans','Noto Sans CJK SC',sans-serif" font-size="2.6" font-weight="bold" fill="#ff0000" text-anchor="start" textLength="12" lengthAdjust="spacingAndGlyphs" stroke="#ff0000" stroke-width="0.6">ROOM</text>
<text x="431" y="537.4" font-family="'Liberation Sans','Noto Sans CJK SC',sans-serif" font-size="2.2" font-weight="bold" fill="#ff0000" text-anchor="start" textLength="3.2" lengthAdjust="spacingAndGlyphs" stroke="#ff0000" stroke-width="0.5">6</text>
<rect x="444.6" y="551.6" width="9" height="3.9" fill="none" stroke="#ffffff" stroke-width="0.9"/>
<text x="445.8" y="554.6" font-family="'Liberation Sans','Noto Sans CJK SC',sans-serif" font-size="3.7" font-weight="bold" fill="#ff0000" text-anchor="start" textLength="6.6" lengthAdjust="spacingAndGlyphs" stroke="#ff0000" stroke-width="0.55">8.58</text>
<text x="446.6" y="550.2" font-family="'Liberation Sans','Noto Sans CJK SC',sans-serif" font-size="2.6" font-weight="bold" fill="#ff0000" text-anchor="start" textLength="5" lengthAdjust="spacingAndGlyphs" stroke="#ff0000" stroke-width="0.6">STORE</text>
<text x="447.5" y="547.6" font-family="'Liberation Sans','Noto Sans CJK SC',sans-serif" font-size="2.2" font-weight="bold" fill="#ff0000" text-anchor="start" textLength="3.2" lengthAdjust="spacingAndGlyphs" stroke="#ff0000" stroke-width="0.5">7</text>
<rect x="456" y="547" width="9" height="3.9" fill="none" stroke="#ffffff" stroke-width="0.9"/>
<text x="457.2" y="550" font-family="'Liberation Sans','Noto Sans CJK SC',sans-serif" font-size="3.7" font-weight="bold" fill="#ff0000" text-anchor="start" textLength="6.6" lengthAdjust="spacingAndGlyphs" stroke="#ff0000" stroke-width="0.55">9.95</text>
<text x="454.5" y="545.6" font-family="'Liberation Sans','Noto Sans CJK SC',sans-serif" font-size="2.6" font-weight="bold" fill="#ff0000" text-anchor="start" textLength="12" lengthAdjust="spacingAndGlyphs" stroke="#ff0000" stroke-width="0.6">DUCT</text>
<text x="458.9" y="543" font-family="'Liberation Sans','Noto Sans CJK SC',sans-serif" font-size="2.2" font-weight="bold" fill="#ff0000" text-anchor="start" textLength="3.2" lengthAdjust="spacingAndGlyphs" stroke="#ff0000" stroke-width="0.5">1</text>
<rect x="470" y="552" width="9" height="3.9" fill="none" stroke="#ffffff" stroke-width="0.9"/>
<text x="471.2" y="555" font-family="'Liberation Sans','Noto Sans CJK SC',sans-serif" font-size="3.7" font-weight="bold" fill="#ff0000" text-anchor="start" textLength="6.6" lengthAdjust="spacingAndGlyphs" stroke="#ff0000" stroke-width="0.55">1.32</text>
<text x="469.5" y="550.6" font-family="'Liberation Sans','Noto Sans CJK SC',sans-serif" font-size="2.6" font-weight="bold" fill="#ff0000" text-anchor="start" textLength="10" lengthAdjust="spacingAndGlyphs" stroke="#ff0000" stroke-width="0.6">ENTRY</text>
<text x="472.9" y="548" font-family="'Liberation Sans','Noto Sans CJK SC',sans-serif" font-size="2.2" font-weight="bold" fill="#ff0000" text-anchor="start" textLength="3.2" lengthAdjust="spacingAndGlyphs" stroke="#ff0000" stroke-width="0.5">2</text>
<rect x="489.6" y="529.6" width="9.6" height="3.9" fill="none" stroke="#ffffff" stroke-width="0.9"/>
<text x="490.8" y="532.6" font-family="'Liberation Sans','Noto Sans CJK SC',sans-serif" font-size="3.7" font-weight="bold" fill="#ff0000" text-anchor="start" textLength="7.2" lengthAdjust="spacingAndGlyphs" stroke="#ff0000" stroke-width="0.55">2.69</text>
<text x="489.4" y="528.2" font-family="'Liberation Sans','Noto Sans CJK SC',sans-serif" font-size="2.6" font-weight="bold" fill="#ff0000" text-anchor="start" textLength="10" lengthAdjust="spacingAndGlyphs" stroke="#ff0000" stroke-width="0.6">OFFICE</text>
<text x="492.8" y="525.6" font-family="'Liberation Sans','Noto Sans CJK SC',sans-serif" font-size="2.2" font-weight="bold" fill="#ff0000" text-anchor="start" textLength="3.2" lengthAdjust="spacingAndGlyphs" stroke="#ff0000" stroke-width="0.5">3</text>
<rect x="520" y="549" width="9.6" height="3.9" fill="none" stroke="#ffffff" stroke-width="0.9"/>
<text x="521.2" y="552" font-family="'Liberation Sans','Noto Sans CJK SC',sans-serif" font-size="3.7" font-weight="bold" fill="#ff0000" text-anchor="start" textLength="7.2" lengthAdjust="spacingAndGlyphs" stroke="#ff0000" stroke-width="0.55">3.06</text>
<text x="518.3" y="547.6" font-family="'Liberation Sans','Noto Sans CJK SC',sans-serif" font-size="2.6" font-weight="bold" fill="#ff0000" text-anchor="start" textLength="13" lengthAdjust="spacingAndGlyphs" stroke="#ff0000" stroke-width="0.6">SECURITY</text>
<text x="523.2" y="545" font-family="'Liberation Sans','Noto Sans CJK SC',sans-serif" font-size="2.2" font-weight="bold" fill="#ff0000" text-anchor="start" textLength="3.2" lengthAdjust="spacingAndGlyphs" stroke="#ff0000" stroke-width="0.5">4</text>
<rect x="426" y="522.6" width="9" height="3.9" fill="none" stroke="#ffffff" stroke-width="0.9"/>
<text x="427.2" y="525.6" font-family="'Liberation Sans','Noto Sans CJK SC',sans-serif" font-size="3.7" font-weight="bold" fill="#ff0000" text-anchor="start" textLength="6.6" lengthAdjust="spacingAndGlyphs" stroke="#ff0000" stroke-width="0.55">4.43</text>
<text x="426" y="521.2" font-family="'Liberation Sans','Noto Sans CJK SC',sans-serif" font-size="2.6" font-weight="bold" fill="#ff0000" text-anchor="start" textLength="9" lengthAdjust="spacingAndGlyphs" stroke="#ff0000" stroke-width="0.6">TOILET</text>
<text x="428.9" y="518.6" font-family="'Liberation Sans','Noto Sans CJK SC',sans-serif" font-size="2.2" font-weight="bold" fill="#ff0000" text-anchor="start" textLength="3.2" lengthAdjust="spacingAndGlyphs" stroke="#ff0000" stroke-width="0.5">5</text>
<rect x="417.6" y="524" width="8" height="3.9" fill="none" stroke="#ffffff" stroke-width="0.9"/>
<text x="418.8" y="527" font-family="'Liberation Sans','Noto Sans CJK SC',sans-serif" font-size="3.7" font-weight="bold" fill="#ff0000" text-anchor="start" textLength="5.6" lengthAdjust="spacingAndGlyphs" stroke="#ff0000" stroke-width="0.55">5.80</text>
<text x="418.1" y="522.6" font-family="'Liberation Sans','Noto Sans CJK SC',sans-serif" font-size="2.6" font-weight="bold" fill="#ff0000" text-anchor="start" textLength="7" lengthAdjust="spacingAndGlyphs" stroke="#ff0000" stroke-width="0.6">PANTRY</text>
<text x="420" y="520" font-family="'Liberation Sans','Noto Sans CJK SC',sans-serif" font-size="2.2" font-weight="bold" fill="#ff0000" text-anchor="start" textLength="3.2" lengthAdjust="spacingAndGlyphs" stroke="#ff0000" stroke-width="0.5">6</text>
<line x1="520" y1="445" x2="520" y2="457" stroke="#ff0000" stroke-width="1.8"/>
<text x="526" y="454" font-family="'Liberation Sans',sans-serif" font-size="2.76" font-weight="bold" fill="#ff0000" stroke="#ff0000" stroke-width="0.88" textLength="11" lengthAdjust="spacingAndGlyphs">A-12</text>
<text x="529.6" y="451.2" font-family="'Liberation Sans',sans-serif" font-size="2.2" font-weight="bold" fill="#ff0000" stroke="#ff0000" stroke-width="0.64" textLength="6" lengthAdjust="spacingAndGlyphs">GLASS</text>
<rect x="462" y="440" width="1.6" height="6" fill="#ff0000"/>
<path d="M471,441 l8,8" fill="none" stroke="#ff0000" stroke-width="1.8"/>
<text x="480" y="459.6" font-family="'Liberation Sans',sans-serif" font-size="3.59" font-weight="bold" fill="#ff0000" stroke="#ff0000" stroke-width="0.9" textLength="11" lengthAdjust="spacingAndGlyphs">WALL</text>
<text x="497.6" y="424.2" font-family="'Liberation Sans',sans-serif" font-size="2.21" font-weight="bold" fill="#ff0000" stroke="#ff0000" stroke-width="0.76" textLength="4" lengthAdjust="spacingAndGlyphs">DOOR</text>
<path d="M498,475 l5,5 M501,478 l3,-2" fill="none" stroke="#ff0000" stroke-width="1.6"/>
<path d="M452,492 l10,10 M456,491 l8,8" fill="none" stroke="#ff0000" stroke-width="2"/>
<path d="M431,497 q4,-4 8,0 t6,4" fill="none" stroke="#ff0000" stroke-width="1.1"/>
<text x="466" y="496.2" font-family="'Liberation Sans',sans-serif" font-size="3.04" font-weight="bold" fill="#ff0000" stroke="#ff0000" stroke-width="0.9" textLength="12" lengthAdjust="spacingAndGlyphs">FFL</text>
<text x="474" y="499.8" font-family="'Liberation Sans',sans-serif" font-size="2.48" font-weight="bold" fill="#ff0000" stroke="#ff0000" stroke-width="0.82" textLength="8" lengthAdjust="spacingAndGlyphs">LOBBY</text>
<path d="M489,512 l8,-8 M493,516 l7,-7" fill="none" stroke="#ff0000" stroke-width="2"/>
<text x="426" y="537" font-family="'Liberation Sans',sans-serif" font-size="2.76" font-weight="bold" fill="#ff0000" stroke="#ff0000" stroke-width="0.88" textLength="11" lengthAdjust="spacingAndGlyphs">TB-1</text>
<text x="429" y="533" font-family="'Liberation Sans',sans-serif" font-size="2.2" font-weight="bold" fill="#ff0000" stroke="#ff0000" stroke-width="0.7" textLength="5" lengthAdjust="spacingAndGlyphs">2.55</text>
<text x="446" y="543" font-family="'Liberation Sans',sans-serif" font-size="2.2" font-weight="bold" fill="#ff0000" stroke="#ff0000" stroke-width="0.7" textLength="16" lengthAdjust="spacingAndGlyphs">STAIR RM-2</text>
<text x="450" y="546.2" font-family="'Liberation Sans',sans-serif" font-size="2.21" font-weight="bold" fill="#ff0000" stroke="#ff0000" stroke-width="0.76" textLength="12" lengthAdjust="spacingAndGlyphs">EL.3</text>
<text x="473" y="541" font-family="'Liberation Sans',sans-serif" font-size="4.14" font-weight="bold" fill="#ff0000" stroke="#ff0000" stroke-width="0.9" textLength="8" lengthAdjust="spacingAndGlyphs">DUCT</text>
<text x="476" y="545" font-family="'Liberation Sans',sans-serif" font-size="2.76" font-weight="bold" fill="#ff0000" stroke="#ff0000" stroke-width="0.88" textLength="5" lengthAdjust="spacingAndGlyphs">RM-2</text>
<text x="497" y="542" font-family="'Liberation Sans',sans-serif" font-size="2.76" font-weight="bold" fill="#ff0000" stroke="#ff0000" stroke-width="0.88" textLength="6" lengthAdjust="spacingAndGlyphs">1.75</text>
<text x="494" y="546.6" font-family="'Liberation Sans',sans-serif" font-size="2.21" font-weight="bold" fill="#ff0000" stroke="#ff0000" stroke-width="0.76" textLength="9" lengthAdjust="spacingAndGlyphs">ENTRY</text>
<text x="421" y="548" font-family="'Liberation Sans',sans-serif" font-size="4.14" font-weight="bold" fill="#ff0000" stroke="#ff0000" stroke-width="0.9" textLength="9" lengthAdjust="spacingAndGlyphs">CORE</text>
<text x="424" y="553.2" font-family="'Liberation Sans',sans-serif" font-size="3.59" font-weight="bold" fill="#ff0000" stroke="#ff0000" stroke-width="0.9" textLength="6" lengthAdjust="spacingAndGlyphs">SHAFT</text>
<text x="418" y="560.4" font-family="'Liberation Sans',sans-serif" font-size="3.31" font-weight="bold" fill="#ff0000" stroke="#ff0000" stroke-width="0.9" textLength="9" lengthAdjust="spacingAndGlyphs">A-12</text>
<path d="M514,544 l6,6 M518,543 l5,5" fill="none" stroke="#ff0000" stroke-width="1.6"/>
<polyline points="471,545 478,538" fill="none" stroke="#8c8c8c" stroke-width="2.6"/>
<polyline points="473,552 479,558" fill="none" stroke="#8c8c8c" stroke-width="2.2"/>
<polyline points="540,505 545,510" fill="none" stroke="#00ff00" stroke-width="1.8"/>
<line x1="419.4" y1="505" x2="419.4" y2="540" stroke="#00ff00" stroke-width="1.2"/>
<rect x="563.4" y="529.6" width="9.6" height="4" fill="none" stroke="#ffffff" stroke-width="0.9"/>
<text x="564.6" y="532.7" font-family="'Liberation Sans','Noto Sans CJK SC',sans-serif" font-size="3.8" font-weight="bold" fill="#ff0000" text-anchor="start" textLength="7.2" lengthAdjust="spacingAndGlyphs" stroke="#ff0000" stroke-width="0.55">6.17</text>
<text x="565.7" y="528.2" font-family="'Liberation Sans','Noto Sans CJK SC',sans-serif" font-size="2.6" font-weight="bold" fill="#ff0000" text-anchor="start" textLength="5" lengthAdjust="spacingAndGlyphs" stroke="#ff0000" stroke-width="0.6">RISER</text>
<text x="566.6" y="525.6" font-family="'Liberation Sans','Noto Sans CJK SC',sans-serif" font-size="2.2" font-weight="bold" fill="#ff0000" text-anchor="start" textLength="3.2" lengthAdjust="spacingAndGlyphs" stroke="#ff0000" stroke-width="0.5">7</text>
<line x1="545" y1="531.6" x2="563" y2="531.6" stroke="#ff0000" stroke-width="1"/>
<text x="565" y="538.4" font-family="'Liberation Sans',sans-serif" font-size="2.2" font-weight="bold" fill="#ff0000" stroke="#ff0000" stroke-width="0.7" textLength="6" lengthAdjust="spacingAndGlyphs">GLASS</text>
<line x1="820.4" y1="315.3" x2="1042" y2="315.3" stroke="#c4c4c4" stroke-width="0.9" stroke-dasharray="7 1.7 1.2 1.7"/>
<line x1="820.4" y1="342.5" x2="1042" y2="342.5" stroke="#c4c4c4" stroke-width="0.9" stroke-dasharray="7 1.7 1.2 1.7"/>
<line x1="820.4" y1="364.4" x2="1042" y2="364.4" stroke="#c4c4c4" stroke-width="0.9" stroke-dasharray="7 1.7 1.2 1.7"/>
<line x1="820.4" y1="397.5" x2="1042" y2="397.5" stroke="#c4c4c4" stroke-width="0.9" stroke-dasharray="7 1.7 1.2 1.7"/>
<line x1="820.4" y1="423.5" x2="1042" y2="423.5" stroke="#c4c4c4" stroke-width="0.9" stroke-dasharray="7 1.7 1.2 1.7"/>
<line x1="820.4" y1="449.4" x2="1042" y2="449.4" stroke="#c4c4c4" stroke-width="0.9" stroke-dasharray="7 1.7 1.2 1.7"/>
<line x1="820.4" y1="470.3" x2="1042" y2="470.3" stroke="#c4c4c4" stroke-width="0.9" stroke-dasharray="7 1.7 1.2 1.7"/>
<line x1="820.4" y1="475.4" x2="1042" y2="475.4" stroke="#c4c4c4" stroke-width="0.9" stroke-dasharray="7 1.7 1.2 1.7"/>
<line x1="907.3" y1="301.2" x2="907.3" y2="532" stroke="#c4c4c4" stroke-width="0.9" stroke-dasharray="7 1.7 1.2 1.7"/>
<line x1="933.3" y1="301.2" x2="933.3" y2="532" stroke="#c4c4c4" stroke-width="0.9" stroke-dasharray="7 1.7 1.2 1.7"/>
<line x1="959.4" y1="301.2" x2="959.4" y2="532" stroke="#c4c4c4" stroke-width="0.9" stroke-dasharray="7 1.7 1.2 1.7"/>
<line x1="980.2" y1="301.2" x2="980.2" y2="532" stroke="#c4c4c4" stroke-width="0.9" stroke-dasharray="7 1.7 1.2 1.7"/>
<line x1="985.4" y1="282.6" x2="985.4" y2="521" stroke="#c4c4c4" stroke-width="0.9" stroke-dasharray="7 1.7 1.2 1.7"/>
<line x1="989.5" y1="282.6" x2="989.5" y2="521" stroke="#c4c4c4" stroke-width="0.9" stroke-dasharray="7 1.7 1.2 1.7"/>
<polyline points="1021.3,362 1021.3,510.6 916.4,510.6 916.4,487" fill="none" stroke="#ffffff" stroke-width="3.7"/>
<polyline points="1021.3,362 1021.3,510.6 916.4,510.6 916.4,487" fill="none" stroke="#000" stroke-width="1.25" stroke-dasharray="7.7 1.2"/>
<polyline points="998.6,359.2 1012,359.2" fill="none" stroke="#ffffff" stroke-width="3.7"/>
<polyline points="998.6,359.2 1012,359.2" fill="none" stroke="#000" stroke-width="1.25" stroke-dasharray="7.7 1.2"/>
<rect x="1012.4" y="351.9" width="10" height="10" fill="#000" stroke="#ffffff" stroke-width="1.7"/>
<rect x="1014" y="353.5" width="6.8" height="6.8" fill="none" stroke="#ffff00" stroke-width="1.7"/>
<polyline points="995.65,351 995.65,428.26 984.65,438.86 984.65,476.65 951.31,476.65 941.91,485.45 860,485.45" fill="none" stroke="#ffffff" stroke-width="3.5" stroke-linejoin="miter"/>
<polyline points="993.2,351 993.2,427.21 982.2,437.81 982.2,474.2 950.34,474.2 940.94,483 860,483" fill="none" stroke="#00ffff" stroke-width="1.2"/>
<polyline points="991.8,351 991.8,426.62 980.8,437.22 980.8,472.8 949.79,472.8 940.39,481.6 860,481.6" fill="none" stroke="#ffffff" stroke-width="1.5"/>
<polyline points="991.7,351 991.7,426.58 980.7,437.18 980.7,472.7 949.75,472.7 940.35,481.5 860,481.5" fill="none" stroke="#000" stroke-width="0.8" stroke-dasharray="1 6"/>
<polyline points="989.5,351 989.5,425.64 978.5,436.24 978.5,470.5 948.88,470.5 939.48,479.3 860,479.3" fill="none" stroke="#00ffff" stroke-width="2.6" stroke-dasharray="1.4 7.6"/>
<polyline points="987.8,424.92 976.8,435.52 976.8,468.8 948.21,468.8 938.81,477.6 860,477.6" fill="none" stroke="#ffffff" stroke-width="0.9"/>
<line x1="996.08" y1="427.63" x2="985.08" y2="438.23" stroke="#000" stroke-width="2.2" stroke-dasharray="1 1"/>
<line x1="950.7" y1="477.01" x2="941.3" y2="485.81" stroke="#000" stroke-width="2.2" stroke-dasharray="1 1"/>
<rect x="859.6" y="477.4" width="82" height="4.6" fill="#ffffff"/>
<line x1="876" y1="484.2" x2="941" y2="484.2" stroke="#00ffff" stroke-width="1.8"/>
<line x1="866" y1="479.6" x2="940" y2="479.6" stroke="#00ffff" stroke-width="1.2" stroke-dasharray="1.2 8"/>
<rect x="957.2" y="337.6" width="32" height="10.4" fill="none" stroke="#ffffff" stroke-width="1"/>
<line x1="957.2" y1="338.2" x2="978.5" y2="338.2" stroke="#ffff00" stroke-width="1.3"/>
<line x1="977.6" y1="334.6" x2="977.6" y2="338" stroke="#ffff00" stroke-width="1.2"/>
<line x1="993" y1="334" x2="993" y2="338.6" stroke="#ffff00" stroke-width="1.2"/>
<rect x="958.2" y="340.6" width="3" height="3.6" fill="none" stroke="#ffffff" stroke-width="0.8"/>
<rect x="984.6" y="340.6" width="3" height="3.6" fill="none" stroke="#ffffff" stroke-width="0.8"/>
<line x1="957.6" y1="342.6" x2="988.6" y2="342.6" stroke="#8c8c8c" stroke-width="0.8" stroke-dasharray="4 1.5"/>
<polyline points="989.6,338.4 1000.6,338.4 1000.6,352.4 997.6,352.4" fill="none" stroke="#ffffff" stroke-width="1"/>
<polyline points="990,340.4 998.4,340.4 998.4,350" fill="none" stroke="#00ffff" stroke-width="1.5"/>
<rect x="991.4" y="342.6" width="4.4" height="4.4" fill="none" stroke="#00ffff" stroke-width="1.4"/>
<rect x="848.4" y="447.6" width="9.4" height="29.6" fill="none" stroke="#ffff00" stroke-width="1.2"/>
<rect x="850.6" y="449.4" width="5" height="2.4" fill="none" stroke="#ffffff" stroke-width="0.8"/>
<rect x="850.6" y="473" width="5" height="2.4" fill="none" stroke="#ffffff" stroke-width="0.8"/>
<path d="M838,467 h-2.4 v4 q0.5,3 2,4 M847,469 h-3 M838,475 q-3,4 0.6,7 M837.6,481.8 h-2 v5 h2" fill="none" stroke="#ffffff" stroke-width="1"/>
<rect x="835.6" y="468" width="2.2" height="2.2" fill="#ffff00"/>
<rect x="835.6" y="484.6" width="2.2" height="2.2" fill="#ffff00"/>
<path d="M839,471.6 q2,4.6 6,3.4 M845,469 v6" fill="none" stroke="#ff0000" stroke-width="1.2"/>
<path d="M839,484 q2,5.6 6,5 M845.4,484 v5.6" fill="none" stroke="#ff0000" stroke-width="1.2"/>
<polyline points="849.6,477 849.6,487 861.4,487 861.4,477" fill="none" stroke="#00ffff" stroke-width="1.6"/>
<rect x="851.6" y="479.6" width="3.4" height="3.6" fill="none" stroke="#00ffff" stroke-width="1.2"/>
<rect x="856.6" y="479.6" width="3.4" height="3.6" fill="none" stroke="#00ffff" stroke-width="1.2"/>
<polyline points="848,487 848,490.4 863,490.4 863,487" fill="none" stroke="#ffffff" stroke-width="0.9"/>
<line x1="848" y1="492.4" x2="863" y2="492.4" stroke="#ffffff" stroke-width="1" stroke-dasharray="1 2"/>
<text x="839" y="501.6" font-family="'Liberation Sans','Noto Sans CJK SC',sans-serif" font-size="4.4" font-weight="bold" fill="#00ffff" text-anchor="start" textLength="36.5" lengthAdjust="spacingAndGlyphs" stroke="#00ffff" stroke-width="0.3">GROUND LEVEL PLAN</text>
<polyline points="870.4,484.4 870.4,506.6 877.6,506.6 877.6,484.4" fill="none" stroke="#ffffff" stroke-width="1.3"/>
<path d="M866.6,486 v3 h3.4 M877.8,484.6 v6" fill="none" stroke="#00ffff" stroke-width="1.6"/>
<line x1="912.5" y1="483.8" x2="912.5" y2="512.7" stroke="#00ffff" stroke-width="2"/>
<line x1="914.6" y1="486" x2="914.6" y2="506" stroke="#00ffff" stroke-width="0.9"/>
<rect x="901" y="502.4" width="6.2" height="3.6" fill="none" stroke="#ffffff" stroke-width="1"/>
<g transform="translate(0 0)">
<line x1="957.2" y1="350.2" x2="957.2" y2="389" stroke="#00ffff" stroke-width="1.6"/>
<line x1="955.4" y1="350" x2="955.4" y2="389" stroke="#ffffff" stroke-width="0.9" stroke-dasharray="2 2.4"/>
<rect x="954.4" y="351.8" width="5" height="5.6" fill="none" stroke="#00ffff" stroke-width="1.2"/>
<rect x="954.4" y="370.6" width="5" height="5" fill="none" stroke="#00ffff" stroke-width="1.2"/>
<path d="M954.6,359 q3.6,1.6 0,3.6 q-3,2 0.6,4 q3,1.4 -0.4,3.6" fill="none" stroke="#ff0000" stroke-width="1.3"/>
<polyline points="957.2,389 937.9,409.7 955,423.1 949.6,429.2" fill="none" stroke="#00ffff" stroke-width="1.5"/>
<polyline points="956,388 939.6,405.6" fill="none" stroke="#ffffff" stroke-width="0.9"/>
<polyline points="940.6,412.4 951,421.6 947.6,425.6" fill="none" stroke="#ffffff" stroke-width="0.9" stroke-dasharray="1.2 0.9"/>
<polyline points="942.6,410.6 953,420 949,424.6" fill="none" stroke="#ffffff" stroke-width="0.9"/>
<polyline points="934,414.4 902,444" fill="none" stroke="#ffffff" stroke-width="1.2"/>
<polyline points="932.4,413.2 900.6,442.4" fill="none" stroke="#ffffff" stroke-width="0.9"/>
<line x1="862.7" y1="443.9" x2="902" y2="443.9" stroke="#00ffff" stroke-width="1.6"/>
<line x1="862.7" y1="442.4" x2="901" y2="442.4" stroke="#ffffff" stroke-width="0.9"/>
<line x1="910" y1="435.4" x2="914" y2="439.5" stroke="#ffffff" stroke-width="1"/>
<polyline points="933.4,452.8 927.5,446.9 941.6,432 951.3,442.4 980.2,442.4" fill="none" stroke="#00ffff" stroke-width="1.6"/>
<polyline points="941.6,434.6 931,446.4" fill="none" stroke="#00ffff" stroke-width="0.9"/>
<line x1="949.8" y1="442.4" x2="949.8" y2="453.5" stroke="#00ffff" stroke-width="1.6"/>
<line x1="945" y1="440.5" x2="948" y2="443.4" stroke="#ffffff" stroke-width="1.2"/>
<line x1="936" y1="428.6" x2="941" y2="433.6" stroke="#ffffff" stroke-width="1"/>
<polyline points="987.7,406.7 963.2,430.5" fill="none" stroke="#00ffff" stroke-width="1.6"/>
<polyline points="966,431.6 969.4,428" fill="none" stroke="#00ffff" stroke-width="1.2"/>
<circle cx="981" cy="423" r="3.4" fill="none" stroke="#00ffff" stroke-width="1"/>
<polygon points="978.4,423 981,420.6 983.6,423 981,425.6" fill="#ffffff" stroke="#ffffff" stroke-width="0.8"/>
<line x1="979.5" y1="423" x2="982.5" y2="423" stroke="#000" stroke-width="0.5"/>
<line x1="981" y1="421.5" x2="981" y2="424.5" stroke="#000" stroke-width="0.5"/>
<path d="M969.5,424 q3.4,-3 6.6,0 q-0.6,2.6 -3.4,2.6 q-2.6,0 -3.2,-2.6z" fill="none" stroke="#ffffff" stroke-width="0.9"/>
<path d="M968.4,436 q3.4,-3 6.6,0 q-0.6,2.6 -3.4,2.6 q-2.6,0 -3.2,-2.6z" fill="none" stroke="#ffffff" stroke-width="0.9"/>
<line x1="970.6" y1="427" x2="970.6" y2="434" stroke="#ff0000" stroke-width="1"/>
<line x1="962" y1="440.4" x2="970" y2="437.6" stroke="#ff0000" stroke-width="1"/>
<line x1="983.2" y1="414.5" x2="1002.5" y2="414.5" stroke="#ff0000" stroke-width="1"/>
<rect x="1002.6" y="412.5" width="10.2" height="4" fill="none" stroke="#ffffff" stroke-width="0.9"/>
<text x="1003.8" y="415.6" font-family="'Liberation Sans','Noto Sans CJK SC',sans-serif" font-size="3.8" font-weight="bold" fill="#ff0000" text-anchor="start" textLength="7.8" lengthAdjust="spacingAndGlyphs" stroke="#ff0000" stroke-width="0.55">7.54</text>
<text x="1003.2" y="411.1" font-family="'Liberation Sans','Noto Sans CJK SC',sans-serif" font-size="2.6" font-weight="bold" fill="#ff0000" text-anchor="start" textLength="9" lengthAdjust="spacingAndGlyphs" stroke="#ff0000" stroke-width="0.6">LOBBY</text>
<text x="1006.1" y="408.5" font-family="'Liberation Sans','Noto Sans CJK SC',sans-serif" font-size="2.2" font-weight="bold" fill="#ff0000" text-anchor="start" textLength="3.2" lengthAdjust="spacingAndGlyphs" stroke="#ff0000" stroke-width="0.5">1</text>
<line x1="975.8" y1="429" x2="1002.5" y2="429" stroke="#ff0000" stroke-width="1"/>
<rect x="1002.6" y="427" width="10.2" height="4" fill="none" stroke="#ffffff" stroke-width="0.9"/>
<text x="1003.8" y="430.1" font-family="'Liberation Sans','Noto Sans CJK SC',sans-serif" font-size="3.8" font-weight="bold" fill="#ff0000" text-anchor="start" textLength="7.8" lengthAdjust="spacingAndGlyphs" stroke="#ff0000" stroke-width="0.55">8.91</text>
<text x="1003.2" y="425.6" font-family="'Liberation Sans','Noto Sans CJK SC',sans-serif" font-size="2.6" font-weight="bold" fill="#ff0000" text-anchor="start" textLength="9" lengthAdjust="spacingAndGlyphs" stroke="#ff0000" stroke-width="0.6">CORRIDOR</text>
<text x="1006.1" y="423" font-family="'Liberation Sans','Noto Sans CJK SC',sans-serif" font-size="2.2" font-weight="bold" fill="#ff0000" text-anchor="start" textLength="3.2" lengthAdjust="spacingAndGlyphs" stroke="#ff0000" stroke-width="0.5">2</text>
<line x1="972.8" y1="440.5" x2="1002.5" y2="440.5" stroke="#ff0000" stroke-width="1"/>
<rect x="1002.6" y="438.5" width="10.2" height="4" fill="none" stroke="#ffffff" stroke-width="0.9"/>
<text x="1003.8" y="441.6" font-family="'Liberation Sans','Noto Sans CJK SC',sans-serif" font-size="3.8" font-weight="bold" fill="#ff0000" text-anchor="start" textLength="7.8" lengthAdjust="spacingAndGlyphs" stroke="#ff0000" stroke-width="0.55">9.28</text>
<text x="1003.2" y="437.1" font-family="'Liberation Sans','Noto Sans CJK SC',sans-serif" font-size="2.6" font-weight="bold" fill="#ff0000" text-anchor="start" textLength="9" lengthAdjust="spacingAndGlyphs" stroke="#ff0000" stroke-width="0.6">STAIR</text>
<text x="1006.1" y="434.5" font-family="'Liberation Sans','Noto Sans CJK SC',sans-serif" font-size="2.2" font-weight="bold" fill="#ff0000" text-anchor="start" textLength="3.2" lengthAdjust="spacingAndGlyphs" stroke="#ff0000" stroke-width="0.5">3</text>
<polyline points="937.8,467.7 937.8,461 950.4,461 950.4,467.7" fill="none" stroke="#00ffff" stroke-width="1.5"/>
<line x1="940" y1="462.6" x2="948" y2="462.6" stroke="#ffffff" stroke-width="0.8" stroke-dasharray="1.2 1"/>
<circle cx="932.6" cy="469.9" r="3.4" fill="none" stroke="#00ffff" stroke-width="1"/>
<polygon points="930,469.9 932.6,467.5 935.2,469.9 932.6,472.5" fill="#ffffff" stroke="#ffffff" stroke-width="0.8"/>
<line x1="931.1" y1="469.9" x2="934.1" y2="469.9" stroke="#000" stroke-width="0.5"/>
<line x1="932.6" y1="468.4" x2="932.6" y2="471.4" stroke="#000" stroke-width="0.5"/>
<polyline points="928.4,475 928.4,468.6 930,467" fill="none" stroke="#00ffff" stroke-width="1.5"/>
<path d="M930,463.4 h14 M937,461 v6" fill="none" stroke="#ff0000" stroke-width="0.9"/>
<rect x="868" y="437.4" width="10.6" height="4.2" fill="none" stroke="#ffffff" stroke-width="0.9"/>
<text x="869.2" y="440.7" font-family="'Liberation Sans','Noto Sans CJK SC',sans-serif" font-size="3.99" font-weight="bold" fill="#ff0000" text-anchor="start" textLength="8.2" lengthAdjust="spacingAndGlyphs" stroke="#ff0000" stroke-width="0.55">1.65</text>
<text x="868.3" y="436" font-family="'Liberation Sans','Noto Sans CJK SC',sans-serif" font-size="2.6" font-weight="bold" fill="#ff0000" text-anchor="start" textLength="10" lengthAdjust="spacingAndGlyphs" stroke="#ff0000" stroke-width="0.6">ELEV</text>
<text x="871.7" y="433.4" font-family="'Liberation Sans','Noto Sans CJK SC',sans-serif" font-size="2.2" font-weight="bold" fill="#ff0000" text-anchor="start" textLength="3.2" lengthAdjust="spacingAndGlyphs" stroke="#ff0000" stroke-width="0.5">4</text>
<rect x="934" y="447.6" width="9.8" height="4.2" fill="none" stroke="#ffffff" stroke-width="0.9"/>
<text x="935.2" y="450.9" font-family="'Liberation Sans','Noto Sans CJK SC',sans-serif" font-size="3.99" font-weight="bold" fill="#ff0000" text-anchor="start" textLength="7.4" lengthAdjust="spacingAndGlyphs" stroke="#ff0000" stroke-width="0.55">2.02</text>
<text x="931.9" y="446.2" font-family="'Liberation Sans','Noto Sans CJK SC',sans-serif" font-size="2.6" font-weight="bold" fill="#ff0000" text-anchor="start" textLength="14" lengthAdjust="spacingAndGlyphs" stroke="#ff0000" stroke-width="0.6">SHAFT</text>
<text x="937.3" y="443.6" font-family="'Liberation Sans','Noto Sans CJK SC',sans-serif" font-size="2.2" font-weight="bold" fill="#ff0000" text-anchor="start" textLength="3.2" lengthAdjust="spacingAndGlyphs" stroke="#ff0000" stroke-width="0.5">5</text>
<rect x="868" y="458" width="10.4" height="4.2" fill="none" stroke="#ffffff" stroke-width="0.9"/>
<text x="869.2" y="461.3" font-family="'Liberation Sans','Noto Sans CJK SC',sans-serif" font-size="3.99" font-weight="bold" fill="#ff0000" text-anchor="start" textLength="8" lengthAdjust="spacingAndGlyphs" stroke="#ff0000" stroke-width="0.55">3.39</text>
<text x="867.2" y="456.6" font-family="'Liberation Sans','Noto Sans CJK SC',sans-serif" font-size="2.6" font-weight="bold" fill="#ff0000" text-anchor="start" textLength="12" lengthAdjust="spacingAndGlyphs" stroke="#ff0000" stroke-width="0.6">ROOM</text>
<text x="871.6" y="454" font-family="'Liberation Sans','Noto Sans CJK SC',sans-serif" font-size="2.2" font-weight="bold" fill="#ff0000" text-anchor="start" textLength="3.2" lengthAdjust="spacingAndGlyphs" stroke="#ff0000" stroke-width="0.5">6</text>
<rect x="896.9" y="463.2" width="10.4" height="4.2" fill="none" stroke="#ffffff" stroke-width="0.9"/>
<text x="898.1" y="466.5" font-family="'Liberation Sans','Noto Sans CJK SC',sans-serif" font-size="3.99" font-weight="bold" fill="#ff0000" text-anchor="start" textLength="8" lengthAdjust="spacingAndGlyphs" stroke="#ff0000" stroke-width="0.55">4.76</text>
<text x="893.1" y="461.8" font-family="'Liberation Sans','Noto Sans CJK SC',sans-serif" font-size="2.6" font-weight="bold" fill="#ff0000" text-anchor="start" textLength="18" lengthAdjust="spacingAndGlyphs" stroke="#ff0000" stroke-width="0.6">STORE</text>
<text x="900.5" y="459.2" font-family="'Liberation Sans','Noto Sans CJK SC',sans-serif" font-size="2.2" font-weight="bold" fill="#ff0000" text-anchor="start" textLength="3.2" lengthAdjust="spacingAndGlyphs" stroke="#ff0000" stroke-width="0.5">7</text>
<rect x="882" y="470.6" width="10.4" height="4.2" fill="none" stroke="#ffffff" stroke-width="0.9"/>
<text x="883.2" y="473.9" font-family="'Liberation Sans','Noto Sans CJK SC',sans-serif" font-size="3.99" font-weight="bold" fill="#ff0000" text-anchor="start" textLength="8" lengthAdjust="spacingAndGlyphs" stroke="#ff0000" stroke-width="0.55">5.13</text>
<text x="884.7" y="469.2" font-family="'Liberation Sans','Noto Sans CJK SC',sans-serif" font-size="2.6" font-weight="bold" fill="#ff0000" text-anchor="start" textLength="5" lengthAdjust="spacingAndGlyphs" stroke="#ff0000" stroke-width="0.6">DUCT</text>
<text x="885.6" y="466.6" font-family="'Liberation Sans','Noto Sans CJK SC',sans-serif" font-size="2.2" font-weight="bold" fill="#ff0000" text-anchor="start" textLength="3.2" lengthAdjust="spacingAndGlyphs" stroke="#ff0000" stroke-width="0.5">1</text>
<rect x="916.2" y="464.7" width="10.4" height="4.2" fill="none" stroke="#ffffff" stroke-width="0.9"/>
<text x="917.4" y="468" font-family="'Liberation Sans','Noto Sans CJK SC',sans-serif" font-size="3.99" font-weight="bold" fill="#ff0000" text-anchor="start" textLength="8" lengthAdjust="spacingAndGlyphs" stroke="#ff0000" stroke-width="0.55">6.50</text>
<text x="916.9" y="463.3" font-family="'Liberation Sans','Noto Sans CJK SC',sans-serif" font-size="2.6" font-weight="bold" fill="#ff0000" text-anchor="start" textLength="9" lengthAdjust="spacingAndGlyphs" stroke="#ff0000" stroke-width="0.6">ENTRY</text>
<text x="919.8" y="460.7" font-family="'Liberation Sans','Noto Sans CJK SC',sans-serif" font-size="2.2" font-weight="bold" fill="#ff0000" text-anchor="start" textLength="3.2" lengthAdjust="spacingAndGlyphs" stroke="#ff0000" stroke-width="0.5">2</text>
<rect x="960.9" y="459.5" width="11" height="4.2" fill="none" stroke="#ffffff" stroke-width="0.9"/>
<text x="962.1" y="462.8" font-family="'Liberation Sans','Noto Sans CJK SC',sans-serif" font-size="3.99" font-weight="bold" fill="#ff0000" text-anchor="start" textLength="8.6" lengthAdjust="spacingAndGlyphs" stroke="#ff0000" stroke-width="0.55">7.87</text>
<text x="958.9" y="458.1" font-family="'Liberation Sans','Noto Sans CJK SC',sans-serif" font-size="2.6" font-weight="bold" fill="#ff0000" text-anchor="start" textLength="15" lengthAdjust="spacingAndGlyphs" stroke="#ff0000" stroke-width="0.6">OFFICE</text>
<text x="964.8" y="455.5" font-family="'Liberation Sans','Noto Sans CJK SC',sans-serif" font-size="2.2" font-weight="bold" fill="#ff0000" text-anchor="start" textLength="3.2" lengthAdjust="spacingAndGlyphs" stroke="#ff0000" stroke-width="0.5">3</text>
<rect x="966.9" y="372.5" width="11" height="4.2" fill="none" stroke="#ffffff" stroke-width="0.9"/>
<text x="968.1" y="375.8" font-family="'Liberation Sans','Noto Sans CJK SC',sans-serif" font-size="3.99" font-weight="bold" fill="#ff0000" text-anchor="start" textLength="8.6" lengthAdjust="spacingAndGlyphs" stroke="#ff0000" stroke-width="0.55">8.24</text>
<text x="965.9" y="371.1" font-family="'Liberation Sans','Noto Sans CJK SC',sans-serif" font-size="2.6" font-weight="bold" fill="#ff0000" text-anchor="start" textLength="13" lengthAdjust="spacingAndGlyphs" stroke="#ff0000" stroke-width="0.6">SECURITY</text>
<text x="970.8" y="368.5" font-family="'Liberation Sans','Noto Sans CJK SC',sans-serif" font-size="2.2" font-weight="bold" fill="#ff0000" text-anchor="start" textLength="3.2" lengthAdjust="spacingAndGlyphs" stroke="#ff0000" stroke-width="0.5">4</text>
<rect x="940" y="343.6" width="9.6" height="4.6" fill="none" stroke="#ffffff" stroke-width="0.9"/>
<text x="941.2" y="347.3" font-family="'Liberation Sans','Noto Sans CJK SC',sans-serif" font-size="4.37" font-weight="bold" fill="#ff0000" text-anchor="start" textLength="7.2" lengthAdjust="spacingAndGlyphs" stroke="#ff0000" stroke-width="0.55">9.61</text>
<text x="941.3" y="342.2" font-family="'Liberation Sans','Noto Sans CJK SC',sans-serif" font-size="2.6" font-weight="bold" fill="#ff0000" text-anchor="start" textLength="7" lengthAdjust="spacingAndGlyphs" stroke="#ff0000" stroke-width="0.6">TOILET</text>
<text x="943.2" y="339.6" font-family="'Liberation Sans','Noto Sans CJK SC',sans-serif" font-size="2.2" font-weight="bold" fill="#ff0000" text-anchor="start" textLength="3.2" lengthAdjust="spacingAndGlyphs" stroke="#ff0000" stroke-width="0.5">5</text>
<text x="941.4" y="347.6" font-family="'Liberation Sans',sans-serif" font-size="4.14" font-weight="bold" fill="#ff0000" stroke="#ff0000" stroke-width="0.9" textLength="7" lengthAdjust="spacingAndGlyphs">WALL</text>
<rect x="931.2" y="352.4" width="9.6" height="5" fill="none" stroke="#00ffff" stroke-width="1.2"/>
<rect x="933" y="354" width="6" height="1.8" fill="#00ffff"/>
<text x="913" y="442.2" font-family="'Liberation Sans','Noto Sans CJK SC',sans-serif" font-size="4.4" font-weight="bold" fill="#ff0000" text-anchor="start" textLength="11" lengthAdjust="spacingAndGlyphs" stroke="#ff0000" stroke-width="0.45">ROOM</text>
<text x="893" y="457.2" font-family="'Liberation Sans',sans-serif" font-size="2.21" font-weight="bold" fill="#ff0000" stroke="#ff0000" stroke-width="0.76" textLength="18" lengthAdjust="spacingAndGlyphs">DOOR WALL</text>
<text x="897" y="461" font-family="'Liberation Sans',sans-serif" font-size="3.59" font-weight="bold" fill="#ff0000" stroke="#ff0000" stroke-width="0.9" textLength="11" lengthAdjust="spacingAndGlyphs">FFL</text>
<text x="866" y="452.7" font-family="'Liberation Sans',sans-serif" font-size="2.2" font-weight="bold" fill="#ff0000" stroke="#ff0000" stroke-width="0.67" textLength="12" lengthAdjust="spacingAndGlyphs">LOBBY</text>
<text x="868" y="433.7" font-family="'Liberation Sans',sans-serif" font-size="2.2" font-weight="bold" fill="#ff0000" stroke="#ff0000" stroke-width="0.67" textLength="9" lengthAdjust="spacingAndGlyphs">TB-1</text>
<path d="M871,430 l3,3" fill="none" stroke="#ff0000" stroke-width="1"/>
<text x="940" y="418.9" font-family="'Liberation Sans',sans-serif" font-size="2.2" font-weight="bold" fill="#ff0000" stroke="#ff0000" stroke-width="0.67" textLength="8" lengthAdjust="spacingAndGlyphs">2.55</text>
<path d="M936,419 l4,-4" fill="none" stroke="#ff0000" stroke-width="1"/>
<path d="M944,424 q-4,2 -6.6,4.6" fill="none" stroke="#ff0000" stroke-width="1"/>
<path d="M940.8,388 l5,3.4 l-1.6,5 l2,3" fill="none" stroke="#ff0000" stroke-width="1"/>
<rect x="926" y="373" width="1.2" height="5" fill="#ff0000"/>
<path d="M928.4,377.6 l1.4,-2" fill="none" stroke="#ff0000" stroke-width="0.9"/>
<path d="M932,371 h8 v12 l-5,4 M934.4,374 h4 v5 h-4" fill="none" stroke="#00ffff" stroke-width="1.4"/>
<path d="M935,375.6 h3.4 v4.4 l-3.4,3.2" fill="none" stroke="#ffffff" stroke-width="1"/>
<path d="M936,384.6 l3,-2.2 l1.6,2 l-3.4,3 z" fill="#ffffff" stroke="#ffffff" stroke-width="0.8"/>
<line x1="930.6" y1="389.4" x2="934" y2="386.4" stroke="#00ff00" stroke-width="1.5"/>
<polyline points="862.7,443.9 862.7,453.5 858,453.5" fill="none" stroke="#00ff00" stroke-width="1.5"/>
<path d="M844.2,450 V454 Q844.2,456.5 847,456.5 H905" fill="none" stroke="#bf20ff" stroke-width="1" stroke-dasharray="2.4 1.2 0.9 1.2"/>
<polyline points="858,464 879.8,464 879.8,477" fill="none" stroke="#00ffff" stroke-width="1.6"/>
<line x1="885.8" y1="444" x2="885.8" y2="454.3" stroke="#00ffff" stroke-width="1.5"/>
<path d="M871.6,444.6 q1,5 6,5.4" fill="none" stroke="#ff0000" stroke-width="1.1"/>
<path d="M873,463 q1.6,6.4 6,6" fill="none" stroke="#ff0000" stroke-width="1.1"/>
<text x="861.6" y="467.2" font-family="'Liberation Sans',sans-serif" font-size="2.21" font-weight="bold" fill="#ff0000" stroke="#ff0000" stroke-width="0.76" textLength="8" lengthAdjust="spacingAndGlyphs">STAIR</text>
<text x="862.4" y="469.8" font-family="'Liberation Sans',sans-serif" font-size="2.2" font-weight="bold" fill="#ff0000" stroke="#ff0000" stroke-width="0.7" textLength="5" lengthAdjust="spacingAndGlyphs">EL.3</text>
<path d="M866,470 l6,3.4 h7" fill="none" stroke="#ff0000" stroke-width="1"/>
<text x="905" y="454" font-family="'Liberation Sans',sans-serif" font-size="2.2" font-weight="bold" fill="#ff0000" stroke="#ff0000" stroke-width="0.7" textLength="6" lengthAdjust="spacingAndGlyphs">DUCT</text>
</g>
<line x1="94.9" y1="396.2" x2="116.4" y2="396.2" stroke="#ff0000" stroke-width="1"/>
<text x="119" y="397.6" font-family="'Liberation Sans','Noto Sans CJK SC',sans-serif" font-size="3.6" font-weight="bold" fill="#ff0000" text-anchor="start" textLength="8" lengthAdjust="spacingAndGlyphs" stroke="#ff0000" stroke-width="0.2">XX+</text>
<text x="112" y="401" font-family="'Liberation Sans','Noto Sans CJK SC',sans-serif" font-size="2.6" font-weight="bold" fill="#ff0000" text-anchor="start" textLength="23.6" lengthAdjust="spacingAndGlyphs" stroke="#ff0000" stroke-width="0.4">SEE A2 ENLARGED</text>
<line x1="646.2" y1="396.2" x2="668.5" y2="396.2" stroke="#ff0000" stroke-width="1"/>
<rect x="667.4" y="395.4" width="1.6" height="1.6" fill="#ff0000"/>
<text x="632" y="397" font-family="'Liberation Sans','Noto Sans CJK SC',sans-serif" font-size="3.6" font-weight="bold" fill="#ff0000" text-anchor="start" textLength="9" lengthAdjust="spacingAndGlyphs" stroke="#ff0000" stroke-width="0.2">XX+</text>
<text x="625" y="400.4" font-family="'Liberation Sans','Noto Sans CJK SC',sans-serif" font-size="2.6" font-weight="bold" fill="#ff0000" text-anchor="start" textLength="24" lengthAdjust="spacingAndGlyphs" stroke="#ff0000" stroke-width="0.4">SEE A3 ENLARGED</text>
<text x="410.6" y="627.8" font-family="'Liberation Sans','Noto Sans CJK SC',sans-serif" font-size="12.2" font-weight="normal" fill="#ffffff" text-anchor="start" textLength="43" lengthAdjust="spacingAndGlyphs">??????</text>
<line x1="409.4" y1="629.2" x2="480.8" y2="629.2" stroke="#8c8c8c" stroke-width="1.6"/>
<text x="410.4" y="633.9" font-family="'Liberation Sans','Noto Sans CJK SC',sans-serif" font-size="4.2" font-weight="bold" fill="#00ffff" text-anchor="start" textLength="48" lengthAdjust="spacingAndGlyphs" stroke="#00ffff" stroke-width="0.5">GROUND LEVEL PLAN-WEST</text>
<text x="468.2" y="633.9" font-family="'Liberation Sans','Noto Sans CJK SC',sans-serif" font-size="4.2" font-weight="bold" fill="#00ffff" text-anchor="start" textLength="12.4" lengthAdjust="spacingAndGlyphs" stroke="#00ffff" stroke-width="0.5">1:100</text>
</svg>
</body></html>
